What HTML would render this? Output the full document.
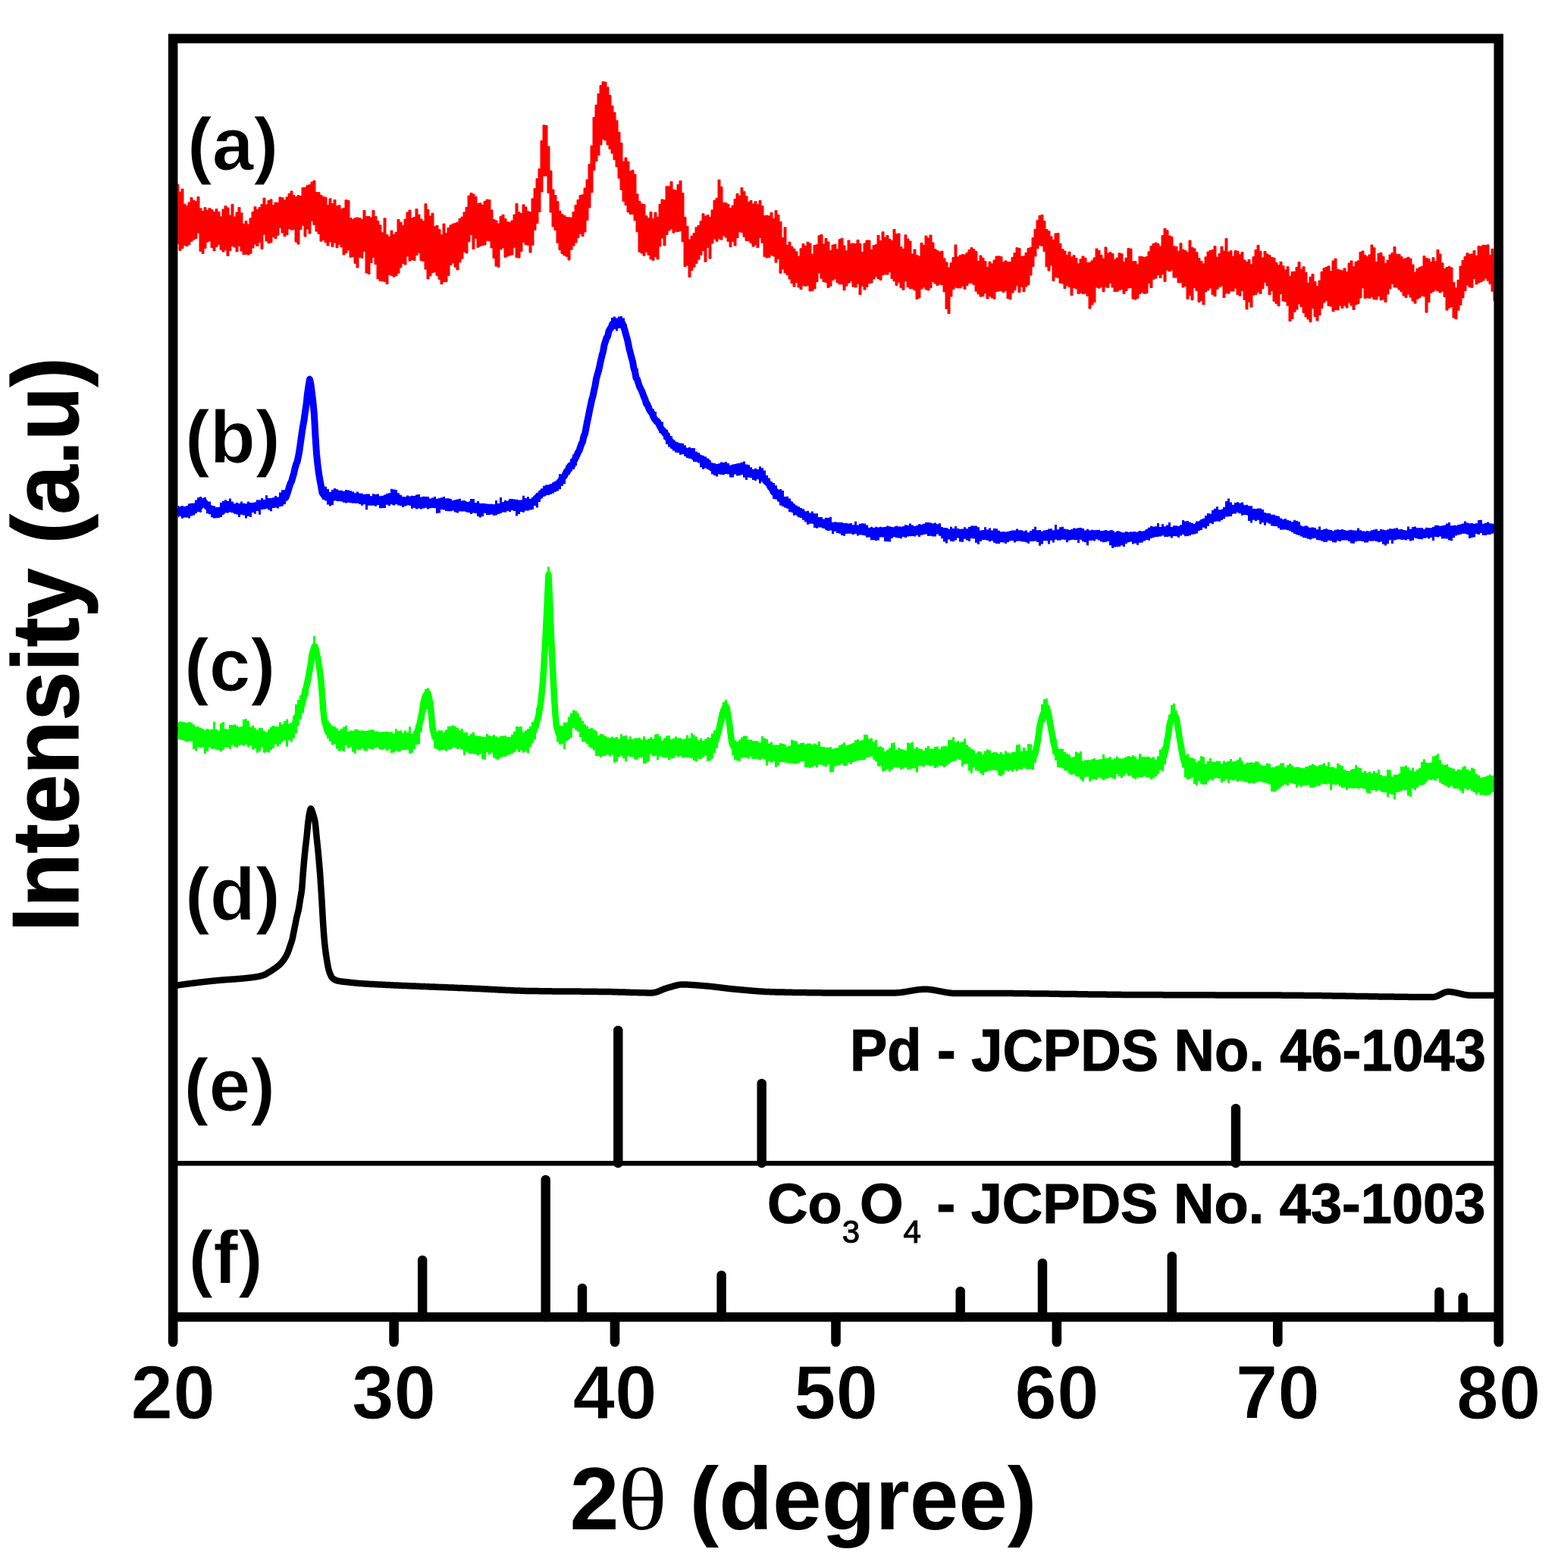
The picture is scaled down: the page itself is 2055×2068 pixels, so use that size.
<!DOCTYPE html>
<html><head><meta charset="utf-8"><style>
html,body{margin:0;padding:0;background:#fff;overflow:hidden;}
svg{display:block;}
</style></head><body>
<svg width="2055" height="2068" viewBox="0 0 2055 2068">
<rect width="2055" height="2068" fill="#fff"/>
<g fill="none" stroke-linejoin="round" stroke-linecap="round">
<path d="M234.5 243.2 L236.0 243.2 L236.0 253.1 L239.0 253.1 L239.0 249.2 L242.0 249.2 L242.0 269.2 L245.0 269.2 L245.0 271.4 L248.0 271.4 L248.0 267.0 L251.0 267.0 L251.0 260.5 L254.0 260.5 L254.0 264.3 L257.0 264.3 L257.0 265.8 L260.0 265.8 L260.0 259.7 L263.0 259.7 L263.0 274.9 L266.0 274.9 L266.0 278.6 L269.0 278.6 L269.0 273.7 L272.0 273.7 L272.0 277.4 L275.0 277.4 L275.0 274.7 L278.0 274.7 L278.0 276.5 L281.0 276.5 L281.0 279.6 L284.0 279.6 L284.0 275.7 L287.0 275.7 L287.0 279.4 L290.0 279.4 L290.0 285.8 L293.0 285.8 L293.0 276.0 L296.0 276.0 L296.0 271.6 L299.0 271.6 L299.0 274.0 L302.0 274.0 L302.0 284.0 L305.0 284.0 L305.0 269.4 L308.0 269.4 L308.0 285.9 L311.0 285.9 L311.0 280.0 L314.0 280.0 L314.0 273.5 L317.0 273.5 L317.0 280.9 L320.0 280.9 L320.0 295.4 L323.0 295.4 L323.0 291.6 L326.0 291.6 L326.0 296.1 L329.0 296.1 L329.0 287.8 L332.0 287.8 L332.0 279.5 L335.0 279.5 L335.0 272.8 L338.0 272.8 L338.0 276.5 L341.0 276.5 L341.0 273.6 L344.0 273.6 L344.0 269.4 L347.0 269.4 L347.0 261.2 L350.0 261.2 L350.0 269.9 L353.0 269.9 L353.0 264.5 L356.0 264.5 L356.0 262.9 L359.0 262.9 L359.0 270.5 L362.0 270.5 L362.0 267.1 L365.0 267.1 L365.0 267.2 L368.0 267.2 L368.0 260.1 L371.0 260.1 L371.0 260.8 L374.0 260.8 L374.0 263.9 L377.0 263.9 L377.0 259.9 L380.0 259.9 L380.0 255.4 L383.0 255.4 L383.0 252.1 L386.0 252.1 L386.0 257.5 L389.0 257.5 L389.0 259.8 L392.0 259.8 L392.0 257.7 L395.0 257.7 L395.0 258.7 L398.0 258.7 L398.0 247.5 L401.0 247.5 L401.0 247.3 L404.0 247.3 L404.0 244.4 L407.0 244.4 L407.0 243.7 L410.0 243.7 L410.0 240.1 L413.0 240.1 L413.0 238.2 L416.0 238.2 L416.0 253.5 L419.0 253.5 L419.0 253.8 L422.0 253.8 L422.0 257.4 L425.0 257.4 L425.0 259.6 L428.0 259.6 L428.0 260.2 L431.0 260.2 L431.0 270.6 L434.0 270.6 L434.0 261.9 L437.0 261.9 L437.0 268.6 L440.0 268.6 L440.0 263.6 L443.0 263.6 L443.0 271.5 L446.0 271.5 L446.0 270.8 L449.0 270.8 L449.0 275.5 L452.0 275.5 L452.0 274.4 L455.0 274.4 L455.0 263.8 L458.0 263.8 L458.0 264.4 L461.0 264.4 L461.0 287.5 L464.0 287.5 L464.0 289.3 L467.0 289.3 L467.0 287.4 L470.0 287.4 L470.0 287.0 L473.0 287.0 L473.0 287.7 L476.0 287.7 L476.0 289.3 L479.0 289.3 L479.0 277.5 L482.0 277.5 L482.0 285.6 L485.0 285.6 L485.0 285.5 L488.0 285.5 L488.0 287.0 L491.0 287.0 L491.0 277.4 L494.0 277.4 L494.0 285.5 L497.0 285.5 L497.0 291.5 L500.0 291.5 L500.0 296.9 L503.0 296.9 L503.0 306.8 L506.0 306.8 L506.0 287.8 L509.0 287.8 L509.0 309.7 L512.0 309.7 L512.0 312.1 L515.0 312.1 L515.0 304.2 L518.0 304.2 L518.0 309.5 L521.0 309.5 L521.0 306.3 L524.0 306.3 L524.0 289.4 L527.0 289.4 L527.0 293.2 L530.0 293.2 L530.0 297.5 L533.0 297.5 L533.0 289.1 L536.0 289.1 L536.0 280.0 L539.0 280.0 L539.0 277.1 L542.0 277.1 L542.0 287.7 L545.0 287.7 L545.0 286.4 L548.0 286.4 L548.0 275.6 L551.0 275.6 L551.0 283.1 L554.0 283.1 L554.0 288.9 L557.0 288.9 L557.0 291.7 L560.0 291.7 L560.0 268.8 L563.0 268.8 L563.0 276.5 L566.0 276.5 L566.0 285.1 L569.0 285.1 L569.0 281.2 L572.0 281.2 L572.0 298.8 L575.0 298.8 L575.0 297.3 L578.0 297.3 L578.0 302.7 L581.0 302.7 L581.0 309.7 L584.0 309.7 L584.0 295.1 L587.0 295.1 L587.0 307.4 L590.0 307.4 L590.0 300.5 L593.0 300.5 L593.0 296.9 L596.0 296.9 L596.0 295.2 L599.0 295.2 L599.0 294.4 L602.0 294.4 L602.0 293.2 L605.0 293.2 L605.0 288.5 L608.0 288.5 L608.0 286.1 L611.0 286.1 L611.0 279.9 L614.0 279.9 L614.0 273.3 L617.0 273.3 L617.0 258.2 L620.0 258.2 L620.0 254.6 L623.0 254.6 L623.0 256.0 L626.0 256.0 L626.0 259.4 L629.0 259.4 L629.0 268.6 L632.0 268.6 L632.0 267.8 L635.0 267.8 L635.0 270.3 L638.0 270.3 L638.0 265.6 L641.0 265.6 L641.0 263.2 L644.0 263.2 L644.0 263.7 L647.0 263.7 L647.0 276.9 L650.0 276.9 L650.0 289.6 L653.0 289.6 L653.0 290.9 L656.0 290.9 L656.0 294.9 L659.0 294.9 L659.0 285.6 L662.0 285.6 L662.0 283.2 L665.0 283.2 L665.0 288.6 L668.0 288.6 L668.0 292.7 L671.0 292.7 L671.0 293.2 L674.0 293.2 L674.0 291.0 L677.0 291.0 L677.0 283.1 L680.0 283.1 L680.0 268.5 L683.0 268.5 L683.0 279.8 L686.0 279.8 L686.0 281.6 L689.0 281.6 L689.0 269.9 L692.0 269.9 L692.0 273.0 L695.0 273.0 L695.0 278.8 L698.0 278.8 L698.0 279.7 L701.0 279.7 L701.0 261.9 L704.0 261.9 L704.0 248.7 L707.0 248.7 L707.0 235.7 L710.0 235.7 L710.0 222.7 L713.0 222.7 L713.0 185.7 L716.0 185.7 L716.0 165.0 L719.0 165.0 L719.0 165.6 L722.0 165.6 L722.0 193.1 L725.0 193.1 L725.0 225.2 L728.0 225.2 L728.0 250.0 L731.0 250.0 L731.0 257.6 L734.0 257.6 L734.0 265.8 L737.0 265.8 L737.0 278.2 L740.0 278.2 L740.0 282.4 L743.0 282.4 L743.0 284.3 L746.0 284.3 L746.0 286.5 L749.0 286.5 L749.0 286.8 L752.0 286.8 L752.0 287.1 L755.0 287.1 L755.0 279.6 L758.0 279.6 L758.0 270.4 L761.0 270.4 L761.0 263.6 L764.0 263.6 L764.0 257.7 L767.0 257.7 L767.0 256.8 L770.0 256.8 L770.0 248.0 L773.0 248.0 L773.0 236.9 L776.0 236.9 L776.0 216.6 L779.0 216.6 L779.0 192.2 L782.0 192.2 L782.0 154.8 L785.0 154.8 L785.0 138.4 L788.0 138.4 L788.0 123.7 L791.0 123.7 L791.0 112.7 L794.0 112.7 L794.0 107.8 L797.0 107.8 L797.0 108.2 L800.0 108.2 L800.0 114.9 L803.0 114.9 L803.0 125.6 L806.0 125.6 L806.0 139.6 L809.0 139.6 L809.0 148.2 L812.0 148.2 L812.0 158.9 L815.0 158.9 L815.0 174.3 L818.0 174.3 L818.0 188.6 L821.0 188.6 L821.0 213.1 L824.0 213.1 L824.0 208.0 L827.0 208.0 L827.0 213.2 L830.0 213.2 L830.0 225.7 L833.0 225.7 L833.0 224.3 L836.0 224.3 L836.0 229.9 L839.0 229.9 L839.0 255.9 L842.0 255.9 L842.0 265.4 L845.0 265.4 L845.0 268.8 L848.0 268.8 L848.0 269.6 L851.0 269.6 L851.0 284.7 L854.0 284.7 L854.0 287.8 L857.0 287.8 L857.0 279.5 L860.0 279.5 L860.0 288.6 L863.0 288.6 L863.0 280.2 L866.0 280.2 L866.0 286.3 L869.0 286.3 L869.0 269.4 L872.0 269.4 L872.0 263.0 L875.0 263.0 L875.0 263.8 L878.0 263.8 L878.0 245.7 L881.0 245.7 L881.0 246.0 L884.0 246.0 L884.0 239.6 L887.0 239.6 L887.0 250.1 L890.0 250.1 L890.0 251.1 L893.0 251.1 L893.0 243.6 L896.0 243.6 L896.0 238.5 L899.0 238.5 L899.0 254.7 L902.0 254.7 L902.0 286.4 L905.0 286.4 L905.0 298.4 L908.0 298.4 L908.0 316.0 L911.0 316.0 L911.0 311.2 L914.0 311.2 L914.0 307.6 L917.0 307.6 L917.0 299.9 L920.0 299.9 L920.0 297.5 L923.0 297.5 L923.0 291.7 L926.0 291.7 L926.0 281.8 L929.0 281.8 L929.0 285.1 L932.0 285.1 L932.0 283.5 L935.0 283.5 L935.0 286.4 L938.0 286.4 L938.0 276.9 L941.0 276.9 L941.0 264.2 L944.0 264.2 L944.0 261.3 L947.0 261.3 L947.0 237.2 L950.0 237.2 L950.0 246.3 L953.0 246.3 L953.0 267.4 L956.0 267.4 L956.0 267.6 L959.0 267.6 L959.0 269.5 L962.0 269.5 L962.0 274.7 L965.0 274.7 L965.0 271.1 L968.0 271.1 L968.0 262.8 L971.0 262.8 L971.0 255.4 L974.0 255.4 L974.0 258.5 L977.0 258.5 L977.0 247.6 L980.0 247.6 L980.0 252.7 L983.0 252.7 L983.0 258.8 L986.0 258.8 L986.0 266.2 L989.0 266.2 L989.0 264.5 L992.0 264.5 L992.0 269.0 L995.0 269.0 L995.0 265.8 L998.0 265.8 L998.0 269.8 L1001.0 269.8 L1001.0 264.5 L1004.0 264.5 L1004.0 271.5 L1007.0 271.5 L1007.0 284.4 L1010.0 284.4 L1010.0 284.1 L1013.0 284.1 L1013.0 284.9 L1016.0 284.9 L1016.0 280.4 L1019.0 280.4 L1019.0 288.4 L1022.0 288.4 L1022.0 277.7 L1025.0 277.7 L1025.0 283.3 L1028.0 283.3 L1028.0 292.3 L1031.0 292.3 L1031.0 313.6 L1034.0 313.6 L1034.0 299.9 L1037.0 299.9 L1037.0 323.3 L1040.0 323.3 L1040.0 319.1 L1043.0 319.1 L1043.0 325.2 L1046.0 325.2 L1046.0 328.3 L1049.0 328.3 L1049.0 331.9 L1052.0 331.9 L1052.0 338.0 L1055.0 338.0 L1055.0 327.8 L1058.0 327.8 L1058.0 321.6 L1061.0 321.6 L1061.0 324.5 L1064.0 324.5 L1064.0 319.2 L1067.0 319.2 L1067.0 321.0 L1070.0 321.0 L1070.0 335.2 L1073.0 335.2 L1073.0 323.4 L1076.0 323.4 L1076.0 322.8 L1079.0 322.8 L1079.0 310.7 L1082.0 310.7 L1082.0 309.4 L1085.0 309.4 L1085.0 322.0 L1088.0 322.0 L1088.0 314.6 L1091.0 314.6 L1091.0 319.0 L1094.0 319.0 L1094.0 330.4 L1097.0 330.4 L1097.0 323.1 L1100.0 323.1 L1100.0 322.2 L1103.0 322.2 L1103.0 328.8 L1106.0 328.8 L1106.0 315.8 L1109.0 315.8 L1109.0 314.2 L1112.0 314.2 L1112.0 323.9 L1115.0 323.9 L1115.0 330.8 L1118.0 330.8 L1118.0 317.0 L1121.0 317.0 L1121.0 321.3 L1124.0 321.3 L1124.0 321.0 L1127.0 321.0 L1127.0 321.4 L1130.0 321.4 L1130.0 316.4 L1133.0 316.4 L1133.0 321.3 L1136.0 321.3 L1136.0 332.6 L1139.0 332.6 L1139.0 321.0 L1142.0 321.0 L1142.0 317.0 L1145.0 317.0 L1145.0 317.1 L1148.0 317.1 L1148.0 329.2 L1151.0 329.2 L1151.0 323.7 L1154.0 323.7 L1154.0 322.7 L1157.0 322.7 L1157.0 310.3 L1160.0 310.3 L1160.0 317.5 L1163.0 317.5 L1163.0 305.8 L1166.0 305.8 L1166.0 313.1 L1169.0 313.1 L1169.0 310.6 L1172.0 310.6 L1172.0 315.6 L1175.0 315.6 L1175.0 317.4 L1178.0 317.4 L1178.0 302.5 L1181.0 302.5 L1181.0 308.6 L1184.0 308.6 L1184.0 308.1 L1187.0 308.1 L1187.0 325.6 L1190.0 325.6 L1190.0 328.7 L1193.0 328.7 L1193.0 309.8 L1196.0 309.8 L1196.0 315.1 L1199.0 315.1 L1199.0 318.1 L1202.0 318.1 L1202.0 335.1 L1205.0 335.1 L1205.0 329.0 L1208.0 329.0 L1208.0 336.7 L1211.0 336.7 L1211.0 338.0 L1214.0 338.0 L1214.0 320.4 L1217.0 320.4 L1217.0 323.5 L1220.0 323.5 L1220.0 311.1 L1223.0 311.1 L1223.0 314.0 L1226.0 314.0 L1226.0 310.0 L1229.0 310.0 L1229.0 320.0 L1232.0 320.0 L1232.0 328.7 L1235.0 328.7 L1235.0 330.6 L1238.0 330.6 L1238.0 332.1 L1241.0 332.1 L1241.0 331.2 L1244.0 331.2 L1244.0 340.9 L1247.0 340.9 L1247.0 345.9 L1250.0 345.9 L1250.0 353.0 L1253.0 353.0 L1253.0 346.8 L1256.0 346.8 L1256.0 339.5 L1259.0 339.5 L1259.0 323.0 L1262.0 323.0 L1262.0 339.0 L1265.0 339.0 L1265.0 336.8 L1268.0 336.8 L1268.0 335.6 L1271.0 335.6 L1271.0 336.0 L1274.0 336.0 L1274.0 333.4 L1277.0 333.4 L1277.0 329.6 L1280.0 329.6 L1280.0 326.6 L1283.0 326.6 L1283.0 328.8 L1286.0 328.8 L1286.0 331.5 L1289.0 331.5 L1289.0 344.4 L1292.0 344.4 L1292.0 337.0 L1295.0 337.0 L1295.0 340.2 L1298.0 340.2 L1298.0 344.7 L1301.0 344.7 L1301.0 352.2 L1304.0 352.2 L1304.0 345.3 L1307.0 345.3 L1307.0 347.9 L1310.0 347.9 L1310.0 343.1 L1313.0 343.1 L1313.0 338.0 L1316.0 338.0 L1316.0 337.9 L1319.0 337.9 L1319.0 338.5 L1322.0 338.5 L1322.0 345.6 L1325.0 345.6 L1325.0 343.9 L1328.0 343.9 L1328.0 345.5 L1331.0 345.5 L1331.0 345.5 L1334.0 345.5 L1334.0 339.3 L1337.0 339.3 L1337.0 333.6 L1340.0 333.6 L1340.0 326.7 L1343.0 326.7 L1343.0 327.6 L1346.0 327.6 L1346.0 338.1 L1349.0 338.1 L1349.0 337.9 L1352.0 337.9 L1352.0 333.4 L1355.0 333.4 L1355.0 327.7 L1358.0 327.7 L1358.0 326.2 L1361.0 326.2 L1361.0 313.5 L1364.0 313.5 L1364.0 302.3 L1367.0 302.3 L1367.0 290.8 L1370.0 290.8 L1370.0 284.3 L1373.0 284.3 L1373.0 283.4 L1376.0 283.4 L1376.0 291.4 L1379.0 291.4 L1379.0 302.6 L1382.0 302.6 L1382.0 304.8 L1385.0 304.8 L1385.0 311.9 L1388.0 311.9 L1388.0 316.4 L1391.0 316.4 L1391.0 307.9 L1394.0 307.9 L1394.0 307.6 L1397.0 307.6 L1397.0 321.3 L1400.0 321.3 L1400.0 328.6 L1403.0 328.6 L1403.0 331.1 L1406.0 331.1 L1406.0 336.6 L1409.0 336.6 L1409.0 332.1 L1412.0 332.1 L1412.0 339.0 L1415.0 339.0 L1415.0 336.8 L1418.0 336.8 L1418.0 340.4 L1421.0 340.4 L1421.0 347.8 L1424.0 347.8 L1424.0 341.7 L1427.0 341.7 L1427.0 337.9 L1430.0 337.9 L1430.0 340.2 L1433.0 340.2 L1433.0 346.3 L1436.0 346.3 L1436.0 346.2 L1439.0 346.2 L1439.0 343.8 L1442.0 343.8 L1442.0 339.9 L1445.0 339.9 L1445.0 328.1 L1448.0 328.1 L1448.0 330.4 L1451.0 330.4 L1451.0 336.4 L1454.0 336.4 L1454.0 341.1 L1457.0 341.1 L1457.0 326.0 L1460.0 326.0 L1460.0 334.0 L1463.0 334.0 L1463.0 332.8 L1466.0 332.8 L1466.0 334.6 L1469.0 334.6 L1469.0 342.3 L1472.0 342.3 L1472.0 340.0 L1475.0 340.0 L1475.0 333.7 L1478.0 333.7 L1478.0 334.8 L1481.0 334.8 L1481.0 345.3 L1484.0 345.3 L1484.0 340.2 L1487.0 340.2 L1487.0 327.5 L1490.0 327.5 L1490.0 328.2 L1493.0 328.2 L1493.0 344.7 L1496.0 344.7 L1496.0 344.7 L1499.0 344.7 L1499.0 348.9 L1502.0 348.9 L1502.0 338.2 L1505.0 338.2 L1505.0 338.5 L1508.0 338.5 L1508.0 339.5 L1511.0 339.5 L1511.0 338.4 L1514.0 338.4 L1514.0 331.9 L1517.0 331.9 L1517.0 324.6 L1520.0 324.6 L1520.0 321.5 L1523.0 321.5 L1523.0 320.1 L1526.0 320.1 L1526.0 321.4 L1529.0 321.4 L1529.0 325.0 L1532.0 325.0 L1532.0 310.6 L1535.0 310.6 L1535.0 301.3 L1538.0 301.3 L1538.0 303.8 L1541.0 303.8 L1541.0 310.9 L1544.0 310.9 L1544.0 312.3 L1547.0 312.3 L1547.0 324.8 L1550.0 324.8 L1550.0 325.3 L1553.0 325.3 L1553.0 331.2 L1556.0 331.2 L1556.0 320.8 L1559.0 320.8 L1559.0 329.1 L1562.0 329.1 L1562.0 330.5 L1565.0 330.5 L1565.0 332.8 L1568.0 332.8 L1568.0 317.1 L1571.0 317.1 L1571.0 326.3 L1574.0 326.3 L1574.0 327.9 L1577.0 327.9 L1577.0 332.8 L1580.0 332.8 L1580.0 340.6 L1583.0 340.6 L1583.0 344.7 L1586.0 344.7 L1586.0 347.8 L1589.0 347.8 L1589.0 338.8 L1592.0 338.8 L1592.0 332.1 L1595.0 332.1 L1595.0 330.2 L1598.0 330.2 L1598.0 329.6 L1601.0 329.6 L1601.0 324.6 L1604.0 324.6 L1604.0 339.3 L1607.0 339.3 L1607.0 334.4 L1610.0 334.4 L1610.0 325.2 L1613.0 325.2 L1613.0 331.2 L1616.0 331.2 L1616.0 314.6 L1619.0 314.6 L1619.0 332.3 L1622.0 332.3 L1622.0 330.7 L1625.0 330.7 L1625.0 338.1 L1628.0 338.1 L1628.0 330.5 L1631.0 330.5 L1631.0 331.3 L1634.0 331.3 L1634.0 335.8 L1637.0 335.8 L1637.0 332.5 L1640.0 332.5 L1640.0 342.9 L1643.0 342.9 L1643.0 345.4 L1646.0 345.4 L1646.0 342.3 L1649.0 342.3 L1649.0 348.8 L1652.0 348.8 L1652.0 338.6 L1655.0 338.6 L1655.0 329.5 L1658.0 329.5 L1658.0 323.3 L1661.0 323.3 L1661.0 331.3 L1664.0 331.3 L1664.0 339.9 L1667.0 339.9 L1667.0 331.5 L1670.0 331.5 L1670.0 335.0 L1673.0 335.0 L1673.0 336.7 L1676.0 336.7 L1676.0 339.5 L1679.0 339.5 L1679.0 340.1 L1682.0 340.1 L1682.0 346.3 L1685.0 346.3 L1685.0 349.6 L1688.0 349.6 L1688.0 345.3 L1691.0 345.3 L1691.0 350.8 L1694.0 350.8 L1694.0 355.9 L1697.0 355.9 L1697.0 351.7 L1700.0 351.7 L1700.0 364.2 L1703.0 364.2 L1703.0 358.5 L1706.0 358.5 L1706.0 358.3 L1709.0 358.3 L1709.0 352.4 L1712.0 352.4 L1712.0 345.7 L1715.0 345.7 L1715.0 355.2 L1718.0 355.2 L1718.0 351.8 L1721.0 351.8 L1721.0 359.2 L1724.0 359.2 L1724.0 373.2 L1727.0 373.2 L1727.0 365.2 L1730.0 365.2 L1730.0 361.4 L1733.0 361.4 L1733.0 371.5 L1736.0 371.5 L1736.0 377.6 L1739.0 377.6 L1739.0 370.1 L1742.0 370.1 L1742.0 358.4 L1745.0 358.4 L1745.0 353.8 L1748.0 353.8 L1748.0 352.3 L1751.0 352.3 L1751.0 350.9 L1754.0 350.9 L1754.0 357.7 L1757.0 357.7 L1757.0 343.9 L1760.0 343.9 L1760.0 341.1 L1763.0 341.1 L1763.0 355.2 L1766.0 355.2 L1766.0 356.1 L1769.0 356.1 L1769.0 356.9 L1772.0 356.9 L1772.0 353.9 L1775.0 353.9 L1775.0 358.4 L1778.0 358.4 L1778.0 347.0 L1781.0 347.0 L1781.0 344.0 L1784.0 344.0 L1784.0 351.6 L1787.0 351.6 L1787.0 345.4 L1790.0 345.4 L1790.0 343.9 L1793.0 343.9 L1793.0 332.5 L1796.0 332.5 L1796.0 331.0 L1799.0 331.0 L1799.0 336.5 L1802.0 336.5 L1802.0 338.3 L1805.0 338.3 L1805.0 335.9 L1808.0 335.9 L1808.0 323.0 L1811.0 323.0 L1811.0 326.8 L1814.0 326.8 L1814.0 345.3 L1817.0 345.3 L1817.0 334.2 L1820.0 334.2 L1820.0 333.4 L1823.0 333.4 L1823.0 338.2 L1826.0 338.2 L1826.0 347.3 L1829.0 347.3 L1829.0 343.2 L1832.0 343.2 L1832.0 336.1 L1835.0 336.1 L1835.0 333.6 L1838.0 333.6 L1838.0 325.5 L1841.0 325.5 L1841.0 335.4 L1844.0 335.4 L1844.0 335.3 L1847.0 335.3 L1847.0 338.4 L1850.0 338.4 L1850.0 341.6 L1853.0 341.6 L1853.0 340.8 L1856.0 340.8 L1856.0 339.2 L1859.0 339.2 L1859.0 341.1 L1862.0 341.1 L1862.0 349.0 L1865.0 349.0 L1865.0 359.2 L1868.0 359.2 L1868.0 354.4 L1871.0 354.4 L1871.0 352.7 L1874.0 352.7 L1874.0 351.3 L1877.0 351.3 L1877.0 337.6 L1880.0 337.6 L1880.0 340.4 L1883.0 340.4 L1883.0 341.4 L1886.0 341.4 L1886.0 345.5 L1889.0 345.5 L1889.0 339.7 L1892.0 339.7 L1892.0 344.8 L1895.0 344.8 L1895.0 329.4 L1898.0 329.4 L1898.0 335.1 L1901.0 335.1 L1901.0 346.9 L1904.0 346.9 L1904.0 354.4 L1907.0 354.4 L1907.0 352.6 L1910.0 352.6 L1910.0 351.3 L1913.0 351.3 L1913.0 353.0 L1916.0 353.0 L1916.0 372.5 L1919.0 372.5 L1919.0 379.8 L1922.0 379.8 L1922.0 369.3 L1925.0 369.3 L1925.0 351.0 L1928.0 351.0 L1928.0 343.4 L1931.0 343.4 L1931.0 338.5 L1934.0 338.5 L1934.0 333.8 L1937.0 333.8 L1937.0 335.4 L1940.0 335.4 L1940.0 334.9 L1943.0 334.9 L1943.0 330.5 L1946.0 330.5 L1946.0 337.3 L1949.0 337.3 L1949.0 324.6 L1952.0 324.6 L1952.0 324.9 L1955.0 324.9 L1955.0 323.2 L1958.0 323.2 L1958.0 323.6 L1961.0 323.6 L1961.0 322.9 L1964.0 322.9 L1964.0 336.4 L1967.0 336.4 L1967.0 328.3 L1970.0 328.3 L1970.0 341.6 L1970.4 341.6 L1970.4 396.7 L1970.0 396.7 L1970.0 384.2 L1967.0 384.2 L1967.0 374.6 L1964.0 374.6 L1964.0 370.1 L1961.0 370.1 L1961.0 367.0 L1958.0 367.0 L1958.0 370.0 L1955.0 370.0 L1955.0 371.8 L1952.0 371.8 L1952.0 372.9 L1949.0 372.9 L1949.0 374.9 L1946.0 374.9 L1946.0 367.5 L1943.0 367.5 L1943.0 379.2 L1940.0 379.2 L1940.0 378.5 L1937.0 378.5 L1937.0 376.1 L1934.0 376.1 L1934.0 383.5 L1931.0 383.5 L1931.0 392.9 L1928.0 392.9 L1928.0 402.2 L1925.0 402.2 L1925.0 409.2 L1922.0 409.2 L1922.0 420.7 L1919.0 420.7 L1919.0 419.1 L1916.0 419.1 L1916.0 404.5 L1913.0 404.5 L1913.0 406.2 L1910.0 406.2 L1910.0 409.1 L1907.0 409.1 L1907.0 391.6 L1904.0 391.6 L1904.0 384.2 L1901.0 384.2 L1901.0 385.9 L1898.0 385.9 L1898.0 383.8 L1895.0 383.8 L1895.0 382.4 L1892.0 382.4 L1892.0 384.6 L1889.0 384.6 L1889.0 386.5 L1886.0 386.5 L1886.0 398.5 L1883.0 398.5 L1883.0 412.1 L1880.0 412.1 L1880.0 390.9 L1877.0 390.9 L1877.0 389.9 L1874.0 389.9 L1874.0 392.5 L1871.0 392.5 L1871.0 394.3 L1868.0 394.3 L1868.0 400.1 L1865.0 400.1 L1865.0 397.0 L1862.0 397.0 L1862.0 392.1 L1859.0 392.1 L1859.0 388.0 L1856.0 388.0 L1856.0 392.4 L1853.0 392.4 L1853.0 389.9 L1850.0 389.9 L1850.0 384.8 L1847.0 384.8 L1847.0 382.0 L1844.0 382.0 L1844.0 379.0 L1841.0 379.0 L1841.0 378.9 L1838.0 378.9 L1838.0 374.3 L1835.0 374.3 L1835.0 380.8 L1832.0 380.8 L1832.0 388.0 L1829.0 388.0 L1829.0 398.4 L1826.0 398.4 L1826.0 395.0 L1823.0 395.0 L1823.0 395.8 L1820.0 395.8 L1820.0 390.6 L1817.0 390.6 L1817.0 395.0 L1814.0 395.0 L1814.0 394.8 L1811.0 394.8 L1811.0 391.7 L1808.0 391.7 L1808.0 393.2 L1805.0 393.2 L1805.0 392.8 L1802.0 392.8 L1802.0 393.3 L1799.0 393.3 L1799.0 379.8 L1796.0 379.8 L1796.0 392.9 L1793.0 392.9 L1793.0 400.4 L1790.0 400.4 L1790.0 401.7 L1787.0 401.7 L1787.0 408.4 L1784.0 408.4 L1784.0 402.9 L1781.0 402.9 L1781.0 399.0 L1778.0 399.0 L1778.0 405.9 L1775.0 405.9 L1775.0 403.0 L1772.0 403.0 L1772.0 406.4 L1769.0 406.4 L1769.0 403.1 L1766.0 403.1 L1766.0 408.9 L1763.0 408.9 L1763.0 408.5 L1760.0 408.5 L1760.0 410.8 L1757.0 410.8 L1757.0 404.0 L1754.0 404.0 L1754.0 403.3 L1751.0 403.3 L1751.0 396.5 L1748.0 396.5 L1748.0 399.0 L1745.0 399.0 L1745.0 406.6 L1742.0 406.6 L1742.0 415.7 L1739.0 415.7 L1739.0 422.9 L1736.0 422.9 L1736.0 417.4 L1733.0 417.4 L1733.0 406.7 L1730.0 406.7 L1730.0 424.8 L1727.0 424.8 L1727.0 421.0 L1724.0 421.0 L1724.0 417.8 L1721.0 417.8 L1721.0 412.4 L1718.0 412.4 L1718.0 404.7 L1715.0 404.7 L1715.0 400.9 L1712.0 400.9 L1712.0 408.1 L1709.0 408.1 L1709.0 411.3 L1706.0 411.3 L1706.0 420.6 L1703.0 420.6 L1703.0 423.6 L1700.0 423.6 L1700.0 403.0 L1697.0 403.0 L1697.0 397.7 L1694.0 397.7 L1694.0 397.0 L1691.0 397.0 L1691.0 387.6 L1688.0 387.6 L1688.0 403.5 L1685.0 403.5 L1685.0 400.3 L1682.0 400.3 L1682.0 397.2 L1679.0 397.2 L1679.0 383.4 L1676.0 383.4 L1676.0 388.7 L1673.0 388.7 L1673.0 377.0 L1670.0 377.0 L1670.0 372.3 L1667.0 372.3 L1667.0 380.7 L1664.0 380.7 L1664.0 387.3 L1661.0 387.3 L1661.0 385.1 L1658.0 385.1 L1658.0 388.2 L1655.0 388.2 L1655.0 389.2 L1652.0 389.2 L1652.0 405.1 L1649.0 405.1 L1649.0 398.3 L1646.0 398.3 L1646.0 407.9 L1643.0 407.9 L1643.0 395.4 L1640.0 395.4 L1640.0 383.3 L1637.0 383.3 L1637.0 390.2 L1634.0 390.2 L1634.0 388.5 L1631.0 388.5 L1631.0 380.2 L1628.0 380.2 L1628.0 384.1 L1625.0 384.1 L1625.0 383.9 L1622.0 383.9 L1622.0 387.1 L1619.0 387.1 L1619.0 386.7 L1616.0 386.7 L1616.0 392.5 L1613.0 392.5 L1613.0 376.8 L1610.0 376.8 L1610.0 378.4 L1607.0 378.4 L1607.0 381.3 L1604.0 381.3 L1604.0 390.7 L1601.0 390.7 L1601.0 388.6 L1598.0 388.6 L1598.0 379.9 L1595.0 379.9 L1595.0 382.8 L1592.0 382.8 L1592.0 384.7 L1589.0 384.7 L1589.0 401.7 L1586.0 401.7 L1586.0 396.6 L1583.0 396.6 L1583.0 398.4 L1580.0 398.4 L1580.0 383.3 L1577.0 383.3 L1577.0 379.6 L1574.0 379.6 L1574.0 395.7 L1571.0 395.7 L1571.0 389.3 L1568.0 389.3 L1568.0 394.2 L1565.0 394.2 L1565.0 377.2 L1562.0 377.2 L1562.0 378.9 L1559.0 378.9 L1559.0 372.8 L1556.0 372.8 L1556.0 372.8 L1553.0 372.8 L1553.0 366.1 L1550.0 366.1 L1550.0 366.0 L1547.0 366.0 L1547.0 356.3 L1544.0 356.3 L1544.0 357.9 L1541.0 357.9 L1541.0 356.1 L1538.0 356.1 L1538.0 371.3 L1535.0 371.3 L1535.0 361.7 L1532.0 361.7 L1532.0 366.3 L1529.0 366.3 L1529.0 362.5 L1526.0 362.5 L1526.0 367.0 L1523.0 367.0 L1523.0 368.2 L1520.0 368.2 L1520.0 379.5 L1517.0 379.5 L1517.0 373.8 L1514.0 373.8 L1514.0 386.6 L1511.0 386.6 L1511.0 387.3 L1508.0 387.3 L1508.0 385.4 L1505.0 385.4 L1505.0 387.5 L1502.0 387.5 L1502.0 393.2 L1499.0 393.2 L1499.0 395.1 L1496.0 395.1 L1496.0 394.1 L1493.0 394.1 L1493.0 379.6 L1490.0 379.6 L1490.0 379.9 L1487.0 379.9 L1487.0 383.4 L1484.0 383.4 L1484.0 387.3 L1481.0 387.3 L1481.0 381.8 L1478.0 381.8 L1478.0 382.6 L1475.0 382.6 L1475.0 384.4 L1472.0 384.4 L1472.0 384.6 L1469.0 384.6 L1469.0 379.0 L1466.0 379.0 L1466.0 373.7 L1463.0 373.7 L1463.0 379.2 L1460.0 379.2 L1460.0 378.6 L1457.0 378.6 L1457.0 384.8 L1454.0 384.8 L1454.0 378.4 L1451.0 378.4 L1451.0 380.1 L1448.0 380.1 L1448.0 378.9 L1445.0 378.9 L1445.0 398.6 L1442.0 398.6 L1442.0 401.9 L1439.0 401.9 L1439.0 407.0 L1436.0 407.0 L1436.0 390.4 L1433.0 390.4 L1433.0 387.0 L1430.0 387.0 L1430.0 387.6 L1427.0 387.6 L1427.0 386.1 L1424.0 386.1 L1424.0 387.5 L1421.0 387.5 L1421.0 380.8 L1418.0 380.8 L1418.0 379.6 L1415.0 379.6 L1415.0 389.5 L1412.0 389.5 L1412.0 378.3 L1409.0 378.3 L1409.0 376.7 L1406.0 376.7 L1406.0 380.6 L1403.0 380.6 L1403.0 374.0 L1400.0 374.0 L1400.0 373.2 L1397.0 373.2 L1397.0 366.2 L1394.0 366.2 L1394.0 365.6 L1391.0 365.6 L1391.0 370.3 L1388.0 370.3 L1388.0 349.9 L1385.0 349.9 L1385.0 357.1 L1382.0 357.1 L1382.0 351.8 L1379.0 351.8 L1379.0 331.5 L1376.0 331.5 L1376.0 324.5 L1373.0 324.5 L1373.0 323.6 L1370.0 323.6 L1370.0 327.7 L1367.0 327.7 L1367.0 338.0 L1364.0 338.0 L1364.0 351.5 L1361.0 351.5 L1361.0 363.0 L1358.0 363.0 L1358.0 375.4 L1355.0 375.4 L1355.0 377.9 L1352.0 377.9 L1352.0 384.5 L1349.0 384.5 L1349.0 378.2 L1346.0 378.2 L1346.0 385.5 L1343.0 385.5 L1343.0 376.8 L1340.0 376.8 L1340.0 382.8 L1337.0 382.8 L1337.0 386.1 L1334.0 386.1 L1334.0 394.8 L1331.0 394.8 L1331.0 393.6 L1328.0 393.6 L1328.0 383.3 L1325.0 383.3 L1325.0 385.5 L1322.0 385.5 L1322.0 383.4 L1319.0 383.4 L1319.0 384.0 L1316.0 384.0 L1316.0 384.4 L1313.0 384.4 L1313.0 394.2 L1310.0 394.2 L1310.0 392.9 L1307.0 392.9 L1307.0 390.6 L1304.0 390.6 L1304.0 393.9 L1301.0 393.9 L1301.0 386.8 L1298.0 386.8 L1298.0 390.7 L1295.0 390.7 L1295.0 391.1 L1292.0 391.1 L1292.0 387.8 L1289.0 387.8 L1289.0 384.1 L1286.0 384.1 L1286.0 375.4 L1283.0 375.4 L1283.0 373.6 L1280.0 373.6 L1280.0 373.2 L1277.0 373.2 L1277.0 376.6 L1274.0 376.6 L1274.0 381.2 L1271.0 381.2 L1271.0 377.6 L1268.0 377.6 L1268.0 379.9 L1265.0 379.9 L1265.0 379.8 L1262.0 379.8 L1262.0 378.9 L1259.0 378.9 L1259.0 381.4 L1256.0 381.4 L1256.0 391.0 L1253.0 391.0 L1253.0 413.6 L1250.0 413.6 L1250.0 407.2 L1247.0 407.2 L1247.0 384.9 L1244.0 384.9 L1244.0 375.7 L1241.0 375.7 L1241.0 374.9 L1238.0 374.9 L1238.0 376.5 L1235.0 376.5 L1235.0 373.9 L1232.0 373.9 L1232.0 371.4 L1229.0 371.4 L1229.0 379.8 L1226.0 379.8 L1226.0 382.9 L1223.0 382.9 L1223.0 381.8 L1220.0 381.8 L1220.0 378.7 L1217.0 378.7 L1217.0 381.0 L1214.0 381.0 L1214.0 392.9 L1211.0 392.9 L1211.0 394.5 L1208.0 394.5 L1208.0 382.8 L1205.0 382.8 L1205.0 380.8 L1202.0 380.8 L1202.0 380.5 L1199.0 380.5 L1199.0 378.5 L1196.0 378.5 L1196.0 370.7 L1193.0 370.7 L1193.0 382.2 L1190.0 382.2 L1190.0 379.3 L1187.0 379.3 L1187.0 372.3 L1184.0 372.3 L1184.0 376.3 L1181.0 376.3 L1181.0 370.7 L1178.0 370.7 L1178.0 367.3 L1175.0 367.3 L1175.0 358.7 L1172.0 358.7 L1172.0 362.0 L1169.0 362.0 L1169.0 361.7 L1166.0 361.7 L1166.0 362.8 L1163.0 362.8 L1163.0 369.4 L1160.0 369.4 L1160.0 367.5 L1157.0 367.5 L1157.0 364.9 L1154.0 364.9 L1154.0 367.9 L1151.0 367.9 L1151.0 373.0 L1148.0 373.0 L1148.0 373.7 L1145.0 373.7 L1145.0 378.3 L1142.0 378.3 L1142.0 382.0 L1139.0 382.0 L1139.0 377.3 L1136.0 377.3 L1136.0 388.7 L1133.0 388.7 L1133.0 374.4 L1130.0 374.4 L1130.0 378.9 L1127.0 378.9 L1127.0 378.1 L1124.0 378.1 L1124.0 370.8 L1121.0 370.8 L1121.0 373.1 L1118.0 373.1 L1118.0 377.0 L1115.0 377.0 L1115.0 382.7 L1112.0 382.7 L1112.0 374.8 L1109.0 374.8 L1109.0 374.8 L1106.0 374.8 L1106.0 372.8 L1103.0 372.8 L1103.0 367.7 L1100.0 367.7 L1100.0 369.6 L1097.0 369.6 L1097.0 377.2 L1094.0 377.2 L1094.0 379.3 L1091.0 379.3 L1091.0 372.4 L1088.0 372.4 L1088.0 371.6 L1085.0 371.6 L1085.0 367.2 L1082.0 367.2 L1082.0 360.0 L1079.0 360.0 L1079.0 371.6 L1076.0 371.6 L1076.0 380.8 L1073.0 380.8 L1073.0 383.3 L1070.0 383.3 L1070.0 383.9 L1067.0 383.9 L1067.0 376.7 L1064.0 376.7 L1064.0 377.3 L1061.0 377.3 L1061.0 376.6 L1058.0 376.6 L1058.0 381.7 L1055.0 381.7 L1055.0 378.9 L1052.0 378.9 L1052.0 372.7 L1049.0 372.7 L1049.0 378.1 L1046.0 378.1 L1046.0 373.5 L1043.0 373.5 L1043.0 368.1 L1040.0 368.1 L1040.0 362.6 L1037.0 362.6 L1037.0 359.9 L1034.0 359.9 L1034.0 354.8 L1031.0 354.8 L1031.0 360.3 L1028.0 360.3 L1028.0 341.7 L1025.0 341.7 L1025.0 346.1 L1022.0 346.1 L1022.0 337.9 L1019.0 337.9 L1019.0 336.4 L1016.0 336.4 L1016.0 339.4 L1013.0 339.4 L1013.0 339.9 L1010.0 339.9 L1010.0 338.3 L1007.0 338.3 L1007.0 320.4 L1004.0 320.4 L1004.0 313.4 L1001.0 313.4 L1001.0 326.5 L998.0 326.5 L998.0 323.0 L995.0 323.0 L995.0 325.1 L992.0 325.1 L992.0 320.7 L989.0 320.7 L989.0 317.7 L986.0 317.7 L986.0 317.4 L983.0 317.4 L983.0 312.3 L980.0 312.3 L980.0 306.4 L977.0 306.4 L977.0 305.8 L974.0 305.8 L974.0 313.7 L971.0 313.7 L971.0 324.0 L968.0 324.0 L968.0 318.5 L965.0 318.5 L965.0 325.6 L962.0 325.6 L962.0 318.3 L959.0 318.3 L959.0 313.0 L956.0 313.0 L956.0 310.8 L953.0 310.8 L953.0 316.1 L950.0 316.1 L950.0 314.7 L947.0 314.7 L947.0 318.3 L944.0 318.3 L944.0 315.1 L941.0 315.1 L941.0 321.0 L938.0 321.0 L938.0 341.1 L935.0 341.1 L935.0 326.4 L932.0 326.4 L932.0 345.2 L929.0 345.2 L929.0 330.4 L926.0 330.4 L926.0 336.2 L923.0 336.2 L923.0 342.2 L920.0 342.2 L920.0 347.3 L917.0 347.3 L917.0 352.2 L914.0 352.2 L914.0 356.7 L911.0 356.7 L911.0 365.3 L908.0 365.3 L908.0 350.1 L905.0 350.1 L905.0 351.6 L902.0 351.6 L902.0 318.8 L899.0 318.8 L899.0 304.3 L896.0 304.3 L896.0 305.5 L893.0 305.5 L893.0 305.2 L890.0 305.2 L890.0 307.1 L887.0 307.1 L887.0 302.0 L884.0 302.0 L884.0 304.1 L881.0 304.1 L881.0 309.5 L878.0 309.5 L878.0 323.8 L875.0 323.8 L875.0 314.0 L872.0 314.0 L872.0 325.0 L869.0 325.0 L869.0 341.9 L866.0 341.9 L866.0 338.7 L863.0 338.7 L863.0 343.3 L860.0 343.3 L860.0 341.8 L857.0 341.8 L857.0 336.2 L854.0 336.2 L854.0 332.2 L851.0 332.2 L851.0 337.2 L848.0 337.2 L848.0 334.1 L845.0 334.1 L845.0 332.2 L842.0 332.2 L842.0 305.8 L839.0 305.8 L839.0 290.8 L836.0 290.8 L836.0 282.6 L833.0 282.6 L833.0 282.4 L830.0 282.4 L830.0 279.7 L827.0 279.7 L827.0 270.6 L824.0 270.6 L824.0 265.5 L821.0 265.5 L821.0 250.3 L818.0 250.3 L818.0 235.1 L815.0 235.1 L815.0 220.0 L812.0 220.0 L812.0 210.8 L809.0 210.8 L809.0 202.2 L806.0 202.2 L806.0 196.5 L803.0 196.5 L803.0 191.0 L800.0 191.0 L800.0 185.1 L797.0 185.1 L797.0 183.2 L794.0 183.2 L794.0 190.9 L791.0 190.9 L791.0 204.8 L788.0 204.8 L788.0 212.6 L785.0 212.6 L785.0 224.6 L782.0 224.6 L782.0 253.9 L779.0 253.9 L779.0 274.0 L776.0 274.0 L776.0 290.5 L773.0 290.5 L773.0 306.0 L770.0 306.0 L770.0 311.6 L767.0 311.6 L767.0 308.3 L764.0 308.3 L764.0 313.6 L761.0 313.6 L761.0 320.0 L758.0 320.0 L758.0 324.2 L755.0 324.2 L755.0 329.2 L752.0 329.2 L752.0 343.0 L749.0 343.0 L749.0 338.2 L746.0 338.2 L746.0 336.9 L743.0 336.9 L743.0 334.6 L740.0 334.6 L740.0 329.7 L737.0 329.7 L737.0 320.4 L734.0 320.4 L734.0 303.6 L731.0 303.6 L731.0 298.9 L728.0 298.9 L728.0 280.0 L725.0 280.0 L725.0 254.6 L722.0 254.6 L722.0 232.0 L719.0 232.0 L719.0 232.1 L716.0 232.1 L716.0 253.1 L713.0 253.1 L713.0 279.3 L710.0 279.3 L710.0 294.6 L707.0 294.6 L707.0 303.3 L704.0 303.3 L704.0 323.2 L701.0 323.2 L701.0 333.0 L698.0 333.0 L698.0 323.3 L695.0 323.3 L695.0 322.5 L692.0 322.5 L692.0 319.4 L689.0 319.4 L689.0 331.6 L686.0 331.6 L686.0 340.0 L683.0 340.0 L683.0 339.4 L680.0 339.4 L680.0 326.3 L677.0 326.3 L677.0 336.0 L674.0 336.0 L674.0 336.8 L671.0 336.8 L671.0 337.9 L668.0 337.9 L668.0 339.3 L665.0 339.3 L665.0 326.9 L662.0 326.9 L662.0 328.9 L659.0 328.9 L659.0 352.3 L656.0 352.3 L656.0 351.0 L653.0 351.0 L653.0 340.5 L650.0 340.5 L650.0 327.0 L647.0 327.0 L647.0 317.8 L644.0 317.8 L644.0 317.3 L641.0 317.3 L641.0 322.9 L638.0 322.9 L638.0 323.4 L635.0 323.4 L635.0 324.5 L632.0 324.5 L632.0 326.2 L629.0 326.2 L629.0 314.4 L626.0 314.4 L626.0 328.5 L623.0 328.5 L623.0 309.4 L620.0 309.4 L620.0 318.7 L617.0 318.7 L617.0 333.9 L614.0 333.9 L614.0 332.2 L611.0 332.2 L611.0 341.1 L608.0 341.1 L608.0 345.9 L605.0 345.9 L605.0 356.0 L602.0 356.0 L602.0 352.4 L599.0 352.4 L599.0 346.9 L596.0 346.9 L596.0 349.5 L593.0 349.5 L593.0 363.5 L590.0 363.5 L590.0 371.7 L587.0 371.7 L587.0 371.4 L584.0 371.4 L584.0 374.7 L581.0 374.7 L581.0 368.3 L578.0 368.3 L578.0 363.5 L575.0 363.5 L575.0 358.8 L572.0 358.8 L572.0 359.5 L569.0 359.5 L569.0 363.8 L566.0 363.8 L566.0 367.9 L563.0 367.9 L563.0 355.1 L560.0 355.1 L560.0 344.4 L557.0 344.4 L557.0 343.6 L554.0 343.6 L554.0 333.2 L551.0 333.2 L551.0 336.5 L548.0 336.5 L548.0 343.4 L545.0 343.4 L545.0 342.6 L542.0 342.6 L542.0 344.1 L539.0 344.1 L539.0 337.9 L536.0 337.9 L536.0 348.9 L533.0 348.9 L533.0 347.4 L530.0 347.4 L530.0 352.9 L527.0 352.9 L527.0 360.3 L524.0 360.3 L524.0 363.6 L521.0 363.6 L521.0 365.1 L518.0 365.1 L518.0 363.2 L515.0 363.2 L515.0 362.6 L512.0 362.6 L512.0 374.5 L509.0 374.5 L509.0 371.2 L506.0 371.2 L506.0 370.8 L503.0 370.8 L503.0 370.5 L500.0 370.5 L500.0 367.8 L497.0 367.8 L497.0 348.6 L494.0 348.6 L494.0 339.4 L491.0 339.4 L491.0 346.5 L488.0 346.5 L488.0 361.4 L485.0 361.4 L485.0 359.9 L482.0 359.9 L482.0 331.6 L479.0 331.6 L479.0 340.3 L476.0 340.3 L476.0 339.3 L473.0 339.3 L473.0 353.0 L470.0 353.0 L470.0 347.3 L467.0 347.3 L467.0 338.6 L464.0 338.6 L464.0 339.2 L461.0 339.2 L461.0 330.0 L458.0 330.0 L458.0 333.7 L455.0 333.7 L455.0 336.0 L452.0 336.0 L452.0 325.8 L449.0 325.8 L449.0 322.2 L446.0 322.2 L446.0 326.7 L443.0 326.7 L443.0 320.1 L440.0 320.1 L440.0 325.3 L437.0 325.3 L437.0 318.9 L434.0 318.9 L434.0 323.9 L431.0 323.9 L431.0 319.8 L428.0 319.8 L428.0 316.6 L425.0 316.6 L425.0 318.2 L422.0 318.2 L422.0 308.4 L419.0 308.4 L419.0 305.1 L416.0 305.1 L416.0 296.5 L413.0 296.5 L413.0 291.3 L410.0 291.3 L410.0 308.0 L407.0 308.0 L407.0 302.1 L404.0 302.1 L404.0 312.0 L401.0 312.0 L401.0 297.3 L398.0 297.3 L398.0 302.7 L395.0 302.7 L395.0 322.0 L392.0 322.0 L392.0 319.1 L389.0 319.1 L389.0 302.8 L386.0 302.8 L386.0 303.1 L383.0 303.1 L383.0 301.7 L380.0 301.7 L380.0 309.4 L377.0 309.4 L377.0 311.7 L374.0 311.7 L374.0 307.1 L371.0 307.1 L371.0 300.4 L368.0 300.4 L368.0 310.2 L365.0 310.2 L365.0 314.6 L362.0 314.6 L362.0 312.2 L359.0 312.2 L359.0 319.9 L356.0 319.9 L356.0 320.8 L353.0 320.8 L353.0 318.0 L350.0 318.0 L350.0 309.2 L347.0 309.2 L347.0 328.3 L344.0 328.3 L344.0 319.6 L341.0 319.6 L341.0 324.4 L338.0 324.4 L338.0 322.1 L335.0 322.1 L335.0 327.0 L332.0 327.0 L332.0 334.3 L329.0 334.3 L329.0 336.1 L326.0 336.1 L326.0 335.1 L323.0 335.1 L323.0 335.7 L320.0 335.7 L320.0 331.1 L317.0 331.1 L317.0 324.6 L314.0 324.6 L314.0 331.9 L311.0 331.9 L311.0 326.0 L308.0 326.0 L308.0 324.4 L305.0 324.4 L305.0 330.4 L302.0 330.4 L302.0 337.5 L299.0 337.5 L299.0 329.6 L296.0 329.6 L296.0 332.1 L293.0 332.1 L293.0 329.2 L290.0 329.2 L290.0 322.3 L287.0 322.3 L287.0 325.4 L284.0 325.4 L284.0 330.8 L281.0 330.8 L281.0 326.5 L278.0 326.5 L278.0 317.8 L275.0 317.8 L275.0 319.2 L272.0 319.2 L272.0 327.4 L269.0 327.4 L269.0 334.4 L266.0 334.4 L266.0 331.3 L263.0 331.3 L263.0 307.3 L260.0 307.3 L260.0 314.5 L257.0 314.5 L257.0 316.1 L254.0 316.1 L254.0 318.3 L251.0 318.3 L251.0 322.6 L248.0 322.6 L248.0 324.7 L245.0 324.7 L245.0 323.6 L242.0 323.6 L242.0 327.7 L239.0 327.7 L239.0 330.3 L236.0 330.3 L236.0 321.3 L234.5 321.3Z" fill="#ff0000" stroke="#ff0000" stroke-width="1" stroke-linejoin="miter"/>
<path d="M234.5 674.9L236.0 675.6L237.5 676.2L239.0 676.6L240.5 675.2L242.0 675.8L243.5 675.0L245.0 674.8L246.5 674.8L248.0 672.2L249.5 672.8L251.0 674.4L252.5 671.2L254.0 671.4L255.5 673.6L257.0 670.3L258.5 670.9L260.0 670.4L261.5 669.1L263.0 669.1L264.5 666.8L266.0 663.0L267.5 663.9L269.0 661.6L270.5 663.5L272.0 665.9L273.5 668.5L275.0 669.0L276.5 671.7L278.0 670.7L279.5 673.7L281.0 674.5L282.5 675.6L284.0 676.8L285.5 677.2L287.0 676.0L288.5 676.2L290.0 673.9L291.5 674.2L293.0 674.6L294.5 672.1L296.0 671.7L297.5 671.4L299.0 671.8L300.5 671.3L302.0 670.8L303.5 670.0L305.0 671.2L306.5 668.1L308.0 671.4L309.5 670.2L311.0 671.6L312.5 670.9L314.0 672.3L315.5 670.3L317.0 669.0L318.5 671.0L320.0 670.5L321.5 670.8L323.0 671.9L324.5 669.7L326.0 671.0L327.5 670.8L329.0 670.7L330.5 667.3L332.0 669.0L333.5 667.7L335.0 667.8L336.5 666.9L338.0 667.0L339.5 668.0L341.0 668.5L342.5 667.3L344.0 665.2L345.5 667.5L347.0 664.8L348.5 665.5L350.0 666.8L351.5 664.9L353.0 666.0L354.5 664.8L356.0 663.6L357.5 664.7L359.0 663.6L360.5 665.5L362.0 665.1L363.5 664.4L365.0 661.3L366.5 663.6L368.0 661.5L369.5 661.0L371.0 659.9L372.5 658.3L374.0 657.9L375.5 657.3L377.0 656.1L378.5 652.1L380.0 647.5L381.5 642.3L383.0 637.7L384.5 635.1L386.0 629.7L387.5 624.7L389.0 618.0L390.5 612.5L392.0 609.0L393.5 602.2L395.0 593.9L396.5 583.0L398.0 572.3L399.5 562.4L401.0 554.4L402.5 543.3L404.0 533.5L405.5 519.3L407.0 508.9L408.5 500.3L410.0 507.1L411.5 518.9L413.0 531.3L414.5 547.4L416.0 575.4L417.5 598.4L419.0 612.6L420.5 624.5L422.0 633.3L423.5 641.5L425.0 650.1L426.5 652.1L428.0 654.0L429.5 651.9L431.0 653.5L432.5 653.3L434.0 654.0L435.5 654.8L437.0 655.2L438.5 652.6L440.0 656.1L441.5 655.7L443.0 655.9L444.5 655.6L446.0 656.7L447.5 656.3L449.0 654.3L450.5 655.6L452.0 656.1L453.5 656.2L455.0 656.2L456.5 657.4L458.0 655.8L459.5 656.3L461.0 656.2L462.5 657.3L464.0 657.9L465.5 656.7L467.0 658.1L468.5 657.3L470.0 659.3L471.5 655.8L473.0 658.2L474.5 659.5L476.0 658.1L477.5 657.5L479.0 657.9L480.5 659.4L482.0 658.5L483.5 660.2L485.0 659.3L486.5 658.8L488.0 659.0L489.5 660.1L491.0 660.7L492.5 659.0L494.0 658.6L495.5 658.7L497.0 660.4L498.5 661.8L500.0 659.4L501.5 660.6L503.0 659.6L504.5 660.9L506.0 658.5L507.5 660.6L509.0 658.7L510.5 659.1L512.0 660.3L513.5 659.7L515.0 659.9L516.5 660.5L518.0 660.2L519.5 661.5L521.0 660.7L522.5 659.1L524.0 659.9L525.5 659.4L527.0 659.6L528.5 661.8L530.0 659.2L531.5 661.3L533.0 661.5L534.5 662.8L536.0 660.2L537.5 660.5L539.0 660.7L540.5 660.1L542.0 662.4L543.5 662.8L545.0 658.7L546.5 660.8L548.0 662.5L549.5 660.4L551.0 660.9L552.5 661.8L554.0 661.9L555.5 661.9L557.0 662.1L558.5 664.2L560.0 660.2L561.5 662.1L563.0 661.6L564.5 663.0L566.0 662.5L567.5 663.5L569.0 663.1L570.5 665.5L572.0 662.0L573.5 662.9L575.0 664.4L576.5 663.2L578.0 663.9L579.5 662.3L581.0 664.7L582.5 663.9L584.0 664.7L585.5 663.3L587.0 663.8L588.5 663.6L590.0 666.2L591.5 662.9L593.0 665.2L594.5 665.2L596.0 666.3L597.5 665.4L599.0 664.2L600.5 665.8L602.0 663.7L603.5 666.6L605.0 665.6L606.5 665.0L608.0 665.4L609.5 666.6L611.0 664.4L612.5 668.0L614.0 665.7L615.5 668.1L617.0 666.8L618.5 668.7L620.0 665.7L621.5 668.0L623.0 667.2L624.5 666.9L626.0 668.6L627.5 667.8L629.0 667.5L630.5 668.3L632.0 668.0L633.5 668.8L635.0 669.3L636.5 670.7L638.0 669.7L639.5 669.3L641.0 671.0L642.5 670.1L644.0 669.6L645.5 669.5L647.0 672.6L648.5 670.8L650.0 672.6L651.5 669.9L653.0 669.7L654.5 672.3L656.0 670.0L657.5 669.8L659.0 669.4L660.5 668.2L662.0 669.9L663.5 667.2L665.0 668.7L666.5 666.4L668.0 669.7L669.5 667.4L671.0 667.4L672.5 664.2L674.0 666.0L675.5 664.8L677.0 664.4L678.5 664.3L680.0 665.8L681.5 664.9L683.0 664.2L684.5 664.0L686.0 663.9L687.5 663.9L689.0 664.0L690.5 663.0L692.0 663.1L693.5 661.6L695.0 663.7L696.5 664.1L698.0 662.8L699.5 664.4L701.0 661.9L702.5 661.9L704.0 661.9L705.5 659.6L707.0 657.0L708.5 656.6L710.0 654.1L711.5 654.1L713.0 652.3L714.5 650.1L716.0 649.8L717.5 650.2L719.0 648.8L720.5 647.8L722.0 646.1L723.5 645.1L725.0 644.3L726.5 645.4L728.0 642.6L729.5 643.4L731.0 643.8L732.5 639.7L734.0 640.6L735.5 638.1L737.0 637.6L738.5 636.5L740.0 633.1L741.5 630.6L743.0 629.3L744.5 627.5L746.0 624.5L747.5 621.6L749.0 620.9L750.5 616.8L752.0 614.3L753.5 613.7L755.0 613.6L756.5 608.6L758.0 606.5L759.5 602.9L761.0 600.3L762.5 596.6L764.0 594.5L765.5 589.7L767.0 585.4L768.5 582.7L770.0 575.5L771.5 572.3L773.0 564.6L774.5 556.5L776.0 549.8L777.5 541.8L779.0 535.0L780.5 527.5L782.0 522.8L783.5 515.2L785.0 508.6L786.5 499.6L788.0 494.0L789.5 489.2L791.0 482.4L792.5 475.3L794.0 468.8L795.5 463.7L797.0 454.9L798.5 450.6L800.0 445.6L801.5 443.9L803.0 437.0L804.5 434.0L806.0 432.1L807.5 427.7L809.0 426.6L810.5 426.0L812.0 426.7L813.5 428.2L815.0 424.8L816.5 425.9L818.0 427.6L819.5 428.4L821.0 426.4L822.5 431.0L824.0 435.1L825.5 441.2L827.0 445.9L828.5 452.3L830.0 460.1L831.5 465.6L833.0 471.7L834.5 476.8L836.0 485.7L837.5 490.0L839.0 498.4L840.5 500.3L842.0 505.3L843.5 509.8L845.0 512.6L846.5 515.7L848.0 519.7L849.5 523.8L851.0 526.8L852.5 532.7L854.0 533.5L855.5 538.0L857.0 541.1L858.5 543.4L860.0 544.9L861.5 549.1L863.0 552.1L864.5 553.8L866.0 556.0L867.5 556.1L869.0 559.4L870.5 562.5L872.0 565.0L873.5 567.7L875.0 568.7L876.5 571.2L878.0 572.1L879.5 575.9L881.0 578.1L882.5 579.3L884.0 582.3L885.5 582.8L887.0 584.3L888.5 586.0L890.0 589.5L891.5 586.9L893.0 589.8L894.5 590.1L896.0 591.4L897.5 590.6L899.0 593.6L900.5 594.2L902.0 594.0L903.5 594.5L905.0 595.7L906.5 597.3L908.0 595.5L909.5 599.2L911.0 598.2L912.5 600.1L914.0 599.2L915.5 602.8L917.0 601.8L918.5 604.1L920.0 602.4L921.5 603.2L923.0 605.8L924.5 606.2L926.0 606.7L927.5 608.6L929.0 609.0L930.5 609.5L932.0 609.2L933.5 610.1L935.0 614.3L936.5 615.5L938.0 615.1L939.5 617.5L941.0 617.6L942.5 618.4L944.0 619.7L945.5 617.2L947.0 619.2L948.5 619.3L950.0 618.6L951.5 619.0L953.0 617.6L954.5 619.0L956.0 619.4L957.5 619.6L959.0 618.1L960.5 619.6L962.0 619.1L963.5 619.5L965.0 618.8L966.5 619.4L968.0 619.0L969.5 621.3L971.0 618.5L972.5 620.1L974.0 619.1L975.5 617.9L977.0 620.3L978.5 621.5L980.0 621.4L981.5 622.0L983.0 620.9L984.5 622.5L986.0 621.3L987.5 625.0L989.0 625.3L990.5 623.1L992.0 624.2L993.5 623.8L995.0 624.7L996.5 625.4L998.0 625.1L999.5 626.3L1001.0 627.9L1002.5 627.6L1004.0 629.3L1005.5 629.2L1007.0 630.6L1008.5 630.7L1010.0 634.6L1011.5 634.5L1013.0 637.4L1014.5 638.6L1016.0 642.5L1017.5 643.0L1019.0 646.5L1020.5 649.5L1022.0 649.5L1023.5 648.4L1025.0 653.2L1026.5 653.9L1028.0 655.8L1029.5 657.0L1031.0 659.2L1032.5 660.4L1034.0 660.6L1035.5 660.7L1037.0 663.2L1038.5 665.3L1040.0 663.8L1041.5 666.9L1043.0 666.1L1044.5 670.1L1046.0 671.9L1047.5 671.9L1049.0 671.6L1050.5 673.7L1052.0 675.2L1053.5 676.5L1055.0 677.2L1056.5 677.7L1058.0 676.5L1059.5 678.3L1061.0 679.7L1062.5 680.2L1064.0 679.0L1065.5 681.7L1067.0 682.0L1068.5 683.8L1070.0 684.8L1071.5 683.8L1073.0 685.3L1074.5 687.0L1076.0 686.4L1077.5 688.1L1079.0 687.8L1080.5 688.5L1082.0 690.6L1083.5 690.0L1085.0 690.0L1086.5 692.6L1088.0 691.1L1089.5 691.8L1091.0 692.2L1092.5 695.6L1094.0 693.5L1095.5 694.0L1097.0 693.1L1098.5 694.6L1100.0 695.2L1101.5 693.1L1103.0 695.1L1104.5 696.6L1106.0 697.0L1107.5 695.7L1109.0 698.1L1110.5 695.4L1112.0 697.4L1113.5 697.2L1115.0 695.9L1116.5 698.3L1118.0 696.2L1119.5 697.1L1121.0 698.0L1122.5 697.1L1124.0 699.8L1125.5 698.4L1127.0 697.8L1128.5 699.5L1130.0 699.5L1131.5 698.6L1133.0 699.4L1134.5 701.0L1136.0 701.1L1137.5 698.8L1139.0 701.5L1140.5 701.7L1142.0 702.0L1143.5 700.4L1145.0 700.2L1146.5 700.9L1148.0 700.4L1149.5 700.8L1151.0 700.5L1152.5 700.8L1154.0 700.6L1155.5 701.1L1157.0 701.2L1158.5 700.8L1160.0 700.5L1161.5 702.6L1163.0 701.9L1164.5 701.5L1166.0 700.1L1167.5 701.6L1169.0 700.8L1170.5 701.5L1172.0 701.1L1173.5 703.4L1175.0 700.8L1176.5 699.8L1178.0 701.8L1179.5 701.9L1181.0 702.0L1182.5 698.0L1184.0 699.6L1185.5 699.7L1187.0 698.8L1188.5 700.6L1190.0 701.1L1191.5 701.4L1193.0 701.2L1194.5 700.3L1196.0 701.8L1197.5 700.4L1199.0 697.2L1200.5 699.7L1202.0 699.1L1203.5 700.1L1205.0 699.2L1206.5 699.1L1208.0 700.5L1209.5 698.1L1211.0 697.2L1212.5 698.6L1214.0 698.7L1215.5 697.6L1217.0 697.5L1218.5 696.6L1220.0 695.6L1221.5 695.9L1223.0 695.4L1224.5 697.5L1226.0 695.9L1227.5 697.5L1229.0 695.8L1230.5 695.1L1232.0 696.4L1233.5 696.7L1235.0 698.4L1236.5 695.7L1238.0 698.0L1239.5 699.7L1241.0 699.3L1242.5 701.0L1244.0 701.3L1245.5 703.8L1247.0 704.2L1248.5 701.2L1250.0 702.0L1251.5 702.9L1253.0 703.8L1254.5 703.8L1256.0 703.6L1257.5 704.8L1259.0 705.2L1260.5 704.5L1262.0 704.2L1263.5 704.6L1265.0 703.8L1266.5 705.6L1268.0 705.7L1269.5 704.0L1271.0 706.5L1272.5 705.0L1274.0 706.0L1275.5 705.2L1277.0 705.0L1278.5 706.0L1280.0 704.3L1281.5 705.1L1283.0 704.2L1284.5 706.0L1286.0 705.3L1287.5 705.3L1289.0 705.1L1290.5 706.3L1292.0 706.0L1293.5 705.5L1295.0 705.3L1296.5 707.7L1298.0 707.4L1299.5 704.8L1301.0 707.3L1302.5 706.6L1304.0 706.5L1305.5 706.6L1307.0 704.9L1308.5 708.8L1310.0 708.5L1311.5 706.5L1313.0 706.5L1314.5 706.7L1316.0 706.0L1317.5 707.2L1319.0 706.7L1320.5 705.7L1322.0 706.4L1323.5 706.3L1325.0 706.3L1326.5 706.7L1328.0 707.7L1329.5 706.7L1331.0 705.5L1332.5 708.7L1334.0 706.6L1335.5 708.7L1337.0 707.6L1338.5 707.9L1340.0 706.5L1341.5 707.5L1343.0 707.0L1344.5 707.4L1346.0 707.9L1347.5 707.1L1349.0 708.3L1350.5 706.0L1352.0 706.4L1353.5 707.9L1355.0 708.0L1356.5 708.5L1358.0 709.0L1359.5 707.8L1361.0 708.1L1362.5 707.5L1364.0 707.3L1365.5 707.0L1367.0 707.2L1368.5 706.5L1370.0 706.8L1371.5 707.7L1373.0 707.3L1374.5 707.9L1376.0 706.2L1377.5 706.3L1379.0 707.0L1380.5 705.6L1382.0 705.5L1383.5 707.0L1385.0 706.0L1386.5 707.1L1388.0 706.3L1389.5 705.7L1391.0 705.0L1392.5 707.3L1394.0 705.9L1395.5 705.1L1397.0 704.5L1398.5 704.7L1400.0 705.5L1401.5 707.2L1403.0 705.0L1404.5 706.2L1406.0 706.2L1407.5 702.6L1409.0 704.6L1410.5 706.7L1412.0 703.9L1413.5 707.1L1415.0 705.9L1416.5 704.2L1418.0 707.8L1419.5 705.8L1421.0 707.5L1422.5 706.1L1424.0 705.1L1425.5 707.0L1427.0 707.7L1428.5 707.2L1430.0 704.7L1431.5 706.5L1433.0 704.7L1434.5 705.3L1436.0 707.3L1437.5 704.5L1439.0 708.4L1440.5 704.3L1442.0 704.6L1443.5 706.7L1445.0 705.7L1446.5 705.7L1448.0 704.9L1449.5 706.6L1451.0 706.1L1452.5 705.8L1454.0 705.1L1455.5 704.4L1457.0 705.9L1458.5 703.7L1460.0 705.3L1461.5 706.7L1463.0 706.8L1464.5 705.7L1466.0 703.5L1467.5 706.7L1469.0 707.1L1470.5 706.3L1472.0 707.6L1473.5 707.4L1475.0 704.7L1476.5 706.2L1478.0 706.0L1479.5 708.1L1481.0 707.7L1482.5 706.7L1484.0 707.2L1485.5 707.6L1487.0 706.0L1488.5 706.6L1490.0 706.7L1491.5 706.4L1493.0 706.5L1494.5 707.1L1496.0 705.6L1497.5 705.7L1499.0 707.7L1500.5 708.4L1502.0 708.7L1503.5 704.9L1505.0 706.8L1506.5 705.3L1508.0 705.3L1509.5 705.3L1511.0 705.6L1512.5 705.3L1514.0 701.9L1515.5 703.3L1517.0 704.6L1518.5 703.3L1520.0 701.1L1521.5 701.4L1523.0 701.3L1524.5 703.0L1526.0 703.6L1527.5 700.5L1529.0 702.0L1530.5 701.1L1532.0 701.8L1533.5 700.9L1535.0 699.9L1536.5 700.2L1538.0 700.1L1539.5 702.2L1541.0 699.8L1542.5 701.1L1544.0 699.5L1545.5 699.6L1547.0 700.4L1548.5 699.4L1550.0 701.9L1551.5 701.0L1553.0 698.4L1554.5 699.9L1556.0 700.7L1557.5 697.8L1559.0 698.4L1560.5 700.1L1562.0 697.5L1563.5 698.8L1565.0 697.8L1566.5 697.8L1568.0 696.3L1569.5 697.0L1571.0 696.3L1572.5 698.2L1574.0 696.8L1575.5 695.8L1577.0 695.3L1578.5 695.4L1580.0 692.4L1581.5 692.3L1583.0 691.7L1584.5 690.9L1586.0 689.2L1587.5 690.5L1589.0 688.6L1590.5 689.4L1592.0 687.1L1593.5 685.9L1595.0 685.9L1596.5 685.0L1598.0 683.5L1599.5 683.7L1601.0 683.7L1602.5 681.3L1604.0 682.4L1605.5 680.3L1607.0 680.7L1608.5 679.2L1610.0 678.2L1611.5 678.3L1613.0 676.3L1614.5 675.3L1616.0 676.3L1617.5 675.5L1619.0 674.1L1620.5 676.8L1622.0 674.5L1623.5 672.7L1625.0 673.3L1626.5 672.6L1628.0 671.1L1629.5 670.7L1631.0 668.6L1632.5 670.3L1634.0 671.8L1635.5 671.0L1637.0 671.1L1638.5 669.8L1640.0 669.9L1641.5 672.6L1643.0 672.7L1644.5 673.0L1646.0 673.7L1647.5 675.7L1649.0 676.1L1650.5 675.6L1652.0 676.5L1653.5 675.4L1655.0 676.5L1656.5 678.8L1658.0 678.2L1659.5 678.3L1661.0 680.0L1662.5 681.5L1664.0 679.9L1665.5 680.9L1667.0 681.5L1668.5 684.8L1670.0 683.9L1671.5 683.7L1673.0 682.5L1674.5 685.3L1676.0 685.7L1677.5 685.5L1679.0 685.5L1680.5 686.4L1682.0 685.8L1683.5 687.7L1685.0 688.2L1686.5 688.3L1688.0 689.4L1689.5 688.7L1691.0 691.9L1692.5 691.1L1694.0 690.6L1695.5 693.1L1697.0 693.4L1698.5 692.8L1700.0 692.5L1701.5 694.2L1703.0 695.2L1704.5 695.8L1706.0 696.6L1707.5 697.0L1709.0 695.1L1710.5 697.1L1712.0 695.5L1713.5 698.9L1715.0 698.7L1716.5 699.8L1718.0 699.3L1719.5 699.7L1721.0 699.6L1722.5 697.8L1724.0 700.8L1725.5 704.0L1727.0 703.1L1728.5 702.0L1730.0 702.9L1731.5 703.3L1733.0 702.5L1734.5 703.4L1736.0 703.9L1737.5 703.3L1739.0 704.5L1740.5 705.5L1742.0 705.3L1743.5 704.9L1745.0 704.6L1746.5 705.7L1748.0 704.6L1749.5 704.7L1751.0 706.7L1752.5 705.2L1754.0 704.3L1755.5 706.6L1757.0 706.5L1758.5 707.0L1760.0 705.8L1761.5 707.0L1763.0 705.7L1764.5 704.9L1766.0 705.7L1767.5 706.1L1769.0 704.8L1770.5 705.7L1772.0 706.1L1773.5 705.4L1775.0 706.0L1776.5 705.8L1778.0 705.1L1779.5 706.2L1781.0 706.5L1782.5 703.9L1784.0 705.2L1785.5 706.7L1787.0 706.3L1788.5 704.0L1790.0 706.1L1791.5 707.3L1793.0 706.8L1794.5 706.8L1796.0 706.0L1797.5 706.2L1799.0 705.1L1800.5 706.4L1802.0 708.8L1803.5 706.5L1805.0 705.7L1806.5 707.3L1808.0 704.9L1809.5 709.3L1811.0 707.7L1812.5 706.9L1814.0 706.9L1815.5 706.4L1817.0 707.5L1818.5 707.5L1820.0 705.9L1821.5 708.4L1823.0 707.0L1824.5 706.2L1826.0 708.1L1827.5 707.8L1829.0 706.3L1830.5 706.1L1832.0 707.7L1833.5 706.1L1835.0 706.5L1836.5 707.6L1838.0 704.9L1839.5 704.5L1841.0 705.1L1842.5 705.3L1844.0 705.8L1845.5 706.7L1847.0 705.3L1848.5 707.4L1850.0 705.8L1851.5 703.6L1853.0 705.5L1854.5 706.2L1856.0 706.6L1857.5 704.7L1859.0 705.3L1860.5 707.6L1862.0 705.5L1863.5 704.3L1865.0 703.7L1866.5 704.7L1868.0 705.5L1869.5 703.9L1871.0 706.3L1872.5 704.1L1874.0 702.8L1875.5 705.2L1877.0 704.4L1878.5 703.9L1880.0 705.3L1881.5 703.2L1883.0 704.2L1884.5 702.8L1886.0 704.7L1887.5 702.8L1889.0 702.6L1890.5 702.9L1892.0 702.0L1893.5 702.3L1895.0 701.4L1896.5 702.1L1898.0 701.3L1899.5 700.5L1901.0 701.5L1902.5 701.2L1904.0 699.5L1905.5 700.1L1907.0 698.6L1908.5 700.2L1910.0 700.7L1911.5 702.2L1913.0 699.9L1914.5 700.5L1916.0 700.8L1917.5 699.9L1919.0 697.1L1920.5 698.4L1922.0 699.0L1923.5 698.9L1925.0 698.6L1926.5 697.4L1928.0 696.3L1929.5 698.4L1931.0 699.1L1932.5 697.3L1934.0 698.2L1935.5 697.0L1937.0 697.3L1938.5 696.7L1940.0 698.0L1941.5 696.1L1943.0 697.0L1944.5 697.7L1946.0 696.6L1947.5 695.3L1949.0 696.8L1950.5 696.1L1952.0 695.0L1953.5 696.0L1955.0 695.8L1956.5 696.7L1958.0 695.5L1959.5 696.1L1961.0 696.6L1962.5 694.1L1964.0 697.0L1965.5 696.0L1967.0 695.0L1968.5 696.1L1970.0 697.0" stroke="#0000ff" stroke-width="9"/>
<path d="M234.5 667.1 L236.0 667.1 L236.0 668.1 L239.0 668.1 L239.0 667.1 L242.0 667.1 L242.0 668.0 L245.0 668.0 L245.0 667.0 L248.0 667.0 L248.0 664.3 L251.0 664.3 L251.0 663.7 L254.0 663.7 L254.0 663.6 L257.0 663.6 L257.0 659.4 L260.0 659.4 L260.0 656.3 L263.0 656.3 L263.0 655.1 L266.0 655.1 L266.0 656.8 L269.0 656.8 L269.0 655.7 L272.0 655.7 L272.0 661.8 L275.0 661.8 L275.0 661.4 L278.0 661.4 L278.0 667.0 L281.0 667.0 L281.0 667.2 L284.0 667.2 L284.0 668.9 L287.0 668.9 L287.0 668.8 L290.0 668.8 L290.0 662.8 L293.0 662.8 L293.0 660.8 L296.0 660.8 L296.0 659.3 L299.0 659.3 L299.0 660.8 L302.0 660.8 L302.0 657.4 L305.0 657.4 L305.0 661.6 L308.0 661.6 L308.0 664.2 L311.0 664.2 L311.0 662.7 L314.0 662.7 L314.0 664.0 L317.0 664.0 L317.0 661.4 L320.0 661.4 L320.0 663.8 L323.0 663.8 L323.0 664.2 L326.0 664.2 L326.0 661.6 L329.0 661.6 L329.0 664.5 L332.0 664.5 L332.0 663.5 L335.0 663.5 L335.0 662.4 L338.0 662.4 L338.0 659.2 L341.0 659.2 L341.0 659.4 L344.0 659.4 L344.0 657.1 L347.0 657.1 L347.0 658.9 L350.0 658.9 L350.0 653.3 L353.0 653.3 L353.0 656.9 L356.0 656.9 L356.0 657.1 L359.0 657.1 L359.0 656.3 L362.0 656.3 L362.0 653.9 L365.0 653.9 L365.0 655.4 L368.0 655.4 L368.0 649.6 L371.0 649.6 L371.0 646.3 L374.0 646.3 L374.0 646.2 L377.0 646.2 L377.0 646.4 L380.0 646.4 L380.0 633.7 L383.0 633.7 L383.0 628.9 L386.0 628.9 L386.0 618.2 L389.0 618.2 L389.0 607.6 L392.0 607.6 L392.0 593.3 L395.0 593.3 L395.0 577.0 L398.0 577.0 L398.0 557.1 L401.0 557.1 L401.0 537.4 L404.0 537.4 L404.0 512.6 L407.0 512.6 L407.0 495.8 L410.0 495.8 L410.0 506.9 L413.0 506.9 L413.0 541.0 L416.0 541.0 L416.0 590.9 L419.0 590.9 L419.0 616.2 L422.0 616.2 L422.0 633.7 L425.0 633.7 L425.0 644.9 L428.0 644.9 L428.0 641.7 L431.0 641.7 L431.0 645.1 L434.0 645.1 L434.0 648.9 L437.0 648.9 L437.0 646.1 L440.0 646.1 L440.0 643.9 L443.0 643.9 L443.0 645.2 L446.0 645.2 L446.0 646.8 L449.0 646.8 L449.0 646.7 L452.0 646.7 L452.0 648.0 L455.0 648.0 L455.0 646.0 L458.0 646.0 L458.0 646.5 L461.0 646.5 L461.0 647.2 L464.0 647.2 L464.0 648.4 L467.0 648.4 L467.0 650.2 L470.0 650.2 L470.0 648.5 L473.0 648.5 L473.0 650.5 L476.0 650.5 L476.0 650.8 L479.0 650.8 L479.0 652.0 L482.0 652.0 L482.0 651.5 L485.0 651.5 L485.0 651.4 L488.0 651.4 L488.0 654.3 L491.0 654.3 L491.0 651.3 L494.0 651.3 L494.0 652.1 L497.0 652.1 L497.0 651.4 L500.0 651.4 L500.0 654.2 L503.0 654.2 L503.0 653.8 L506.0 653.8 L506.0 652.4 L509.0 652.4 L509.0 651.1 L512.0 651.1 L512.0 650.3 L515.0 650.3 L515.0 644.7 L518.0 644.7 L518.0 645.4 L521.0 645.4 L521.0 645.9 L524.0 645.9 L524.0 650.3 L527.0 650.3 L527.0 652.8 L530.0 652.8 L530.0 655.1 L533.0 655.1 L533.0 655.3 L536.0 655.3 L536.0 653.6 L539.0 653.6 L539.0 654.5 L542.0 654.5 L542.0 653.8 L545.0 653.8 L545.0 654.0 L548.0 654.0 L548.0 652.5 L551.0 652.5 L551.0 652.0 L554.0 652.0 L554.0 655.6 L557.0 655.6 L557.0 654.8 L560.0 654.8 L560.0 654.9 L563.0 654.9 L563.0 654.9 L566.0 654.9 L566.0 657.4 L569.0 657.4 L569.0 656.4 L572.0 656.4 L572.0 654.9 L575.0 654.9 L575.0 657.8 L578.0 657.8 L578.0 657.1 L581.0 657.1 L581.0 656.2 L584.0 656.2 L584.0 655.1 L587.0 655.1 L587.0 657.3 L590.0 657.3 L590.0 657.2 L593.0 657.2 L593.0 657.9 L596.0 657.9 L596.0 660.5 L599.0 660.5 L599.0 659.6 L602.0 659.6 L602.0 658.6 L605.0 658.6 L605.0 657.8 L608.0 657.8 L608.0 662.1 L611.0 662.1 L611.0 660.0 L614.0 660.0 L614.0 661.7 L617.0 661.7 L617.0 663.6 L620.0 663.6 L620.0 658.1 L623.0 658.1 L623.0 658.1 L626.0 658.1 L626.0 663.5 L629.0 663.5 L629.0 661.0 L632.0 661.0 L632.0 664.8 L635.0 664.8 L635.0 663.8 L638.0 663.8 L638.0 664.0 L641.0 664.0 L641.0 664.4 L644.0 664.4 L644.0 664.8 L647.0 664.8 L647.0 664.8 L650.0 664.8 L650.0 665.3 L653.0 665.3 L653.0 660.0 L656.0 660.0 L656.0 663.9 L659.0 663.9 L659.0 655.9 L662.0 655.9 L662.0 662.2 L665.0 662.2 L665.0 659.7 L668.0 659.7 L668.0 660.8 L671.0 660.8 L671.0 658.0 L674.0 658.0 L674.0 657.9 L677.0 657.9 L677.0 658.5 L680.0 658.5 L680.0 658.7 L683.0 658.7 L683.0 660.3 L686.0 660.3 L686.0 660.5 L689.0 660.5 L689.0 653.8 L692.0 653.8 L692.0 657.9 L695.0 657.9 L695.0 655.3 L698.0 655.3 L698.0 658.3 L701.0 658.3 L701.0 656.1 L704.0 656.1 L704.0 654.9 L707.0 654.9 L707.0 650.3 L710.0 650.3 L710.0 647.2 L713.0 647.2 L713.0 644.3 L716.0 644.3 L716.0 640.8 L719.0 640.8 L719.0 639.6 L722.0 639.6 L722.0 639.3 L725.0 639.3 L725.0 638.1 L728.0 638.1 L728.0 636.5 L731.0 636.5 L731.0 634.8 L734.0 634.8 L734.0 632.4 L737.0 632.4 L737.0 625.2 L740.0 625.2 L740.0 626.0 L743.0 626.0 L743.0 621.4 L746.0 621.4 L746.0 613.9 L749.0 613.9 L749.0 613.3 L752.0 613.3 L752.0 605.2 L755.0 605.2 L755.0 599.5 L758.0 599.5 L758.0 596.7 L761.0 596.7 L761.0 591.0 L764.0 591.0 L764.0 583.0 L767.0 583.0 L767.0 574.1 L770.0 574.1 L770.0 567.5 L773.0 567.5 L773.0 551.9 L776.0 551.9 L776.0 536.8 L779.0 536.8 L779.0 523.7 L782.0 523.7 L782.0 508.2 L785.0 508.2 L785.0 493.9 L788.0 493.9 L788.0 482.5 L791.0 482.5 L791.0 470.3 L794.0 470.3 L794.0 453.9 L797.0 453.9 L797.0 442.7 L800.0 442.7 L800.0 435.6 L803.0 435.6 L803.0 427.0 L806.0 427.0 L806.0 419.1 L809.0 419.1 L809.0 417.5 L812.0 417.5 L812.0 419.6 L815.0 419.6 L815.0 417.6 L818.0 417.6 L818.0 417.1 L821.0 417.1 L821.0 419.4 L824.0 419.4 L824.0 427.4 L827.0 427.4 L827.0 447.3 L830.0 447.3 L830.0 452.4 L833.0 452.4 L833.0 466.1 L836.0 466.1 L836.0 481.4 L839.0 481.4 L839.0 486.1 L842.0 486.1 L842.0 500.5 L845.0 500.5 L845.0 508.0 L848.0 508.0 L848.0 515.8 L851.0 515.8 L851.0 522.5 L854.0 522.5 L854.0 529.2 L857.0 529.2 L857.0 535.0 L860.0 535.0 L860.0 539.4 L863.0 539.4 L863.0 542.9 L866.0 542.9 L866.0 551.2 L869.0 551.2 L869.0 556.3 L872.0 556.3 L872.0 556.5 L875.0 556.5 L875.0 564.1 L878.0 564.1 L878.0 566.6 L881.0 566.6 L881.0 571.6 L884.0 571.6 L884.0 575.3 L887.0 575.3 L887.0 580.6 L890.0 580.6 L890.0 584.4 L893.0 584.4 L893.0 584.0 L896.0 584.0 L896.0 584.6 L899.0 584.6 L899.0 584.8 L902.0 584.8 L902.0 587.2 L905.0 587.2 L905.0 590.8 L908.0 590.8 L908.0 589.8 L911.0 589.8 L911.0 591.1 L914.0 591.1 L914.0 591.0 L917.0 591.0 L917.0 595.6 L920.0 595.6 L920.0 597.1 L923.0 597.1 L923.0 600.2 L926.0 600.2 L926.0 600.7 L929.0 600.7 L929.0 602.2 L932.0 602.2 L932.0 604.4 L935.0 604.4 L935.0 607.5 L938.0 607.5 L938.0 610.5 L941.0 610.5 L941.0 611.0 L944.0 611.0 L944.0 611.9 L947.0 611.9 L947.0 611.2 L950.0 611.2 L950.0 609.6 L953.0 609.6 L953.0 609.9 L956.0 609.9 L956.0 609.3 L959.0 609.3 L959.0 611.0 L962.0 611.0 L962.0 613.4 L965.0 613.4 L965.0 612.6 L968.0 612.6 L968.0 611.9 L971.0 611.9 L971.0 611.2 L974.0 611.2 L974.0 610.8 L977.0 610.8 L977.0 609.7 L980.0 609.7 L980.0 608.5 L983.0 608.5 L983.0 612.5 L986.0 612.5 L986.0 613.1 L989.0 613.1 L989.0 616.3 L992.0 616.3 L992.0 618.8 L995.0 618.8 L995.0 617.8 L998.0 617.8 L998.0 619.0 L1001.0 619.0 L1001.0 615.3 L1004.0 615.3 L1004.0 617.3 L1007.0 617.3 L1007.0 620.5 L1010.0 620.5 L1010.0 627.1 L1013.0 627.1 L1013.0 630.8 L1016.0 630.8 L1016.0 634.9 L1019.0 634.9 L1019.0 637.0 L1022.0 637.0 L1022.0 640.3 L1025.0 640.3 L1025.0 645.9 L1028.0 645.9 L1028.0 645.0 L1031.0 645.0 L1031.0 646.9 L1034.0 646.9 L1034.0 655.1 L1037.0 655.1 L1037.0 654.7 L1040.0 654.7 L1040.0 657.6 L1043.0 657.6 L1043.0 661.5 L1046.0 661.5 L1046.0 664.4 L1049.0 664.4 L1049.0 666.6 L1052.0 666.6 L1052.0 668.3 L1055.0 668.3 L1055.0 670.1 L1058.0 670.1 L1058.0 671.2 L1061.0 671.2 L1061.0 674.8 L1064.0 674.8 L1064.0 673.8 L1067.0 673.8 L1067.0 676.6 L1070.0 676.6 L1070.0 674.4 L1073.0 674.4 L1073.0 677.2 L1076.0 677.2 L1076.0 677.2 L1079.0 677.2 L1079.0 681.9 L1082.0 681.9 L1082.0 682.0 L1085.0 682.0 L1085.0 684.6 L1088.0 684.6 L1088.0 682.8 L1091.0 682.8 L1091.0 682.9 L1094.0 682.9 L1094.0 681.8 L1097.0 681.8 L1097.0 689.1 L1100.0 689.1 L1100.0 688.5 L1103.0 688.5 L1103.0 688.8 L1106.0 688.8 L1106.0 689.0 L1109.0 689.0 L1109.0 689.0 L1112.0 689.0 L1112.0 689.9 L1115.0 689.9 L1115.0 690.0 L1118.0 690.0 L1118.0 690.5 L1121.0 690.5 L1121.0 690.0 L1124.0 690.0 L1124.0 692.2 L1127.0 692.2 L1127.0 687.7 L1130.0 687.7 L1130.0 692.5 L1133.0 692.5 L1133.0 690.8 L1136.0 690.8 L1136.0 690.2 L1139.0 690.2 L1139.0 690.4 L1142.0 690.4 L1142.0 692.5 L1145.0 692.5 L1145.0 696.7 L1148.0 696.7 L1148.0 694.7 L1151.0 694.7 L1151.0 696.2 L1154.0 696.2 L1154.0 694.8 L1157.0 694.8 L1157.0 695.5 L1160.0 695.5 L1160.0 694.7 L1163.0 694.7 L1163.0 695.5 L1166.0 695.5 L1166.0 695.1 L1169.0 695.1 L1169.0 693.5 L1172.0 693.5 L1172.0 694.2 L1175.0 694.2 L1175.0 694.9 L1178.0 694.9 L1178.0 696.2 L1181.0 696.2 L1181.0 695.0 L1184.0 695.0 L1184.0 695.6 L1187.0 695.6 L1187.0 695.4 L1190.0 695.4 L1190.0 694.0 L1193.0 694.0 L1193.0 692.1 L1196.0 692.1 L1196.0 693.1 L1199.0 693.1 L1199.0 690.4 L1202.0 690.4 L1202.0 692.6 L1205.0 692.6 L1205.0 694.0 L1208.0 694.0 L1208.0 693.7 L1211.0 693.7 L1211.0 691.2 L1214.0 691.2 L1214.0 691.7 L1217.0 691.7 L1217.0 690.8 L1220.0 690.8 L1220.0 688.9 L1223.0 688.9 L1223.0 689.1 L1226.0 689.1 L1226.0 689.4 L1229.0 689.4 L1229.0 690.4 L1232.0 690.4 L1232.0 689.6 L1235.0 689.6 L1235.0 691.7 L1238.0 691.7 L1238.0 690.2 L1241.0 690.2 L1241.0 695.3 L1244.0 695.3 L1244.0 696.0 L1247.0 696.0 L1247.0 696.2 L1250.0 696.2 L1250.0 698.4 L1253.0 698.4 L1253.0 694.7 L1256.0 694.7 L1256.0 697.0 L1259.0 697.0 L1259.0 694.1 L1262.0 694.1 L1262.0 697.1 L1265.0 697.1 L1265.0 697.7 L1268.0 697.7 L1268.0 697.6 L1271.0 697.6 L1271.0 695.2 L1274.0 695.2 L1274.0 697.3 L1277.0 697.3 L1277.0 695.0 L1280.0 695.0 L1280.0 693.4 L1283.0 693.4 L1283.0 693.6 L1286.0 693.6 L1286.0 693.4 L1289.0 693.4 L1289.0 695.2 L1292.0 695.2 L1292.0 699.5 L1295.0 699.5 L1295.0 698.9 L1298.0 698.9 L1298.0 695.2 L1301.0 695.2 L1301.0 698.6 L1304.0 698.6 L1304.0 696.4 L1307.0 696.4 L1307.0 699.6 L1310.0 699.6 L1310.0 697.1 L1313.0 697.1 L1313.0 697.3 L1316.0 697.3 L1316.0 699.8 L1319.0 699.8 L1319.0 702.4 L1322.0 702.4 L1322.0 700.9 L1325.0 700.9 L1325.0 701.6 L1328.0 701.6 L1328.0 700.9 L1331.0 700.9 L1331.0 700.3 L1334.0 700.3 L1334.0 699.4 L1337.0 699.4 L1337.0 699.6 L1340.0 699.6 L1340.0 697.4 L1343.0 697.4 L1343.0 699.3 L1346.0 699.3 L1346.0 699.2 L1349.0 699.2 L1349.0 700.5 L1352.0 700.5 L1352.0 699.5 L1355.0 699.5 L1355.0 702.3 L1358.0 702.3 L1358.0 699.9 L1361.0 699.9 L1361.0 698.1 L1364.0 698.1 L1364.0 694.8 L1367.0 694.8 L1367.0 699.3 L1370.0 699.3 L1370.0 699.1 L1373.0 699.1 L1373.0 700.8 L1376.0 700.8 L1376.0 699.6 L1379.0 699.6 L1379.0 699.0 L1382.0 699.0 L1382.0 697.4 L1385.0 697.4 L1385.0 697.3 L1388.0 697.3 L1388.0 699.3 L1391.0 699.3 L1391.0 692.0 L1394.0 692.0 L1394.0 698.3 L1397.0 698.3 L1397.0 695.2 L1400.0 695.2 L1400.0 694.8 L1403.0 694.8 L1403.0 697.5 L1406.0 697.5 L1406.0 698.4 L1409.0 698.4 L1409.0 699.2 L1412.0 699.2 L1412.0 698.1 L1415.0 698.1 L1415.0 696.6 L1418.0 696.6 L1418.0 697.1 L1421.0 697.1 L1421.0 696.2 L1424.0 696.2 L1424.0 695.9 L1427.0 695.9 L1427.0 697.1 L1430.0 697.1 L1430.0 699.6 L1433.0 699.6 L1433.0 697.7 L1436.0 697.7 L1436.0 699.4 L1439.0 699.4 L1439.0 698.8 L1442.0 698.8 L1442.0 699.2 L1445.0 699.2 L1445.0 699.0 L1448.0 699.0 L1448.0 698.8 L1451.0 698.8 L1451.0 700.2 L1454.0 700.2 L1454.0 700.7 L1457.0 700.7 L1457.0 699.2 L1460.0 699.2 L1460.0 700.2 L1463.0 700.2 L1463.0 701.9 L1466.0 701.9 L1466.0 702.4 L1469.0 702.4 L1469.0 702.4 L1472.0 702.4 L1472.0 702.3 L1475.0 702.3 L1475.0 701.5 L1478.0 701.5 L1478.0 702.2 L1481.0 702.2 L1481.0 702.8 L1484.0 702.8 L1484.0 701.0 L1487.0 701.0 L1487.0 702.5 L1490.0 702.5 L1490.0 701.2 L1493.0 701.2 L1493.0 703.5 L1496.0 703.5 L1496.0 704.3 L1499.0 704.3 L1499.0 703.3 L1502.0 703.3 L1502.0 700.0 L1505.0 700.0 L1505.0 700.7 L1508.0 700.7 L1508.0 700.4 L1511.0 700.4 L1511.0 698.2 L1514.0 698.2 L1514.0 695.8 L1517.0 695.8 L1517.0 693.7 L1520.0 693.7 L1520.0 694.5 L1523.0 694.5 L1523.0 694.3 L1526.0 694.3 L1526.0 690.0 L1529.0 690.0 L1529.0 694.9 L1532.0 694.9 L1532.0 691.3 L1535.0 691.3 L1535.0 694.2 L1538.0 694.2 L1538.0 692.4 L1541.0 692.4 L1541.0 688.9 L1544.0 688.9 L1544.0 695.6 L1547.0 695.6 L1547.0 693.3 L1550.0 693.3 L1550.0 693.3 L1553.0 693.3 L1553.0 694.0 L1556.0 694.0 L1556.0 692.3 L1559.0 692.3 L1559.0 685.9 L1562.0 685.9 L1562.0 687.6 L1565.0 687.6 L1565.0 687.0 L1568.0 687.0 L1568.0 688.7 L1571.0 688.7 L1571.0 689.7 L1574.0 689.7 L1574.0 691.3 L1577.0 691.3 L1577.0 687.6 L1580.0 687.6 L1580.0 687.7 L1583.0 687.7 L1583.0 685.3 L1586.0 685.3 L1586.0 683.7 L1589.0 683.7 L1589.0 680.0 L1592.0 680.0 L1592.0 677.1 L1595.0 677.1 L1595.0 677.6 L1598.0 677.6 L1598.0 672.7 L1601.0 672.7 L1601.0 670.7 L1604.0 670.7 L1604.0 668.2 L1607.0 668.2 L1607.0 672.3 L1610.0 672.3 L1610.0 672.2 L1613.0 672.2 L1613.0 668.8 L1616.0 668.8 L1616.0 660.9 L1619.0 660.9 L1619.0 657.5 L1622.0 657.5 L1622.0 662.6 L1625.0 662.6 L1625.0 665.7 L1628.0 665.7 L1628.0 663.1 L1631.0 663.1 L1631.0 662.3 L1634.0 662.3 L1634.0 663.5 L1637.0 663.5 L1637.0 662.6 L1640.0 662.6 L1640.0 667.0 L1643.0 667.0 L1643.0 665.7 L1646.0 665.7 L1646.0 667.3 L1649.0 667.3 L1649.0 667.3 L1652.0 667.3 L1652.0 671.5 L1655.0 671.5 L1655.0 671.0 L1658.0 671.0 L1658.0 670.5 L1661.0 670.5 L1661.0 670.6 L1664.0 670.6 L1664.0 672.0 L1667.0 672.0 L1667.0 676.1 L1670.0 676.1 L1670.0 676.9 L1673.0 676.9 L1673.0 676.9 L1676.0 676.9 L1676.0 678.8 L1679.0 678.8 L1679.0 678.7 L1682.0 678.7 L1682.0 680.3 L1685.0 680.3 L1685.0 680.7 L1688.0 680.7 L1688.0 683.6 L1691.0 683.6 L1691.0 684.9 L1694.0 684.9 L1694.0 684.1 L1697.0 684.1 L1697.0 685.9 L1700.0 685.9 L1700.0 686.7 L1703.0 686.7 L1703.0 688.2 L1706.0 688.2 L1706.0 685.7 L1709.0 685.7 L1709.0 686.9 L1712.0 686.9 L1712.0 688.3 L1715.0 688.3 L1715.0 693.5 L1718.0 693.5 L1718.0 694.5 L1721.0 694.5 L1721.0 695.1 L1724.0 695.1 L1724.0 696.4 L1727.0 696.4 L1727.0 695.8 L1730.0 695.8 L1730.0 695.5 L1733.0 695.5 L1733.0 695.9 L1736.0 695.9 L1736.0 698.3 L1739.0 698.3 L1739.0 694.4 L1742.0 694.4 L1742.0 699.1 L1745.0 699.1 L1745.0 698.1 L1748.0 698.1 L1748.0 697.2 L1751.0 697.2 L1751.0 698.4 L1754.0 698.4 L1754.0 698.9 L1757.0 698.9 L1757.0 700.2 L1760.0 700.2 L1760.0 698.8 L1763.0 698.8 L1763.0 698.2 L1766.0 698.2 L1766.0 698.8 L1769.0 698.8 L1769.0 698.1 L1772.0 698.1 L1772.0 698.9 L1775.0 698.9 L1775.0 699.8 L1778.0 699.8 L1778.0 699.2 L1781.0 699.2 L1781.0 698.7 L1784.0 698.7 L1784.0 699.4 L1787.0 699.4 L1787.0 701.0 L1790.0 701.0 L1790.0 696.6 L1793.0 696.6 L1793.0 699.2 L1796.0 699.2 L1796.0 700.6 L1799.0 700.6 L1799.0 700.9 L1802.0 700.9 L1802.0 699.9 L1805.0 699.9 L1805.0 700.7 L1808.0 700.7 L1808.0 699.3 L1811.0 699.3 L1811.0 698.6 L1814.0 698.6 L1814.0 697.7 L1817.0 697.7 L1817.0 699.9 L1820.0 699.9 L1820.0 697.9 L1823.0 697.9 L1823.0 698.6 L1826.0 698.6 L1826.0 699.2 L1829.0 699.2 L1829.0 698.6 L1832.0 698.6 L1832.0 697.2 L1835.0 697.2 L1835.0 697.5 L1838.0 697.5 L1838.0 697.1 L1841.0 697.1 L1841.0 696.3 L1844.0 696.3 L1844.0 698.3 L1847.0 698.3 L1847.0 697.7 L1850.0 697.7 L1850.0 698.9 L1853.0 698.9 L1853.0 699.4 L1856.0 699.4 L1856.0 694.5 L1859.0 694.5 L1859.0 697.8 L1862.0 697.8 L1862.0 695.0 L1865.0 695.0 L1865.0 694.5 L1868.0 694.5 L1868.0 696.2 L1871.0 696.2 L1871.0 696.2 L1874.0 696.2 L1874.0 696.3 L1877.0 696.3 L1877.0 697.8 L1880.0 697.8 L1880.0 695.7 L1883.0 695.7 L1883.0 696.3 L1886.0 696.3 L1886.0 696.2 L1889.0 696.2 L1889.0 695.1 L1892.0 695.1 L1892.0 692.7 L1895.0 692.7 L1895.0 692.8 L1898.0 692.8 L1898.0 693.7 L1901.0 693.7 L1901.0 693.3 L1904.0 693.3 L1904.0 692.5 L1907.0 692.5 L1907.0 690.5 L1910.0 690.5 L1910.0 688.9 L1913.0 688.9 L1913.0 693.2 L1916.0 693.2 L1916.0 693.8 L1919.0 693.8 L1919.0 694.2 L1922.0 694.2 L1922.0 692.0 L1925.0 692.0 L1925.0 691.6 L1928.0 691.6 L1928.0 690.4 L1931.0 690.4 L1931.0 687.4 L1934.0 687.4 L1934.0 689.6 L1937.0 689.6 L1937.0 690.2 L1940.0 690.2 L1940.0 690.1 L1943.0 690.1 L1943.0 690.8 L1946.0 690.8 L1946.0 690.3 L1949.0 690.3 L1949.0 686.1 L1952.0 686.1 L1952.0 685.7 L1955.0 685.7 L1955.0 690.8 L1958.0 690.8 L1958.0 689.8 L1961.0 689.8 L1961.0 688.6 L1964.0 688.6 L1964.0 690.5 L1967.0 690.5 L1967.0 690.7 L1970.0 690.7 L1970.0 690.7 L1970.4 690.7 L1970.4 704.2 L1970.0 704.2 L1970.0 703.8 L1967.0 703.8 L1967.0 704.9 L1964.0 704.9 L1964.0 705.1 L1961.0 705.1 L1961.0 706.0 L1958.0 706.0 L1958.0 706.1 L1955.0 706.1 L1955.0 703.0 L1952.0 703.0 L1952.0 705.1 L1949.0 705.1 L1949.0 704.2 L1946.0 704.2 L1946.0 708.4 L1943.0 708.4 L1943.0 708.9 L1940.0 708.9 L1940.0 710.1 L1937.0 710.1 L1937.0 705.0 L1934.0 705.0 L1934.0 703.7 L1931.0 703.7 L1931.0 703.8 L1928.0 703.8 L1928.0 704.7 L1925.0 704.7 L1925.0 705.5 L1922.0 705.5 L1922.0 706.6 L1919.0 706.6 L1919.0 709.3 L1916.0 709.3 L1916.0 713.2 L1913.0 713.2 L1913.0 712.4 L1910.0 712.4 L1910.0 710.4 L1907.0 710.4 L1907.0 710.3 L1904.0 710.3 L1904.0 710.5 L1901.0 710.5 L1901.0 707.4 L1898.0 707.4 L1898.0 708.4 L1895.0 708.4 L1895.0 708.0 L1892.0 708.0 L1892.0 713.1 L1889.0 713.1 L1889.0 709.1 L1886.0 709.1 L1886.0 710.4 L1883.0 710.4 L1883.0 708.0 L1880.0 708.0 L1880.0 709.5 L1877.0 709.5 L1877.0 711.3 L1874.0 711.3 L1874.0 711.1 L1871.0 711.1 L1871.0 708.9 L1868.0 708.9 L1868.0 708.8 L1865.0 708.8 L1865.0 712.7 L1862.0 712.7 L1862.0 713.4 L1859.0 713.4 L1859.0 710.5 L1856.0 710.5 L1856.0 712.4 L1853.0 712.4 L1853.0 711.8 L1850.0 711.8 L1850.0 710.3 L1847.0 710.3 L1847.0 711.0 L1844.0 711.0 L1844.0 711.7 L1841.0 711.7 L1841.0 712.4 L1838.0 712.4 L1838.0 716.9 L1835.0 716.9 L1835.0 712.2 L1832.0 712.2 L1832.0 717.2 L1829.0 717.2 L1829.0 719.6 L1826.0 719.6 L1826.0 717.7 L1823.0 717.7 L1823.0 714.5 L1820.0 714.5 L1820.0 715.3 L1817.0 715.3 L1817.0 714.1 L1814.0 714.1 L1814.0 713.3 L1811.0 713.3 L1811.0 712.1 L1808.0 712.1 L1808.0 713.6 L1805.0 713.6 L1805.0 715.4 L1802.0 715.4 L1802.0 715.5 L1799.0 715.5 L1799.0 714.1 L1796.0 714.1 L1796.0 713.4 L1793.0 713.4 L1793.0 713.5 L1790.0 713.5 L1790.0 714.3 L1787.0 714.3 L1787.0 716.7 L1784.0 716.7 L1784.0 716.5 L1781.0 716.5 L1781.0 714.0 L1778.0 714.0 L1778.0 712.4 L1775.0 712.4 L1775.0 712.6 L1772.0 712.6 L1772.0 712.6 L1769.0 712.6 L1769.0 714.1 L1766.0 714.1 L1766.0 713.3 L1763.0 713.3 L1763.0 715.5 L1760.0 715.5 L1760.0 715.2 L1757.0 715.2 L1757.0 713.3 L1754.0 713.3 L1754.0 712.7 L1751.0 712.7 L1751.0 714.8 L1748.0 714.8 L1748.0 714.7 L1745.0 714.7 L1745.0 713.4 L1742.0 713.4 L1742.0 712.5 L1739.0 712.5 L1739.0 712.0 L1736.0 712.0 L1736.0 709.7 L1733.0 709.7 L1733.0 710.3 L1730.0 710.3 L1730.0 711.5 L1727.0 711.5 L1727.0 710.7 L1724.0 710.7 L1724.0 709.4 L1721.0 709.4 L1721.0 709.2 L1718.0 709.2 L1718.0 707.5 L1715.0 707.5 L1715.0 705.9 L1712.0 705.9 L1712.0 705.2 L1709.0 705.2 L1709.0 704.0 L1706.0 704.0 L1706.0 702.0 L1703.0 702.0 L1703.0 700.2 L1700.0 700.2 L1700.0 699.3 L1697.0 699.3 L1697.0 698.4 L1694.0 698.4 L1694.0 698.5 L1691.0 698.5 L1691.0 698.8 L1688.0 698.8 L1688.0 696.5 L1685.0 696.5 L1685.0 694.1 L1682.0 694.1 L1682.0 694.0 L1679.0 694.0 L1679.0 693.4 L1676.0 693.4 L1676.0 690.7 L1673.0 690.7 L1673.0 689.2 L1670.0 689.2 L1670.0 692.7 L1667.0 692.7 L1667.0 689.2 L1664.0 689.2 L1664.0 691.2 L1661.0 691.2 L1661.0 685.7 L1658.0 685.7 L1658.0 687.2 L1655.0 687.2 L1655.0 685.7 L1652.0 685.7 L1652.0 689.5 L1649.0 689.5 L1649.0 687.0 L1646.0 687.0 L1646.0 679.3 L1643.0 679.3 L1643.0 678.9 L1640.0 678.9 L1640.0 679.7 L1637.0 679.7 L1637.0 677.2 L1634.0 677.2 L1634.0 674.9 L1631.0 674.9 L1631.0 677.4 L1628.0 677.4 L1628.0 677.5 L1625.0 677.5 L1625.0 680.9 L1622.0 680.9 L1622.0 679.6 L1619.0 679.6 L1619.0 681.6 L1616.0 681.6 L1616.0 684.2 L1613.0 684.2 L1613.0 686.1 L1610.0 686.1 L1610.0 687.9 L1607.0 687.9 L1607.0 687.5 L1604.0 687.5 L1604.0 688.0 L1601.0 688.0 L1601.0 691.2 L1598.0 691.2 L1598.0 689.8 L1595.0 689.8 L1595.0 693.9 L1592.0 693.9 L1592.0 697.2 L1589.0 697.2 L1589.0 695.7 L1586.0 695.7 L1586.0 698.9 L1583.0 698.9 L1583.0 700.1 L1580.0 700.1 L1580.0 703.6 L1577.0 703.6 L1577.0 704.4 L1574.0 704.4 L1574.0 704.7 L1571.0 704.7 L1571.0 706.2 L1568.0 706.2 L1568.0 707.1 L1565.0 707.1 L1565.0 707.3 L1562.0 707.3 L1562.0 705.1 L1559.0 705.1 L1559.0 706.4 L1556.0 706.4 L1556.0 709.0 L1553.0 709.0 L1553.0 707.3 L1550.0 707.3 L1550.0 707.1 L1547.0 707.1 L1547.0 709.5 L1544.0 709.5 L1544.0 707.5 L1541.0 707.5 L1541.0 708.0 L1538.0 708.0 L1538.0 707.9 L1535.0 707.9 L1535.0 706.2 L1532.0 706.2 L1532.0 707.5 L1529.0 707.5 L1529.0 707.2 L1526.0 707.2 L1526.0 707.7 L1523.0 707.7 L1523.0 708.9 L1520.0 708.9 L1520.0 709.9 L1517.0 709.9 L1517.0 712.7 L1514.0 712.7 L1514.0 712.1 L1511.0 712.1 L1511.0 713.5 L1508.0 713.5 L1508.0 715.5 L1505.0 715.5 L1505.0 715.8 L1502.0 715.8 L1502.0 718.7 L1499.0 718.7 L1499.0 716.6 L1496.0 716.6 L1496.0 717.5 L1493.0 717.5 L1493.0 714.6 L1490.0 714.6 L1490.0 715.2 L1487.0 715.2 L1487.0 717.1 L1484.0 717.1 L1484.0 720.9 L1481.0 720.9 L1481.0 719.3 L1478.0 719.3 L1478.0 721.1 L1475.0 721.1 L1475.0 721.0 L1472.0 721.0 L1472.0 721.5 L1469.0 721.5 L1469.0 722.7 L1466.0 722.7 L1466.0 719.2 L1463.0 719.2 L1463.0 713.9 L1460.0 713.9 L1460.0 714.7 L1457.0 714.7 L1457.0 715.3 L1454.0 715.3 L1454.0 714.3 L1451.0 714.3 L1451.0 712.4 L1448.0 712.4 L1448.0 711.2 L1445.0 711.2 L1445.0 713.4 L1442.0 713.4 L1442.0 712.5 L1439.0 712.5 L1439.0 712.9 L1436.0 712.9 L1436.0 719.2 L1433.0 719.2 L1433.0 715.3 L1430.0 715.3 L1430.0 714.2 L1427.0 714.2 L1427.0 711.2 L1424.0 711.2 L1424.0 716.1 L1421.0 716.1 L1421.0 710.8 L1418.0 710.8 L1418.0 710.6 L1415.0 710.6 L1415.0 711.9 L1412.0 711.9 L1412.0 712.7 L1409.0 712.7 L1409.0 715.3 L1406.0 715.3 L1406.0 712.0 L1403.0 712.0 L1403.0 710.2 L1400.0 710.2 L1400.0 712.4 L1397.0 712.4 L1397.0 712.7 L1394.0 712.7 L1394.0 710.2 L1391.0 710.2 L1391.0 715.4 L1388.0 715.4 L1388.0 712.8 L1385.0 712.8 L1385.0 717.4 L1382.0 717.4 L1382.0 713.2 L1379.0 713.2 L1379.0 713.3 L1376.0 713.3 L1376.0 717.5 L1373.0 717.5 L1373.0 719.7 L1370.0 719.7 L1370.0 715.1 L1367.0 715.1 L1367.0 713.5 L1364.0 713.5 L1364.0 713.9 L1361.0 713.9 L1361.0 714.1 L1358.0 714.1 L1358.0 716.7 L1355.0 716.7 L1355.0 715.2 L1352.0 715.2 L1352.0 714.5 L1349.0 714.5 L1349.0 714.2 L1346.0 714.2 L1346.0 713.6 L1343.0 713.6 L1343.0 713.7 L1340.0 713.7 L1340.0 715.5 L1337.0 715.5 L1337.0 712.1 L1334.0 712.1 L1334.0 713.3 L1331.0 713.3 L1331.0 714.9 L1328.0 714.9 L1328.0 717.0 L1325.0 717.0 L1325.0 715.5 L1322.0 715.5 L1322.0 715.3 L1319.0 715.3 L1319.0 717.1 L1316.0 717.1 L1316.0 716.9 L1313.0 716.9 L1313.0 715.7 L1310.0 715.7 L1310.0 712.6 L1307.0 712.6 L1307.0 714.3 L1304.0 714.3 L1304.0 712.7 L1301.0 712.7 L1301.0 711.6 L1298.0 711.6 L1298.0 711.8 L1295.0 711.8 L1295.0 713.9 L1292.0 713.9 L1292.0 717.8 L1289.0 717.8 L1289.0 715.7 L1286.0 715.7 L1286.0 710.0 L1283.0 710.0 L1283.0 709.6 L1280.0 709.6 L1280.0 713.8 L1277.0 713.8 L1277.0 712.6 L1274.0 712.6 L1274.0 709.5 L1271.0 709.5 L1271.0 714.7 L1268.0 714.7 L1268.0 714.5 L1265.0 714.5 L1265.0 709.4 L1262.0 709.4 L1262.0 712.6 L1259.0 712.6 L1259.0 714.3 L1256.0 714.3 L1256.0 713.8 L1253.0 713.8 L1253.0 711.6 L1250.0 711.6 L1250.0 716.6 L1247.0 716.6 L1247.0 714.6 L1244.0 714.6 L1244.0 710.3 L1241.0 710.3 L1241.0 706.7 L1238.0 706.7 L1238.0 704.5 L1235.0 704.5 L1235.0 707.4 L1232.0 707.4 L1232.0 707.6 L1229.0 707.6 L1229.0 706.7 L1226.0 706.7 L1226.0 707.1 L1223.0 707.1 L1223.0 704.6 L1220.0 704.6 L1220.0 704.9 L1217.0 704.9 L1217.0 705.8 L1214.0 705.8 L1214.0 708.0 L1211.0 708.0 L1211.0 706.0 L1208.0 706.0 L1208.0 707.5 L1205.0 707.5 L1205.0 707.0 L1202.0 707.0 L1202.0 707.2 L1199.0 707.2 L1199.0 707.6 L1196.0 707.6 L1196.0 709.3 L1193.0 709.3 L1193.0 708.0 L1190.0 708.0 L1190.0 710.2 L1187.0 710.2 L1187.0 709.5 L1184.0 709.5 L1184.0 709.2 L1181.0 709.2 L1181.0 708.3 L1178.0 708.3 L1178.0 709.9 L1175.0 709.9 L1175.0 714.4 L1172.0 714.4 L1172.0 714.2 L1169.0 714.2 L1169.0 714.0 L1166.0 714.0 L1166.0 708.6 L1163.0 708.6 L1163.0 708.6 L1160.0 708.6 L1160.0 712.6 L1157.0 712.6 L1157.0 712.9 L1154.0 712.9 L1154.0 712.2 L1151.0 712.2 L1151.0 712.2 L1148.0 712.2 L1148.0 708.5 L1145.0 708.5 L1145.0 708.8 L1142.0 708.8 L1142.0 706.1 L1139.0 706.1 L1139.0 705.0 L1136.0 705.0 L1136.0 704.6 L1133.0 704.6 L1133.0 706.6 L1130.0 706.6 L1130.0 703.9 L1127.0 703.9 L1127.0 705.2 L1124.0 705.2 L1124.0 703.2 L1121.0 703.2 L1121.0 703.8 L1118.0 703.8 L1118.0 703.9 L1115.0 703.9 L1115.0 706.8 L1112.0 706.8 L1112.0 706.0 L1109.0 706.0 L1109.0 703.8 L1106.0 703.8 L1106.0 703.0 L1103.0 703.0 L1103.0 700.7 L1100.0 700.7 L1100.0 704.2 L1097.0 704.2 L1097.0 699.6 L1094.0 699.6 L1094.0 700.1 L1091.0 700.1 L1091.0 698.6 L1088.0 698.6 L1088.0 697.1 L1085.0 697.1 L1085.0 695.2 L1082.0 695.2 L1082.0 695.6 L1079.0 695.6 L1079.0 696.8 L1076.0 696.8 L1076.0 695.9 L1073.0 695.9 L1073.0 690.5 L1070.0 690.5 L1070.0 690.8 L1067.0 690.8 L1067.0 691.8 L1064.0 691.8 L1064.0 688.6 L1061.0 688.6 L1061.0 685.8 L1058.0 685.8 L1058.0 682.9 L1055.0 682.9 L1055.0 682.2 L1052.0 682.2 L1052.0 678.9 L1049.0 678.9 L1049.0 679.7 L1046.0 679.7 L1046.0 674.1 L1043.0 674.1 L1043.0 675.3 L1040.0 675.3 L1040.0 670.5 L1037.0 670.5 L1037.0 669.5 L1034.0 669.5 L1034.0 668.0 L1031.0 668.0 L1031.0 666.6 L1028.0 666.6 L1028.0 661.6 L1025.0 661.6 L1025.0 658.6 L1022.0 658.6 L1022.0 657.9 L1019.0 657.9 L1019.0 650.1 L1016.0 650.1 L1016.0 643.9 L1013.0 643.9 L1013.0 640.5 L1010.0 640.5 L1010.0 637.7 L1007.0 637.7 L1007.0 635.2 L1004.0 635.2 L1004.0 637.5 L1001.0 637.5 L1001.0 631.4 L998.0 631.4 L998.0 633.9 L995.0 633.9 L995.0 633.1 L992.0 633.1 L992.0 630.3 L989.0 630.3 L989.0 629.2 L986.0 629.2 L986.0 633.0 L983.0 633.0 L983.0 629.7 L980.0 629.7 L980.0 625.8 L977.0 625.8 L977.0 627.2 L974.0 627.2 L974.0 627.6 L971.0 627.6 L971.0 624.5 L968.0 624.5 L968.0 629.4 L965.0 629.4 L965.0 629.4 L962.0 629.4 L962.0 625.6 L959.0 625.6 L959.0 625.0 L956.0 625.0 L956.0 626.2 L953.0 626.2 L953.0 625.9 L950.0 625.9 L950.0 625.4 L947.0 625.4 L947.0 628.5 L944.0 628.5 L944.0 627.0 L941.0 627.0 L941.0 625.4 L938.0 625.4 L938.0 620.0 L935.0 620.0 L935.0 618.9 L932.0 618.9 L932.0 617.5 L929.0 617.5 L929.0 618.7 L926.0 618.7 L926.0 616.2 L923.0 616.2 L923.0 610.6 L920.0 610.6 L920.0 609.2 L917.0 609.2 L917.0 609.0 L914.0 609.0 L914.0 604.8 L911.0 604.8 L911.0 604.8 L908.0 604.8 L908.0 604.0 L905.0 604.0 L905.0 601.7 L902.0 601.7 L902.0 598.9 L899.0 598.9 L899.0 599.7 L896.0 599.7 L896.0 596.9 L893.0 596.9 L893.0 596.8 L890.0 596.8 L890.0 594.4 L887.0 594.4 L887.0 591.7 L884.0 591.7 L884.0 589.5 L881.0 589.5 L881.0 585.8 L878.0 585.8 L878.0 579.5 L875.0 579.5 L875.0 572.6 L872.0 572.6 L872.0 571.1 L869.0 571.1 L869.0 563.8 L866.0 563.8 L866.0 558.3 L863.0 558.3 L863.0 555.7 L860.0 555.7 L860.0 550.2 L857.0 550.2 L857.0 542.2 L854.0 542.2 L854.0 537.0 L851.0 537.0 L851.0 531.8 L848.0 531.8 L848.0 523.2 L845.0 523.2 L845.0 515.3 L842.0 515.3 L842.0 505.9 L839.0 505.9 L839.0 498.3 L836.0 498.3 L836.0 485.4 L833.0 485.4 L833.0 474.5 L830.0 474.5 L830.0 463.7 L827.0 463.7 L827.0 447.6 L824.0 447.6 L824.0 436.8 L821.0 436.8 L821.0 431.1 L818.0 431.1 L818.0 432.9 L815.0 432.9 L815.0 436.4 L812.0 436.4 L812.0 433.9 L809.0 433.9 L809.0 435.9 L806.0 435.9 L806.0 442.0 L803.0 442.0 L803.0 450.9 L800.0 450.9 L800.0 460.0 L797.0 460.0 L797.0 469.2 L794.0 469.2 L794.0 483.6 L791.0 483.6 L791.0 497.7 L788.0 497.7 L788.0 509.5 L785.0 509.5 L785.0 522.6 L782.0 522.6 L782.0 537.4 L779.0 537.4 L779.0 550.4 L776.0 550.4 L776.0 565.8 L773.0 565.8 L773.0 580.1 L770.0 580.1 L770.0 588.8 L767.0 588.8 L767.0 597.1 L764.0 597.1 L764.0 605.2 L761.0 605.2 L761.0 614.0 L758.0 614.0 L758.0 618.9 L755.0 618.9 L755.0 621.6 L752.0 621.6 L752.0 625.9 L749.0 625.9 L749.0 629.3 L746.0 629.3 L746.0 638.3 L743.0 638.3 L743.0 640.7 L740.0 640.7 L740.0 645.3 L737.0 645.3 L737.0 647.6 L734.0 647.6 L734.0 648.7 L731.0 648.7 L731.0 650.8 L728.0 650.8 L728.0 651.8 L725.0 651.8 L725.0 652.9 L722.0 652.9 L722.0 652.4 L719.0 652.4 L719.0 654.5 L716.0 654.5 L716.0 657.2 L713.0 657.2 L713.0 662.0 L710.0 662.0 L710.0 669.5 L707.0 669.5 L707.0 667.1 L704.0 667.1 L704.0 671.9 L701.0 671.9 L701.0 672.6 L698.0 672.6 L698.0 673.6 L695.0 673.6 L695.0 673.6 L692.0 673.6 L692.0 675.8 L689.0 675.8 L689.0 675.0 L686.0 675.0 L686.0 677.9 L683.0 677.9 L683.0 680.5 L680.0 680.5 L680.0 674.1 L677.0 674.1 L677.0 672.9 L674.0 672.9 L674.0 674.9 L671.0 674.9 L671.0 673.6 L668.0 673.6 L668.0 675.7 L665.0 675.7 L665.0 675.5 L662.0 675.5 L662.0 677.1 L659.0 677.1 L659.0 678.0 L656.0 678.0 L656.0 679.5 L653.0 679.5 L653.0 680.0 L650.0 680.0 L650.0 678.6 L647.0 678.6 L647.0 679.1 L644.0 679.1 L644.0 678.9 L641.0 678.9 L641.0 676.8 L638.0 676.8 L638.0 680.9 L635.0 680.9 L635.0 682.6 L632.0 682.6 L632.0 681.1 L629.0 681.1 L629.0 677.0 L626.0 677.0 L626.0 676.5 L623.0 676.5 L623.0 678.1 L620.0 678.1 L620.0 676.1 L617.0 676.1 L617.0 675.4 L614.0 675.4 L614.0 674.4 L611.0 674.4 L611.0 674.5 L608.0 674.5 L608.0 674.6 L605.0 674.6 L605.0 676.4 L602.0 676.4 L602.0 675.5 L599.0 675.5 L599.0 673.4 L596.0 673.4 L596.0 674.2 L593.0 674.2 L593.0 674.2 L590.0 674.2 L590.0 673.9 L587.0 673.9 L587.0 672.6 L584.0 672.6 L584.0 672.1 L581.0 672.1 L581.0 676.4 L578.0 676.4 L578.0 676.9 L575.0 676.9 L575.0 670.2 L572.0 670.2 L572.0 669.1 L569.0 669.1 L569.0 670.3 L566.0 670.3 L566.0 671.6 L563.0 671.6 L563.0 669.7 L560.0 669.7 L560.0 670.5 L557.0 670.5 L557.0 671.6 L554.0 671.6 L554.0 670.5 L551.0 670.5 L551.0 671.6 L548.0 671.6 L548.0 669.8 L545.0 669.8 L545.0 670.7 L542.0 670.7 L542.0 666.4 L539.0 666.4 L539.0 666.2 L536.0 666.2 L536.0 667.5 L533.0 667.5 L533.0 668.9 L530.0 668.9 L530.0 666.9 L527.0 666.9 L527.0 666.6 L524.0 666.6 L524.0 665.1 L521.0 665.1 L521.0 666.6 L518.0 666.6 L518.0 665.0 L515.0 665.0 L515.0 667.2 L512.0 667.2 L512.0 665.7 L509.0 665.7 L509.0 669.9 L506.0 669.9 L506.0 670.0 L503.0 670.0 L503.0 670.3 L500.0 670.3 L500.0 665.2 L497.0 665.2 L497.0 667.7 L494.0 667.7 L494.0 666.7 L491.0 666.7 L491.0 666.8 L488.0 666.8 L488.0 666.8 L485.0 666.8 L485.0 672.3 L482.0 672.3 L482.0 665.3 L479.0 665.3 L479.0 666.7 L476.0 666.7 L476.0 665.0 L473.0 665.0 L473.0 662.7 L470.0 662.7 L470.0 663.6 L467.0 663.6 L467.0 663.7 L464.0 663.7 L464.0 663.3 L461.0 663.3 L461.0 662.7 L458.0 662.7 L458.0 663.4 L455.0 663.4 L455.0 662.8 L452.0 662.8 L452.0 661.6 L449.0 661.6 L449.0 661.0 L446.0 661.0 L446.0 658.4 L443.0 658.4 L443.0 659.4 L440.0 659.4 L440.0 665.9 L437.0 665.9 L437.0 667.4 L434.0 667.4 L434.0 665.6 L431.0 665.6 L431.0 660.6 L428.0 660.6 L428.0 659.1 L425.0 659.1 L425.0 653.3 L422.0 653.3 L422.0 636.9 L419.0 636.9 L419.0 604.6 L416.0 604.6 L416.0 555.1 L413.0 555.1 L413.0 523.1 L410.0 523.1 L410.0 507.9 L407.0 507.9 L407.0 525.1 L404.0 525.1 L404.0 554.7 L401.0 554.7 L401.0 574.3 L398.0 574.3 L398.0 592.7 L395.0 592.7 L395.0 609.8 L392.0 609.8 L392.0 623.3 L389.0 623.3 L389.0 633.8 L386.0 633.8 L386.0 643.4 L383.0 643.4 L383.0 651.9 L380.0 651.9 L380.0 660.0 L377.0 660.0 L377.0 664.9 L374.0 664.9 L374.0 667.4 L371.0 667.4 L371.0 668.2 L368.0 668.2 L368.0 670.4 L365.0 670.4 L365.0 669.2 L362.0 669.2 L362.0 670.1 L359.0 670.1 L359.0 674.3 L356.0 674.3 L356.0 672.4 L353.0 672.4 L353.0 669.7 L350.0 669.7 L350.0 671.5 L347.0 671.5 L347.0 671.5 L344.0 671.5 L344.0 678.8 L341.0 678.8 L341.0 674.0 L338.0 674.0 L338.0 677.7 L335.0 677.7 L335.0 675.9 L332.0 675.9 L332.0 681.9 L329.0 681.9 L329.0 680.7 L326.0 680.7 L326.0 683.5 L323.0 683.5 L323.0 679.5 L320.0 679.5 L320.0 678.8 L317.0 678.8 L317.0 681.9 L314.0 681.9 L314.0 678.5 L311.0 678.5 L311.0 677.7 L308.0 677.7 L308.0 676.3 L305.0 676.3 L305.0 675.1 L302.0 675.1 L302.0 676.4 L299.0 676.4 L299.0 676.0 L296.0 676.0 L296.0 677.6 L293.0 677.6 L293.0 682.0 L290.0 682.0 L290.0 682.9 L287.0 682.9 L287.0 683.2 L284.0 683.2 L284.0 683.5 L281.0 683.5 L281.0 682.2 L278.0 682.2 L278.0 678.3 L275.0 678.3 L275.0 677.2 L272.0 677.2 L272.0 670.5 L269.0 670.5 L269.0 669.6 L266.0 669.6 L266.0 675.8 L263.0 675.8 L263.0 675.0 L260.0 675.0 L260.0 676.7 L257.0 676.7 L257.0 679.4 L254.0 679.4 L254.0 680.4 L251.0 680.4 L251.0 683.4 L248.0 683.4 L248.0 682.4 L245.0 682.4 L245.0 682.5 L242.0 682.5 L242.0 683.8 L239.0 683.8 L239.0 680.3 L236.0 680.3 L236.0 682.3 L234.5 682.3Z" fill="#0000ff" stroke="none"/>
<path d="M234.5 961.8L236.0 963.4L237.5 962.7L239.0 962.1L240.5 962.8L242.0 964.4L243.5 966.3L245.0 965.2L246.5 963.7L248.0 964.5L249.5 966.0L251.0 966.1L252.5 966.9L254.0 969.4L255.5 967.2L257.0 968.0L258.5 969.7L260.0 970.6L261.5 971.6L263.0 972.9L264.5 972.7L266.0 974.3L267.5 973.9L269.0 974.3L270.5 972.3L272.0 973.1L273.5 973.5L275.0 974.5L276.5 973.2L278.0 972.8L279.5 972.9L281.0 975.2L282.5 972.0L284.0 973.6L285.5 973.3L287.0 974.5L288.5 973.6L290.0 972.5L291.5 973.5L293.0 973.8L294.5 972.1L296.0 970.7L297.5 971.0L299.0 972.1L300.5 971.0L302.0 971.9L303.5 972.7L305.0 971.6L306.5 973.3L308.0 970.9L309.5 969.7L311.0 970.8L312.5 971.4L314.0 969.0L315.5 970.6L317.0 971.7L318.5 970.2L320.0 971.7L321.5 968.6L323.0 970.8L324.5 968.9L326.0 969.2L327.5 969.9L329.0 972.8L330.5 972.6L332.0 974.1L333.5 972.5L335.0 972.2L336.5 975.2L338.0 974.2L339.5 973.8L341.0 976.3L342.5 976.8L344.0 975.2L345.5 976.1L347.0 976.4L348.5 974.7L350.0 974.4L351.5 975.0L353.0 975.7L354.5 972.5L356.0 973.5L357.5 972.5L359.0 971.4L360.5 970.2L362.0 968.8L363.5 969.5L365.0 967.9L366.5 964.9L368.0 967.0L369.5 965.4L371.0 965.6L372.5 967.3L374.0 965.4L375.5 962.7L377.0 964.1L378.5 963.1L380.0 964.9L381.5 960.2L383.0 963.5L384.5 962.3L386.0 960.6L387.5 958.3L389.0 955.5L390.5 947.3L392.0 944.5L393.5 941.4L395.0 938.0L396.5 934.1L398.0 930.5L399.5 924.9L401.0 918.2L402.5 910.1L404.0 905.7L405.5 899.5L407.0 891.8L408.5 883.2L410.0 875.1L411.5 863.0L413.0 858.4L414.5 852.9L416.0 853.7L417.5 861.0L419.0 866.9L420.5 876.3L422.0 886.4L423.5 898.4L425.0 916.9L426.5 937.6L428.0 951.9L429.5 956.1L431.0 961.6L432.5 966.0L434.0 965.1L435.5 967.0L437.0 967.2L438.5 971.2L440.0 969.8L441.5 970.7L443.0 971.5L444.5 971.1L446.0 974.9L447.5 973.8L449.0 975.0L450.5 971.0L452.0 974.1L453.5 973.3L455.0 972.5L456.5 973.9L458.0 975.6L459.5 975.2L461.0 973.7L462.5 977.8L464.0 975.6L465.5 973.8L467.0 973.9L468.5 974.2L470.0 974.9L471.5 974.5L473.0 974.5L474.5 976.2L476.0 974.7L477.5 975.6L479.0 974.9L480.5 975.4L482.0 976.9L483.5 975.8L485.0 976.7L486.5 975.9L488.0 977.2L489.5 976.1L491.0 977.4L492.5 975.1L494.0 977.6L495.5 977.0L497.0 975.8L498.5 976.1L500.0 974.9L501.5 976.7L503.0 977.3L504.5 976.7L506.0 978.3L507.5 975.2L509.0 977.3L510.5 976.3L512.0 977.1L513.5 978.6L515.0 977.8L516.5 979.4L518.0 977.7L519.5 977.4L521.0 977.9L522.5 976.8L524.0 977.5L525.5 978.4L527.0 979.5L528.5 977.6L530.0 977.8L531.5 977.2L533.0 977.5L534.5 978.9L536.0 979.0L537.5 979.3L539.0 978.8L540.5 980.0L542.0 976.5L543.5 976.7L545.0 975.4L546.5 972.1L548.0 970.5L549.5 966.9L551.0 962.9L552.5 958.9L554.0 952.3L555.5 945.2L557.0 937.6L558.5 926.5L560.0 920.7L561.5 917.0L563.0 914.9L564.5 914.0L566.0 921.1L567.5 926.9L569.0 943.7L570.5 959.8L572.0 966.3L573.5 971.5L575.0 974.0L576.5 975.8L578.0 976.4L579.5 976.8L581.0 978.3L582.5 978.2L584.0 979.0L585.5 979.3L587.0 978.8L588.5 976.8L590.0 975.1L591.5 973.6L593.0 971.7L594.5 972.5L596.0 972.0L597.5 973.3L599.0 972.9L600.5 972.7L602.0 974.6L603.5 974.2L605.0 975.2L606.5 976.6L608.0 977.3L609.5 977.1L611.0 979.4L612.5 979.9L614.0 980.2L615.5 980.7L617.0 981.6L618.5 980.3L620.0 983.3L621.5 979.7L623.0 981.2L624.5 981.4L626.0 982.8L627.5 982.6L629.0 983.0L630.5 981.5L632.0 984.0L633.5 983.7L635.0 980.8L636.5 983.1L638.0 981.0L639.5 982.4L641.0 983.5L642.5 983.0L644.0 981.7L645.5 982.3L647.0 984.0L648.5 983.1L650.0 983.7L651.5 981.3L653.0 983.5L654.5 983.1L656.0 982.0L657.5 984.3L659.0 982.9L660.5 983.8L662.0 982.4L663.5 983.1L665.0 982.9L666.5 982.0L668.0 981.8L669.5 981.6L671.0 980.7L672.5 979.1L674.0 980.1L675.5 979.2L677.0 979.1L678.5 977.6L680.0 979.5L681.5 978.5L683.0 978.6L684.5 978.8L686.0 977.6L687.5 976.1L689.0 974.8L690.5 976.7L692.0 975.4L693.5 975.4L695.0 975.3L696.5 973.0L698.0 971.1L699.5 970.9L701.0 968.3L702.5 965.9L704.0 964.6L705.5 960.7L707.0 957.2L708.5 950.7L710.0 945.8L711.5 937.7L713.0 928.3L714.5 915.3L716.0 900.2L717.5 876.6L719.0 851.3L720.5 821.3L722.0 790.0L723.5 757.9L725.0 789.3L726.5 828.2L728.0 860.9L729.5 890.7L731.0 920.1L732.5 942.4L734.0 958.2L735.5 963.0L737.0 968.0L738.5 969.9L740.0 971.6L741.5 969.7L743.0 967.5L744.5 966.2L746.0 964.7L747.5 963.8L749.0 960.6L750.5 958.5L752.0 955.1L753.5 953.2L755.0 950.8L756.5 949.7L758.0 949.7L759.5 951.6L761.0 952.1L762.5 954.7L764.0 955.5L765.5 958.7L767.0 960.3L768.5 962.9L770.0 964.6L771.5 964.7L773.0 967.8L774.5 968.1L776.0 971.1L777.5 971.5L779.0 971.9L780.5 973.6L782.0 975.1L783.5 978.4L785.0 976.8L786.5 978.5L788.0 979.8L789.5 980.1L791.0 980.6L792.5 981.7L794.0 980.8L795.5 983.5L797.0 983.5L798.5 982.7L800.0 984.1L801.5 983.2L803.0 982.9L804.5 982.5L806.0 983.2L807.5 984.6L809.0 984.6L810.5 986.0L812.0 986.1L813.5 985.7L815.0 985.1L816.5 986.9L818.0 985.3L819.5 983.2L821.0 985.4L822.5 986.3L824.0 986.6L825.5 986.7L827.0 987.1L828.5 984.1L830.0 988.9L831.5 987.4L833.0 987.1L834.5 985.3L836.0 988.1L837.5 986.4L839.0 985.6L840.5 988.2L842.0 988.2L843.5 987.7L845.0 987.0L846.5 988.3L848.0 988.0L849.5 988.3L851.0 988.3L852.5 986.5L854.0 988.3L855.5 986.5L857.0 988.1L858.5 987.1L860.0 986.8L861.5 988.7L863.0 987.2L864.5 987.0L866.0 987.4L867.5 988.5L869.0 983.5L870.5 986.6L872.0 986.0L873.5 986.9L875.0 985.8L876.5 985.6L878.0 986.2L879.5 985.5L881.0 984.7L882.5 985.6L884.0 987.5L885.5 986.4L887.0 983.7L888.5 985.9L890.0 985.3L891.5 987.3L893.0 985.4L894.5 986.6L896.0 987.4L897.5 987.9L899.0 986.6L900.5 987.7L902.0 989.7L903.5 987.0L905.0 987.8L906.5 987.1L908.0 987.8L909.5 988.5L911.0 988.0L912.5 988.6L914.0 986.6L915.5 987.8L917.0 987.2L918.5 984.5L920.0 988.1L921.5 986.9L923.0 985.9L924.5 987.2L926.0 986.3L927.5 983.1L929.0 985.4L930.5 986.8L932.0 984.3L933.5 984.3L935.0 981.4L936.5 980.9L938.0 980.3L939.5 981.8L941.0 980.5L942.5 975.7L944.0 977.2L945.5 972.0L947.0 967.6L948.5 961.9L950.0 954.3L951.5 947.5L953.0 940.4L954.5 937.1L956.0 932.7L957.5 931.3L959.0 934.5L960.5 944.8L962.0 953.3L963.5 966.2L965.0 977.9L966.5 982.9L968.0 985.5L969.5 985.2L971.0 984.5L972.5 985.0L974.0 989.4L975.5 986.0L977.0 986.5L978.5 987.1L980.0 988.4L981.5 986.3L983.0 987.2L984.5 987.9L986.0 986.3L987.5 987.6L989.0 988.7L990.5 987.9L992.0 987.8L993.5 988.2L995.0 987.7L996.5 987.4L998.0 987.4L999.5 988.8L1001.0 986.4L1002.5 987.0L1004.0 989.2L1005.5 989.9L1007.0 989.1L1008.5 988.5L1010.0 988.0L1011.5 990.6L1013.0 990.6L1014.5 991.1L1016.0 991.6L1017.5 990.5L1019.0 991.1L1020.5 992.1L1022.0 992.3L1023.5 991.1L1025.0 991.7L1026.5 992.9L1028.0 994.6L1029.5 995.7L1031.0 993.6L1032.5 993.0L1034.0 993.6L1035.5 993.4L1037.0 992.5L1038.5 990.1L1040.0 993.5L1041.5 992.7L1043.0 993.3L1044.5 992.3L1046.0 993.0L1047.5 993.5L1049.0 992.0L1050.5 992.6L1052.0 993.9L1053.5 994.1L1055.0 991.5L1056.5 994.1L1058.0 994.7L1059.5 993.8L1061.0 993.8L1062.5 993.5L1064.0 993.8L1065.5 993.0L1067.0 994.8L1068.5 993.6L1070.0 992.3L1071.5 994.4L1073.0 994.9L1074.5 994.5L1076.0 993.3L1077.5 995.0L1079.0 991.7L1080.5 996.4L1082.0 995.5L1083.5 993.3L1085.0 993.2L1086.5 997.9L1088.0 995.9L1089.5 995.2L1091.0 996.5L1092.5 996.3L1094.0 996.8L1095.5 997.8L1097.0 998.2L1098.5 997.2L1100.0 998.7L1101.5 998.5L1103.0 997.3L1104.5 999.1L1106.0 998.6L1107.5 996.8L1109.0 999.4L1110.5 998.0L1112.0 998.6L1113.5 996.2L1115.0 996.2L1116.5 996.5L1118.0 995.6L1119.5 995.7L1121.0 994.1L1122.5 997.3L1124.0 995.3L1125.5 995.6L1127.0 995.5L1128.5 993.2L1130.0 994.7L1131.5 989.7L1133.0 991.1L1134.5 990.3L1136.0 990.3L1137.5 988.6L1139.0 990.2L1140.5 990.9L1142.0 988.8L1143.5 988.9L1145.0 985.9L1146.5 987.2L1148.0 988.4L1149.5 987.7L1151.0 989.3L1152.5 989.4L1154.0 991.2L1155.5 990.6L1157.0 993.7L1158.5 995.9L1160.0 996.4L1161.5 999.1L1163.0 998.0L1164.5 1000.0L1166.0 998.6L1167.5 1001.5L1169.0 1001.4L1170.5 1000.7L1172.0 1002.1L1173.5 999.8L1175.0 1000.7L1176.5 1001.3L1178.0 1000.0L1179.5 1000.0L1181.0 1002.0L1182.5 1000.6L1184.0 1000.0L1185.5 1000.5L1187.0 1000.4L1188.5 1000.2L1190.0 1001.3L1191.5 999.9L1193.0 999.5L1194.5 1001.0L1196.0 1000.9L1197.5 1002.2L1199.0 999.7L1200.5 1000.4L1202.0 1002.0L1203.5 1001.3L1205.0 1000.4L1206.5 1000.1L1208.0 1001.6L1209.5 1000.8L1211.0 1000.0L1212.5 1000.3L1214.0 1000.3L1215.5 1001.6L1217.0 998.1L1218.5 1000.0L1220.0 1001.7L1221.5 998.7L1223.0 1000.0L1224.5 1001.1L1226.0 998.9L1227.5 999.5L1229.0 999.1L1230.5 1000.1L1232.0 999.2L1233.5 998.7L1235.0 999.7L1236.5 999.7L1238.0 1000.4L1239.5 998.6L1241.0 998.5L1242.5 997.7L1244.0 999.0L1245.5 998.5L1247.0 996.0L1248.5 994.1L1250.0 997.6L1251.5 993.3L1253.0 992.9L1254.5 993.5L1256.0 995.4L1257.5 994.1L1259.0 992.2L1260.5 992.7L1262.0 991.5L1263.5 992.4L1265.0 990.5L1266.5 992.3L1268.0 991.2L1269.5 990.0L1271.0 988.9L1272.5 992.3L1274.0 992.6L1275.5 992.4L1277.0 993.9L1278.5 996.0L1280.0 997.9L1281.5 999.7L1283.0 1001.5L1284.5 1003.0L1286.0 1003.7L1287.5 1007.3L1289.0 1005.5L1290.5 1005.2L1292.0 1006.4L1293.5 1005.0L1295.0 1006.3L1296.5 1006.0L1298.0 1006.9L1299.5 1004.9L1301.0 1004.0L1302.5 1007.1L1304.0 1005.7L1305.5 1007.6L1307.0 1006.6L1308.5 1005.4L1310.0 1006.2L1311.5 1004.7L1313.0 1004.9L1314.5 1005.9L1316.0 1006.0L1317.5 1004.2L1319.0 1006.7L1320.5 1006.4L1322.0 1006.9L1323.5 1004.4L1325.0 1006.3L1326.5 1005.0L1328.0 1004.9L1329.5 1006.2L1331.0 1005.1L1332.5 1005.3L1334.0 1005.4L1335.5 1005.4L1337.0 1003.1L1338.5 1002.8L1340.0 1003.8L1341.5 1003.8L1343.0 1002.3L1344.5 1003.1L1346.0 1001.7L1347.5 1002.0L1349.0 1002.0L1350.5 1002.2L1352.0 1002.5L1353.5 1001.4L1355.0 1001.8L1356.5 1000.7L1358.0 1002.1L1359.5 1001.7L1361.0 1000.1L1362.5 1001.1L1364.0 996.9L1365.5 993.6L1367.0 986.6L1368.5 978.5L1370.0 968.6L1371.5 957.3L1373.0 951.0L1374.5 945.6L1376.0 941.6L1377.5 937.1L1379.0 933.6L1380.5 932.8L1382.0 937.7L1383.5 944.3L1385.0 953.2L1386.5 961.8L1388.0 969.7L1389.5 977.2L1391.0 984.8L1392.5 991.1L1394.0 994.5L1395.5 996.8L1397.0 997.8L1398.5 1001.9L1400.0 1000.9L1401.5 1004.0L1403.0 1004.1L1404.5 1003.0L1406.0 1004.4L1407.5 1007.0L1409.0 1006.6L1410.5 1006.8L1412.0 1008.7L1413.5 1007.9L1415.0 1008.4L1416.5 1008.8L1418.0 1009.1L1419.5 1010.4L1421.0 1009.1L1422.5 1011.0L1424.0 1011.7L1425.5 1009.9L1427.0 1011.1L1428.5 1009.7L1430.0 1011.2L1431.5 1012.5L1433.0 1012.4L1434.5 1011.3L1436.0 1012.5L1437.5 1012.6L1439.0 1012.5L1440.5 1012.7L1442.0 1014.7L1443.5 1010.4L1445.0 1012.5L1446.5 1014.1L1448.0 1013.3L1449.5 1013.9L1451.0 1014.0L1452.5 1013.6L1454.0 1013.9L1455.5 1013.3L1457.0 1014.0L1458.5 1014.8L1460.0 1015.1L1461.5 1014.6L1463.0 1013.8L1464.5 1013.5L1466.0 1012.1L1467.5 1013.4L1469.0 1012.5L1470.5 1012.5L1472.0 1012.7L1473.5 1012.9L1475.0 1012.7L1476.5 1012.4L1478.0 1011.0L1479.5 1011.5L1481.0 1012.4L1482.5 1011.4L1484.0 1011.8L1485.5 1011.3L1487.0 1012.6L1488.5 1012.7L1490.0 1013.6L1491.5 1010.7L1493.0 1011.9L1494.5 1010.0L1496.0 1012.1L1497.5 1012.0L1499.0 1011.4L1500.5 1013.3L1502.0 1012.3L1503.5 1010.9L1505.0 1014.0L1506.5 1012.9L1508.0 1013.8L1509.5 1012.6L1511.0 1012.7L1512.5 1012.5L1514.0 1012.8L1515.5 1014.6L1517.0 1014.6L1518.5 1012.5L1520.0 1014.1L1521.5 1013.9L1523.0 1012.5L1524.5 1012.6L1526.0 1010.7L1527.5 1011.2L1529.0 1008.6L1530.5 1007.3L1532.0 1001.7L1533.5 1001.7L1535.0 998.2L1536.5 992.6L1538.0 986.0L1539.5 976.9L1541.0 968.9L1542.5 956.4L1544.0 950.8L1545.5 947.4L1547.0 943.8L1548.5 942.1L1550.0 943.4L1551.5 947.4L1553.0 955.3L1554.5 964.4L1556.0 974.6L1557.5 982.4L1559.0 992.0L1560.5 999.2L1562.0 1004.9L1563.5 1008.1L1565.0 1010.6L1566.5 1013.1L1568.0 1013.7L1569.5 1014.8L1571.0 1014.9L1572.5 1016.7L1574.0 1016.8L1575.5 1015.9L1577.0 1020.3L1578.5 1018.2L1580.0 1017.9L1581.5 1017.4L1583.0 1019.0L1584.5 1018.5L1586.0 1020.9L1587.5 1019.9L1589.0 1018.9L1590.5 1017.8L1592.0 1020.2L1593.5 1017.8L1595.0 1019.8L1596.5 1019.3L1598.0 1016.4L1599.5 1018.6L1601.0 1020.3L1602.5 1017.7L1604.0 1016.1L1605.5 1016.5L1607.0 1017.9L1608.5 1018.1L1610.0 1018.4L1611.5 1017.7L1613.0 1016.4L1614.5 1016.7L1616.0 1016.8L1617.5 1016.8L1619.0 1015.7L1620.5 1017.6L1622.0 1018.0L1623.5 1016.9L1625.0 1017.2L1626.5 1015.9L1628.0 1017.5L1629.5 1016.6L1631.0 1016.6L1632.5 1018.4L1634.0 1017.9L1635.5 1017.5L1637.0 1016.5L1638.5 1018.3L1640.0 1020.1L1641.5 1018.9L1643.0 1019.0L1644.5 1020.1L1646.0 1021.2L1647.5 1019.8L1649.0 1020.4L1650.5 1019.8L1652.0 1020.2L1653.5 1020.3L1655.0 1021.0L1656.5 1019.6L1658.0 1020.5L1659.5 1020.7L1661.0 1020.4L1662.5 1020.0L1664.0 1021.5L1665.5 1020.5L1667.0 1019.5L1668.5 1021.8L1670.0 1019.9L1671.5 1022.2L1673.0 1019.0L1674.5 1021.6L1676.0 1023.5L1677.5 1021.7L1679.0 1023.1L1680.5 1021.7L1682.0 1021.5L1683.5 1022.1L1685.0 1023.4L1686.5 1023.9L1688.0 1024.2L1689.5 1023.8L1691.0 1023.0L1692.5 1021.2L1694.0 1022.5L1695.5 1024.9L1697.0 1021.9L1698.5 1024.1L1700.0 1024.1L1701.5 1022.1L1703.0 1024.2L1704.5 1023.5L1706.0 1024.2L1707.5 1023.9L1709.0 1023.8L1710.5 1023.1L1712.0 1022.1L1713.5 1025.8L1715.0 1023.2L1716.5 1023.8L1718.0 1023.7L1719.5 1023.7L1721.0 1023.3L1722.5 1024.6L1724.0 1024.0L1725.5 1023.5L1727.0 1023.4L1728.5 1024.5L1730.0 1023.1L1731.5 1024.6L1733.0 1025.4L1734.5 1025.1L1736.0 1024.6L1737.5 1022.4L1739.0 1024.8L1740.5 1024.3L1742.0 1025.5L1743.5 1023.6L1745.0 1023.8L1746.5 1025.8L1748.0 1023.7L1749.5 1025.8L1751.0 1025.2L1752.5 1022.6L1754.0 1024.8L1755.5 1024.9L1757.0 1024.3L1758.5 1023.9L1760.0 1026.0L1761.5 1025.1L1763.0 1025.6L1764.5 1025.4L1766.0 1026.2L1767.5 1027.0L1769.0 1027.4L1770.5 1027.1L1772.0 1026.2L1773.5 1026.4L1775.0 1027.1L1776.5 1027.8L1778.0 1026.5L1779.5 1025.3L1781.0 1026.9L1782.5 1027.2L1784.0 1026.1L1785.5 1027.8L1787.0 1026.1L1788.5 1026.6L1790.0 1026.9L1791.5 1028.2L1793.0 1025.4L1794.5 1027.1L1796.0 1027.3L1797.5 1026.4L1799.0 1027.6L1800.5 1025.9L1802.0 1025.5L1803.5 1025.6L1805.0 1026.4L1806.5 1026.3L1808.0 1028.3L1809.5 1028.3L1811.0 1027.3L1812.5 1030.8L1814.0 1030.0L1815.5 1028.6L1817.0 1029.0L1818.5 1031.4L1820.0 1033.2L1821.5 1032.0L1823.0 1033.6L1824.5 1034.7L1826.0 1034.0L1827.5 1033.2L1829.0 1032.3L1830.5 1033.0L1832.0 1035.0L1833.5 1033.6L1835.0 1032.6L1836.5 1033.1L1838.0 1033.2L1839.5 1034.5L1841.0 1032.6L1842.5 1035.0L1844.0 1033.2L1845.5 1033.2L1847.0 1031.6L1848.5 1032.9L1850.0 1032.6L1851.5 1032.9L1853.0 1031.3L1854.5 1032.0L1856.0 1030.1L1857.5 1030.4L1859.0 1033.5L1860.5 1030.5L1862.0 1029.9L1863.5 1031.2L1865.0 1029.6L1866.5 1031.8L1868.0 1028.6L1869.5 1028.5L1871.0 1026.8L1872.5 1027.4L1874.0 1025.4L1875.5 1027.3L1877.0 1023.0L1878.5 1023.3L1880.0 1022.8L1881.5 1020.1L1883.0 1019.9L1884.5 1019.0L1886.0 1017.4L1887.5 1018.8L1889.0 1015.1L1890.5 1016.3L1892.0 1016.1L1893.5 1017.4L1895.0 1016.9L1896.5 1018.2L1898.0 1018.7L1899.5 1018.1L1901.0 1017.6L1902.5 1020.1L1904.0 1019.5L1905.5 1020.9L1907.0 1022.3L1908.5 1024.8L1910.0 1027.0L1911.5 1026.6L1913.0 1025.8L1914.5 1028.0L1916.0 1029.1L1917.5 1027.6L1919.0 1029.0L1920.5 1028.4L1922.0 1028.7L1923.5 1029.6L1925.0 1029.7L1926.5 1028.9L1928.0 1029.8L1929.5 1028.6L1931.0 1029.8L1932.5 1030.2L1934.0 1029.7L1935.5 1028.7L1937.0 1029.5L1938.5 1030.8L1940.0 1031.5L1941.5 1031.6L1943.0 1031.8L1944.5 1032.7L1946.0 1030.8L1947.5 1032.8L1949.0 1031.4L1950.5 1034.6L1952.0 1034.5L1953.5 1033.2L1955.0 1035.6L1956.5 1036.4L1958.0 1035.0L1959.5 1036.4L1961.0 1036.9L1962.5 1037.7L1964.0 1034.9L1965.5 1036.4L1967.0 1033.2L1968.5 1032.6L1970.0 1033.8" stroke="#00ff00" stroke-width="8.5"/>
<path d="M234.5 952.7 L236.0 952.7 L236.0 951.4 L239.0 951.4 L239.0 952.1 L242.0 952.1 L242.0 952.5 L245.0 952.5 L245.0 953.2 L248.0 953.2 L248.0 952.3 L251.0 952.3 L251.0 953.1 L254.0 953.1 L254.0 955.6 L257.0 955.6 L257.0 958.4 L260.0 958.4 L260.0 957.9 L263.0 957.9 L263.0 959.9 L266.0 959.9 L266.0 960.9 L269.0 960.9 L269.0 963.1 L272.0 963.1 L272.0 961.0 L275.0 961.0 L275.0 962.3 L278.0 962.3 L278.0 961.7 L281.0 961.7 L281.0 951.8 L284.0 951.8 L284.0 961.7 L287.0 961.7 L287.0 963.6 L290.0 963.6 L290.0 954.1 L293.0 954.1 L293.0 952.3 L296.0 952.3 L296.0 961.3 L299.0 961.3 L299.0 962.0 L302.0 962.0 L302.0 956.0 L305.0 956.0 L305.0 956.2 L308.0 956.2 L308.0 955.6 L311.0 955.6 L311.0 956.9 L314.0 956.9 L314.0 959.1 L317.0 959.1 L317.0 958.0 L320.0 958.0 L320.0 948.7 L323.0 948.7 L323.0 948.1 L326.0 948.1 L326.0 950.4 L329.0 950.4 L329.0 958.8 L332.0 958.8 L332.0 956.8 L335.0 956.8 L335.0 960.3 L338.0 960.3 L338.0 962.4 L341.0 962.4 L341.0 960.1 L344.0 960.1 L344.0 960.3 L347.0 960.3 L347.0 963.8 L350.0 963.8 L350.0 965.4 L353.0 965.4 L353.0 961.8 L356.0 961.8 L356.0 958.8 L359.0 958.8 L359.0 957.1 L362.0 957.1 L362.0 958.1 L365.0 958.1 L365.0 958.2 L368.0 958.2 L368.0 952.4 L371.0 952.4 L371.0 955.2 L374.0 955.2 L374.0 950.9 L377.0 950.9 L377.0 948.5 L380.0 948.5 L380.0 954.3 L383.0 954.3 L383.0 953.0 L386.0 953.0 L386.0 943.9 L389.0 943.9 L389.0 928.9 L392.0 928.9 L392.0 923.1 L395.0 923.1 L395.0 917.1 L398.0 917.1 L398.0 917.9 L401.0 917.9 L401.0 900.4 L404.0 900.4 L404.0 883.4 L407.0 883.4 L407.0 868.3 L410.0 868.3 L410.0 852.8 L413.0 852.8 L413.0 839.1 L416.0 839.1 L416.0 849.3 L419.0 849.3 L419.0 860.3 L422.0 860.3 L422.0 884.6 L425.0 884.6 L425.0 923.5 L428.0 923.5 L428.0 943.3 L431.0 943.3 L431.0 950.2 L434.0 950.2 L434.0 953.9 L437.0 953.9 L437.0 957.3 L440.0 957.3 L440.0 958.2 L443.0 958.2 L443.0 960.6 L446.0 960.6 L446.0 963.5 L449.0 963.5 L449.0 960.9 L452.0 960.9 L452.0 958.7 L455.0 958.7 L455.0 957.3 L458.0 957.3 L458.0 964.7 L461.0 964.7 L461.0 963.4 L464.0 963.4 L464.0 963.9 L467.0 963.9 L467.0 961.9 L470.0 961.9 L470.0 962.1 L473.0 962.1 L473.0 963.8 L476.0 963.8 L476.0 963.3 L479.0 963.3 L479.0 963.9 L482.0 963.9 L482.0 963.9 L485.0 963.9 L485.0 963.2 L488.0 963.2 L488.0 962.3 L491.0 962.3 L491.0 962.6 L494.0 962.6 L494.0 964.4 L497.0 964.4 L497.0 964.6 L500.0 964.6 L500.0 965.4 L503.0 965.4 L503.0 965.2 L506.0 965.2 L506.0 965.1 L509.0 965.1 L509.0 964.7 L512.0 964.7 L512.0 965.5 L515.0 965.5 L515.0 965.2 L518.0 965.2 L518.0 967.7 L521.0 967.7 L521.0 961.6 L524.0 961.6 L524.0 964.2 L527.0 964.2 L527.0 963.3 L530.0 963.3 L530.0 966.6 L533.0 966.6 L533.0 963.4 L536.0 963.4 L536.0 965.9 L539.0 965.9 L539.0 958.4 L542.0 958.4 L542.0 967.8 L545.0 967.8 L545.0 964.2 L548.0 964.2 L548.0 955.7 L551.0 955.7 L551.0 946.2 L554.0 946.2 L554.0 934.5 L557.0 934.5 L557.0 915.7 L560.0 915.7 L560.0 908.7 L563.0 908.7 L563.0 907.6 L566.0 907.6 L566.0 918.4 L569.0 918.4 L569.0 949.1 L572.0 949.1 L572.0 959.7 L575.0 959.7 L575.0 965.0 L578.0 965.0 L578.0 963.0 L581.0 963.0 L581.0 963.4 L584.0 963.4 L584.0 965.4 L587.0 965.4 L587.0 962.6 L590.0 962.6 L590.0 958.0 L593.0 958.0 L593.0 957.7 L596.0 957.7 L596.0 956.5 L599.0 956.5 L599.0 957.7 L602.0 957.7 L602.0 959.9 L605.0 959.9 L605.0 963.3 L608.0 963.3 L608.0 961.1 L611.0 961.1 L611.0 966.1 L614.0 966.1 L614.0 965.7 L617.0 965.7 L617.0 970.3 L620.0 970.3 L620.0 967.9 L623.0 967.9 L623.0 965.6 L626.0 965.6 L626.0 970.5 L629.0 970.5 L629.0 970.5 L632.0 970.5 L632.0 970.9 L635.0 970.9 L635.0 971.5 L638.0 971.5 L638.0 972.0 L641.0 972.0 L641.0 968.0 L644.0 968.0 L644.0 969.9 L647.0 969.9 L647.0 970.7 L650.0 970.7 L650.0 969.2 L653.0 969.2 L653.0 971.2 L656.0 971.2 L656.0 972.5 L659.0 972.5 L659.0 970.6 L662.0 970.6 L662.0 970.5 L665.0 970.5 L665.0 970.3 L668.0 970.3 L668.0 972.1 L671.0 972.1 L671.0 971.8 L674.0 971.8 L674.0 968.7 L677.0 968.7 L677.0 964.6 L680.0 964.6 L680.0 958.0 L683.0 958.0 L683.0 958.4 L686.0 958.4 L686.0 958.3 L689.0 958.3 L689.0 965.5 L692.0 965.5 L692.0 963.2 L695.0 963.2 L695.0 961.3 L698.0 961.3 L698.0 958.1 L701.0 958.1 L701.0 951.9 L704.0 951.9 L704.0 949.0 L707.0 949.0 L707.0 933.5 L710.0 933.5 L710.0 920.8 L713.0 920.8 L713.0 898.8 L716.0 898.8 L716.0 863.6 L719.0 863.6 L719.0 808.5 L722.0 808.5 L722.0 747.4 L725.0 747.4 L725.0 816.4 L728.0 816.4 L728.0 881.6 L731.0 881.6 L731.0 932.4 L734.0 932.4 L734.0 953.9 L737.0 953.9 L737.0 956.7 L740.0 956.7 L740.0 957.3 L743.0 957.3 L743.0 952.7 L746.0 952.7 L746.0 952.8 L749.0 952.8 L749.0 945.4 L752.0 945.4 L752.0 940.6 L755.0 940.6 L755.0 936.4 L758.0 936.4 L758.0 937.6 L761.0 937.6 L761.0 940.5 L764.0 940.5 L764.0 945.7 L767.0 945.7 L767.0 950.5 L770.0 950.5 L770.0 955.2 L773.0 955.2 L773.0 957.7 L776.0 957.7 L776.0 960.9 L779.0 960.9 L779.0 959.7 L782.0 959.7 L782.0 962.2 L785.0 962.2 L785.0 964.1 L788.0 964.1 L788.0 969.9 L791.0 969.9 L791.0 968.1 L794.0 968.1 L794.0 968.6 L797.0 968.6 L797.0 970.4 L800.0 970.4 L800.0 972.3 L803.0 972.3 L803.0 973.2 L806.0 973.2 L806.0 971.5 L809.0 971.5 L809.0 973.0 L812.0 973.0 L812.0 972.1 L815.0 972.1 L815.0 974.6 L818.0 974.6 L818.0 968.2 L821.0 968.2 L821.0 970.9 L824.0 970.9 L824.0 969.8 L827.0 969.8 L827.0 975.0 L830.0 975.0 L830.0 971.3 L833.0 971.3 L833.0 974.8 L836.0 974.8 L836.0 973.6 L839.0 973.6 L839.0 973.6 L842.0 973.6 L842.0 972.9 L845.0 972.9 L845.0 975.7 L848.0 975.7 L848.0 971.2 L851.0 971.2 L851.0 975.8 L854.0 975.8 L854.0 974.2 L857.0 974.2 L857.0 972.3 L860.0 972.3 L860.0 974.6 L863.0 974.6 L863.0 968.6 L866.0 968.6 L866.0 967.9 L869.0 967.9 L869.0 970.9 L872.0 970.9 L872.0 976.6 L875.0 976.6 L875.0 973.3 L878.0 973.3 L878.0 970.6 L881.0 970.6 L881.0 969.9 L884.0 969.9 L884.0 974.9 L887.0 974.9 L887.0 973.8 L890.0 973.8 L890.0 971.5 L893.0 971.5 L893.0 973.5 L896.0 973.5 L896.0 973.1 L899.0 973.1 L899.0 975.0 L902.0 975.0 L902.0 974.4 L905.0 974.4 L905.0 969.4 L908.0 969.4 L908.0 973.6 L911.0 973.6 L911.0 966.9 L914.0 966.9 L914.0 969.6 L917.0 969.6 L917.0 971.4 L920.0 971.4 L920.0 976.2 L923.0 976.2 L923.0 973.7 L926.0 973.7 L926.0 977.0 L929.0 977.0 L929.0 974.8 L932.0 974.8 L932.0 972.1 L935.0 972.1 L935.0 972.9 L938.0 972.9 L938.0 967.6 L941.0 967.6 L941.0 963.2 L944.0 963.2 L944.0 961.4 L947.0 961.4 L947.0 951.0 L950.0 951.0 L950.0 934.8 L953.0 934.8 L953.0 926.1 L956.0 926.1 L956.0 922.9 L959.0 922.9 L959.0 932.8 L962.0 932.8 L962.0 952.1 L965.0 952.1 L965.0 967.0 L968.0 967.0 L968.0 976.3 L971.0 976.3 L971.0 978.0 L974.0 978.0 L974.0 976.0 L977.0 976.0 L977.0 972.3 L980.0 972.3 L980.0 970.6 L983.0 970.6 L983.0 970.6 L986.0 970.6 L986.0 975.7 L989.0 975.7 L989.0 975.5 L992.0 975.5 L992.0 977.1 L995.0 977.1 L995.0 977.1 L998.0 977.1 L998.0 977.6 L1001.0 977.6 L1001.0 979.3 L1004.0 979.3 L1004.0 971.1 L1007.0 971.1 L1007.0 973.5 L1010.0 973.5 L1010.0 974.7 L1013.0 974.7 L1013.0 980.6 L1016.0 980.6 L1016.0 978.4 L1019.0 978.4 L1019.0 982.5 L1022.0 982.5 L1022.0 982.4 L1025.0 982.4 L1025.0 982.6 L1028.0 982.6 L1028.0 979.9 L1031.0 979.9 L1031.0 980.9 L1034.0 980.9 L1034.0 981.7 L1037.0 981.7 L1037.0 984.6 L1040.0 984.6 L1040.0 983.5 L1043.0 983.5 L1043.0 975.6 L1046.0 975.6 L1046.0 976.8 L1049.0 976.8 L1049.0 977.4 L1052.0 977.4 L1052.0 981.6 L1055.0 981.6 L1055.0 980.0 L1058.0 980.0 L1058.0 979.4 L1061.0 979.4 L1061.0 981.6 L1064.0 981.6 L1064.0 980.4 L1067.0 980.4 L1067.0 980.6 L1070.0 980.6 L1070.0 982.0 L1073.0 982.0 L1073.0 980.6 L1076.0 980.6 L1076.0 981.8 L1079.0 981.8 L1079.0 977.9 L1082.0 977.9 L1082.0 984.8 L1085.0 984.8 L1085.0 985.0 L1088.0 985.0 L1088.0 985.8 L1091.0 985.8 L1091.0 985.7 L1094.0 985.7 L1094.0 985.1 L1097.0 985.1 L1097.0 987.4 L1100.0 987.4 L1100.0 986.6 L1103.0 986.6 L1103.0 985.9 L1106.0 985.9 L1106.0 983.0 L1109.0 983.0 L1109.0 981.5 L1112.0 981.5 L1112.0 979.3 L1115.0 979.3 L1115.0 983.1 L1118.0 983.1 L1118.0 982.3 L1121.0 982.3 L1121.0 981.1 L1124.0 981.1 L1124.0 979.8 L1127.0 979.8 L1127.0 976.3 L1130.0 976.3 L1130.0 975.1 L1133.0 975.1 L1133.0 977.3 L1136.0 977.3 L1136.0 976.0 L1139.0 976.0 L1139.0 968.8 L1142.0 968.8 L1142.0 968.9 L1145.0 968.9 L1145.0 974.5 L1148.0 974.5 L1148.0 973.4 L1151.0 973.4 L1151.0 978.1 L1154.0 978.1 L1154.0 975.8 L1157.0 975.8 L1157.0 984.7 L1160.0 984.7 L1160.0 984.3 L1163.0 984.3 L1163.0 986.1 L1166.0 986.1 L1166.0 990.8 L1169.0 990.8 L1169.0 989.1 L1172.0 989.1 L1172.0 986.2 L1175.0 986.2 L1175.0 979.7 L1178.0 979.7 L1178.0 979.6 L1181.0 979.6 L1181.0 989.0 L1184.0 989.0 L1184.0 985.9 L1187.0 985.9 L1187.0 987.8 L1190.0 987.8 L1190.0 988.5 L1193.0 988.5 L1193.0 989.5 L1196.0 989.5 L1196.0 979.4 L1199.0 979.4 L1199.0 980.2 L1202.0 980.2 L1202.0 978.6 L1205.0 978.6 L1205.0 987.4 L1208.0 987.4 L1208.0 985.2 L1211.0 985.2 L1211.0 987.3 L1214.0 987.3 L1214.0 988.0 L1217.0 988.0 L1217.0 990.0 L1220.0 990.0 L1220.0 986.3 L1223.0 986.3 L1223.0 983.7 L1226.0 983.7 L1226.0 987.7 L1229.0 987.7 L1229.0 987.5 L1232.0 987.5 L1232.0 984.9 L1235.0 984.9 L1235.0 984.5 L1238.0 984.5 L1238.0 988.2 L1241.0 988.2 L1241.0 984.4 L1244.0 984.4 L1244.0 984.0 L1247.0 984.0 L1247.0 984.3 L1250.0 984.3 L1250.0 976.1 L1253.0 976.1 L1253.0 976.0 L1256.0 976.0 L1256.0 972.3 L1259.0 972.3 L1259.0 978.8 L1262.0 978.8 L1262.0 977.0 L1265.0 977.0 L1265.0 979.0 L1268.0 979.0 L1268.0 978.3 L1271.0 978.3 L1271.0 974.3 L1274.0 974.3 L1274.0 982.3 L1277.0 982.3 L1277.0 985.0 L1280.0 985.0 L1280.0 987.2 L1283.0 987.2 L1283.0 989.2 L1286.0 989.2 L1286.0 993.6 L1289.0 993.6 L1289.0 991.0 L1292.0 991.0 L1292.0 991.2 L1295.0 991.2 L1295.0 994.8 L1298.0 994.8 L1298.0 990.5 L1301.0 990.5 L1301.0 988.2 L1304.0 988.2 L1304.0 989.6 L1307.0 989.6 L1307.0 992.9 L1310.0 992.9 L1310.0 991.7 L1313.0 991.7 L1313.0 992.2 L1316.0 992.2 L1316.0 993.9 L1319.0 993.9 L1319.0 992.0 L1322.0 992.0 L1322.0 994.7 L1325.0 994.7 L1325.0 990.6 L1328.0 990.6 L1328.0 992.5 L1331.0 992.5 L1331.0 993.5 L1334.0 993.5 L1334.0 992.1 L1337.0 992.1 L1337.0 991.6 L1340.0 991.6 L1340.0 982.4 L1343.0 982.4 L1343.0 981.8 L1346.0 981.8 L1346.0 990.4 L1349.0 990.4 L1349.0 985.8 L1352.0 985.8 L1352.0 990.0 L1355.0 990.0 L1355.0 981.0 L1358.0 981.0 L1358.0 981.5 L1361.0 981.5 L1361.0 989.3 L1364.0 989.3 L1364.0 981.1 L1367.0 981.1 L1367.0 968.9 L1370.0 968.9 L1370.0 947.9 L1373.0 947.9 L1373.0 928.7 L1376.0 928.7 L1376.0 922.3 L1379.0 922.3 L1379.0 921.2 L1382.0 921.2 L1382.0 931.0 L1385.0 931.0 L1385.0 953.3 L1388.0 953.3 L1388.0 964.5 L1391.0 964.5 L1391.0 975.1 L1394.0 975.1 L1394.0 988.0 L1397.0 988.0 L1397.0 987.6 L1400.0 987.6 L1400.0 987.7 L1403.0 987.7 L1403.0 992.0 L1406.0 992.0 L1406.0 994.1 L1409.0 994.1 L1409.0 995.3 L1412.0 995.3 L1412.0 998.8 L1415.0 998.8 L1415.0 997.9 L1418.0 997.9 L1418.0 991.6 L1421.0 991.6 L1421.0 993.2 L1424.0 993.2 L1424.0 990.9 L1427.0 990.9 L1427.0 1003.5 L1430.0 1003.5 L1430.0 1002.6 L1433.0 1002.6 L1433.0 1002.0 L1436.0 1002.0 L1436.0 1002.6 L1439.0 1002.6 L1439.0 1001.3 L1442.0 1001.3 L1442.0 1000.1 L1445.0 1000.1 L1445.0 1002.1 L1448.0 1002.1 L1448.0 1001.4 L1451.0 1001.4 L1451.0 1001.3 L1454.0 1001.3 L1454.0 994.7 L1457.0 994.7 L1457.0 1000.3 L1460.0 1000.3 L1460.0 999.8 L1463.0 999.8 L1463.0 998.2 L1466.0 998.2 L1466.0 1001.5 L1469.0 1001.5 L1469.0 1000.2 L1472.0 1000.2 L1472.0 997.8 L1475.0 997.8 L1475.0 999.7 L1478.0 999.7 L1478.0 1000.4 L1481.0 1000.4 L1481.0 999.8 L1484.0 999.8 L1484.0 998.3 L1487.0 998.3 L1487.0 996.9 L1490.0 996.9 L1490.0 997.9 L1493.0 997.9 L1493.0 996.2 L1496.0 996.2 L1496.0 997.7 L1499.0 997.7 L1499.0 1001.2 L1502.0 1001.2 L1502.0 994.3 L1505.0 994.3 L1505.0 998.1 L1508.0 998.1 L1508.0 997.9 L1511.0 997.9 L1511.0 998.0 L1514.0 998.0 L1514.0 998.0 L1517.0 998.0 L1517.0 999.7 L1520.0 999.7 L1520.0 998.2 L1523.0 998.2 L1523.0 1001.5 L1526.0 1001.5 L1526.0 997.2 L1529.0 997.2 L1529.0 988.4 L1532.0 988.4 L1532.0 985.6 L1535.0 985.6 L1535.0 975.5 L1538.0 975.5 L1538.0 962.0 L1541.0 962.0 L1541.0 942.6 L1544.0 942.6 L1544.0 929.7 L1547.0 929.7 L1547.0 927.8 L1550.0 927.8 L1550.0 936.9 L1553.0 936.9 L1553.0 950.3 L1556.0 950.3 L1556.0 968.2 L1559.0 968.2 L1559.0 982.7 L1562.0 982.7 L1562.0 995.9 L1565.0 995.9 L1565.0 994.1 L1568.0 994.1 L1568.0 998.7 L1571.0 998.7 L1571.0 999.4 L1574.0 999.4 L1574.0 1000.7 L1577.0 1000.7 L1577.0 1005.2 L1580.0 1005.2 L1580.0 1003.1 L1583.0 1003.1 L1583.0 997.3 L1586.0 997.3 L1586.0 998.2 L1589.0 998.2 L1589.0 1007.6 L1592.0 1007.6 L1592.0 1003.7 L1595.0 1003.7 L1595.0 1000.1 L1598.0 1000.1 L1598.0 1004.4 L1601.0 1004.4 L1601.0 1005.0 L1604.0 1005.0 L1604.0 1003.4 L1607.0 1003.4 L1607.0 1004.1 L1610.0 1004.1 L1610.0 1007.1 L1613.0 1007.1 L1613.0 1003.5 L1616.0 1003.5 L1616.0 1005.0 L1619.0 1005.0 L1619.0 1003.7 L1622.0 1003.7 L1622.0 1001.1 L1625.0 1001.1 L1625.0 1004.2 L1628.0 1004.2 L1628.0 1003.8 L1631.0 1003.8 L1631.0 1002.1 L1634.0 1002.1 L1634.0 998.9 L1637.0 998.9 L1637.0 1003.5 L1640.0 1003.5 L1640.0 1007.8 L1643.0 1007.8 L1643.0 1005.8 L1646.0 1005.8 L1646.0 1006.1 L1649.0 1006.1 L1649.0 1005.2 L1652.0 1005.2 L1652.0 1006.1 L1655.0 1006.1 L1655.0 1004.2 L1658.0 1004.2 L1658.0 1004.4 L1661.0 1004.4 L1661.0 1007.9 L1664.0 1007.9 L1664.0 1009.4 L1667.0 1009.4 L1667.0 1009.8 L1670.0 1009.8 L1670.0 1006.5 L1673.0 1006.5 L1673.0 1007.2 L1676.0 1007.2 L1676.0 1012.0 L1679.0 1012.0 L1679.0 1011.8 L1682.0 1011.8 L1682.0 1010.3 L1685.0 1010.3 L1685.0 1009.5 L1688.0 1009.5 L1688.0 1006.4 L1691.0 1006.4 L1691.0 1006.4 L1694.0 1006.4 L1694.0 1012.0 L1697.0 1012.0 L1697.0 1009.1 L1700.0 1009.1 L1700.0 1007.2 L1703.0 1007.2 L1703.0 1009.6 L1706.0 1009.6 L1706.0 1012.0 L1709.0 1012.0 L1709.0 1011.6 L1712.0 1011.6 L1712.0 1011.7 L1715.0 1011.7 L1715.0 1012.7 L1718.0 1012.7 L1718.0 1013.3 L1721.0 1013.3 L1721.0 1011.3 L1724.0 1011.3 L1724.0 1010.6 L1727.0 1010.6 L1727.0 1009.3 L1730.0 1009.3 L1730.0 1007.6 L1733.0 1007.6 L1733.0 1009.3 L1736.0 1009.3 L1736.0 1010.4 L1739.0 1010.4 L1739.0 1009.0 L1742.0 1009.0 L1742.0 1008.3 L1745.0 1008.3 L1745.0 1006.2 L1748.0 1006.2 L1748.0 1010.3 L1751.0 1010.3 L1751.0 1005.2 L1754.0 1005.2 L1754.0 1011.5 L1757.0 1011.5 L1757.0 1011.4 L1760.0 1011.4 L1760.0 1013.2 L1763.0 1013.2 L1763.0 1006.7 L1766.0 1006.7 L1766.0 1009.1 L1769.0 1009.1 L1769.0 1010.0 L1772.0 1010.0 L1772.0 1014.7 L1775.0 1014.7 L1775.0 1016.5 L1778.0 1016.5 L1778.0 1017.0 L1781.0 1017.0 L1781.0 1014.7 L1784.0 1014.7 L1784.0 1014.1 L1787.0 1014.1 L1787.0 1009.1 L1790.0 1009.1 L1790.0 1012.0 L1793.0 1012.0 L1793.0 1012.7 L1796.0 1012.7 L1796.0 1018.7 L1799.0 1018.7 L1799.0 1016.7 L1802.0 1016.7 L1802.0 1019.2 L1805.0 1019.2 L1805.0 1017.7 L1808.0 1017.7 L1808.0 1019.7 L1811.0 1019.7 L1811.0 1017.0 L1814.0 1017.0 L1814.0 1019.5 L1817.0 1019.5 L1817.0 1015.1 L1820.0 1015.1 L1820.0 1022.1 L1823.0 1022.1 L1823.0 1023.5 L1826.0 1023.5 L1826.0 1023.4 L1829.0 1023.4 L1829.0 1014.9 L1832.0 1014.9 L1832.0 1015.6 L1835.0 1015.6 L1835.0 1024.3 L1838.0 1024.3 L1838.0 1021.5 L1841.0 1021.5 L1841.0 1021.8 L1844.0 1021.8 L1844.0 1020.2 L1847.0 1020.2 L1847.0 1011.1 L1850.0 1011.1 L1850.0 1011.3 L1853.0 1011.3 L1853.0 1009.6 L1856.0 1009.6 L1856.0 1011.9 L1859.0 1011.9 L1859.0 1016.1 L1862.0 1016.1 L1862.0 1012.6 L1865.0 1012.6 L1865.0 1017.3 L1868.0 1017.3 L1868.0 1014.8 L1871.0 1014.8 L1871.0 1013.1 L1874.0 1013.1 L1874.0 1004.7 L1877.0 1004.7 L1877.0 1001.2 L1880.0 1001.2 L1880.0 1005.8 L1883.0 1005.8 L1883.0 1006.2 L1886.0 1006.2 L1886.0 1005.5 L1889.0 1005.5 L1889.0 997.4 L1892.0 997.4 L1892.0 996.5 L1895.0 996.5 L1895.0 994.3 L1898.0 994.3 L1898.0 1002.3 L1901.0 1002.3 L1901.0 1007.8 L1904.0 1007.8 L1904.0 1008.9 L1907.0 1008.9 L1907.0 1008.1 L1910.0 1008.1 L1910.0 1011.6 L1913.0 1011.6 L1913.0 1012.8 L1916.0 1012.8 L1916.0 1014.0 L1919.0 1014.0 L1919.0 1016.6 L1922.0 1016.6 L1922.0 1014.8 L1925.0 1014.8 L1925.0 1015.0 L1928.0 1015.0 L1928.0 1011.6 L1931.0 1011.6 L1931.0 1010.6 L1934.0 1010.6 L1934.0 1014.5 L1937.0 1014.5 L1937.0 1016.6 L1940.0 1016.6 L1940.0 1012.5 L1943.0 1012.5 L1943.0 1014.1 L1946.0 1014.1 L1946.0 1020.8 L1949.0 1020.8 L1949.0 1022.5 L1952.0 1022.5 L1952.0 1025.6 L1955.0 1025.6 L1955.0 1024.9 L1958.0 1024.9 L1958.0 1024.3 L1961.0 1024.3 L1961.0 1022.8 L1964.0 1022.8 L1964.0 1021.4 L1967.0 1021.4 L1967.0 1023.1 L1970.0 1023.1 L1970.0 1020.3 L1970.4 1020.3 L1970.4 1043.1 L1970.0 1043.1 L1970.0 1045.0 L1967.0 1045.0 L1967.0 1048.1 L1964.0 1048.1 L1964.0 1048.7 L1961.0 1048.7 L1961.0 1049.1 L1958.0 1049.1 L1958.0 1048.5 L1955.0 1048.5 L1955.0 1048.4 L1952.0 1048.4 L1952.0 1045.4 L1949.0 1045.4 L1949.0 1048.2 L1946.0 1048.2 L1946.0 1045.0 L1943.0 1045.0 L1943.0 1043.3 L1940.0 1043.3 L1940.0 1040.8 L1937.0 1040.8 L1937.0 1042.3 L1934.0 1042.3 L1934.0 1040.0 L1931.0 1040.0 L1931.0 1045.9 L1928.0 1045.9 L1928.0 1043.0 L1925.0 1043.0 L1925.0 1039.9 L1922.0 1039.9 L1922.0 1040.0 L1919.0 1040.0 L1919.0 1039.7 L1916.0 1039.7 L1916.0 1036.6 L1913.0 1036.6 L1913.0 1038.9 L1910.0 1038.9 L1910.0 1037.1 L1907.0 1037.1 L1907.0 1035.9 L1904.0 1035.9 L1904.0 1034.1 L1901.0 1034.1 L1901.0 1032.3 L1898.0 1032.3 L1898.0 1026.6 L1895.0 1026.6 L1895.0 1029.7 L1892.0 1029.7 L1892.0 1028.1 L1889.0 1028.1 L1889.0 1029.0 L1886.0 1029.0 L1886.0 1028.0 L1883.0 1028.0 L1883.0 1031.6 L1880.0 1031.6 L1880.0 1034.4 L1877.0 1034.4 L1877.0 1035.6 L1874.0 1035.6 L1874.0 1035.6 L1871.0 1035.6 L1871.0 1039.1 L1868.0 1039.1 L1868.0 1042.2 L1865.0 1042.2 L1865.0 1039.9 L1862.0 1039.9 L1862.0 1051.0 L1859.0 1051.0 L1859.0 1049.5 L1856.0 1049.5 L1856.0 1042.2 L1853.0 1042.2 L1853.0 1041.9 L1850.0 1041.9 L1850.0 1043.0 L1847.0 1043.0 L1847.0 1044.4 L1844.0 1044.4 L1844.0 1044.9 L1841.0 1044.9 L1841.0 1053.9 L1838.0 1053.9 L1838.0 1048.1 L1835.0 1048.1 L1835.0 1046.7 L1832.0 1046.7 L1832.0 1050.9 L1829.0 1050.9 L1829.0 1044.9 L1826.0 1044.9 L1826.0 1044.8 L1823.0 1044.8 L1823.0 1043.8 L1820.0 1043.8 L1820.0 1041.9 L1817.0 1041.9 L1817.0 1043.9 L1814.0 1043.9 L1814.0 1042.0 L1811.0 1042.0 L1811.0 1042.1 L1808.0 1042.1 L1808.0 1046.4 L1805.0 1046.4 L1805.0 1045.8 L1802.0 1045.8 L1802.0 1040.5 L1799.0 1040.5 L1799.0 1040.0 L1796.0 1040.0 L1796.0 1039.3 L1793.0 1039.3 L1793.0 1040.6 L1790.0 1040.6 L1790.0 1039.4 L1787.0 1039.4 L1787.0 1039.4 L1784.0 1039.4 L1784.0 1039.6 L1781.0 1039.6 L1781.0 1039.5 L1778.0 1039.5 L1778.0 1042.0 L1775.0 1042.0 L1775.0 1038.6 L1772.0 1038.6 L1772.0 1039.3 L1769.0 1039.3 L1769.0 1036.7 L1766.0 1036.7 L1766.0 1034.8 L1763.0 1034.8 L1763.0 1035.0 L1760.0 1035.0 L1760.0 1034.4 L1757.0 1034.4 L1757.0 1041.9 L1754.0 1041.9 L1754.0 1033.5 L1751.0 1033.5 L1751.0 1034.4 L1748.0 1034.4 L1748.0 1034.0 L1745.0 1034.0 L1745.0 1033.4 L1742.0 1033.4 L1742.0 1036.7 L1739.0 1036.7 L1739.0 1036.5 L1736.0 1036.5 L1736.0 1038.3 L1733.0 1038.3 L1733.0 1038.6 L1730.0 1038.6 L1730.0 1038.8 L1727.0 1038.8 L1727.0 1035.6 L1724.0 1035.6 L1724.0 1035.9 L1721.0 1035.9 L1721.0 1036.0 L1718.0 1036.0 L1718.0 1038.3 L1715.0 1038.3 L1715.0 1035.4 L1712.0 1035.4 L1712.0 1038.8 L1709.0 1038.8 L1709.0 1034.3 L1706.0 1034.3 L1706.0 1033.0 L1703.0 1033.0 L1703.0 1032.2 L1700.0 1032.2 L1700.0 1035.9 L1697.0 1035.9 L1697.0 1034.5 L1694.0 1034.5 L1694.0 1035.9 L1691.0 1035.9 L1691.0 1038.3 L1688.0 1038.3 L1688.0 1040.6 L1685.0 1040.6 L1685.0 1042.8 L1682.0 1042.8 L1682.0 1044.0 L1679.0 1044.0 L1679.0 1043.8 L1676.0 1043.8 L1676.0 1034.6 L1673.0 1034.6 L1673.0 1033.1 L1670.0 1033.1 L1670.0 1032.0 L1667.0 1032.0 L1667.0 1032.0 L1664.0 1032.0 L1664.0 1030.8 L1661.0 1030.8 L1661.0 1030.9 L1658.0 1030.9 L1658.0 1032.3 L1655.0 1032.3 L1655.0 1033.4 L1652.0 1033.4 L1652.0 1032.6 L1649.0 1032.6 L1649.0 1033.3 L1646.0 1033.3 L1646.0 1031.6 L1643.0 1031.6 L1643.0 1031.2 L1640.0 1031.2 L1640.0 1029.7 L1637.0 1029.7 L1637.0 1029.8 L1634.0 1029.8 L1634.0 1031.2 L1631.0 1031.2 L1631.0 1028.4 L1628.0 1028.4 L1628.0 1029.6 L1625.0 1029.6 L1625.0 1028.4 L1622.0 1028.4 L1622.0 1032.8 L1619.0 1032.8 L1619.0 1026.9 L1616.0 1026.9 L1616.0 1029.9 L1613.0 1029.9 L1613.0 1032.2 L1610.0 1032.2 L1610.0 1027.0 L1607.0 1027.0 L1607.0 1026.0 L1604.0 1026.0 L1604.0 1026.5 L1601.0 1026.5 L1601.0 1029.6 L1598.0 1029.6 L1598.0 1028.0 L1595.0 1028.0 L1595.0 1030.2 L1592.0 1030.2 L1592.0 1034.6 L1589.0 1034.6 L1589.0 1034.7 L1586.0 1034.7 L1586.0 1033.7 L1583.0 1033.7 L1583.0 1029.9 L1580.0 1029.9 L1580.0 1035.9 L1577.0 1035.9 L1577.0 1034.0 L1574.0 1034.0 L1574.0 1025.5 L1571.0 1025.5 L1571.0 1027.0 L1568.0 1027.0 L1568.0 1028.3 L1565.0 1028.3 L1565.0 1025.4 L1562.0 1025.4 L1562.0 1012.6 L1559.0 1012.6 L1559.0 995.5 L1556.0 995.5 L1556.0 978.5 L1553.0 978.5 L1553.0 959.7 L1550.0 959.7 L1550.0 950.0 L1547.0 950.0 L1547.0 955.4 L1544.0 955.4 L1544.0 968.4 L1541.0 968.4 L1541.0 989.7 L1538.0 989.7 L1538.0 1008.5 L1535.0 1008.5 L1535.0 1017.3 L1532.0 1017.3 L1532.0 1015.5 L1529.0 1015.5 L1529.0 1020.8 L1526.0 1020.8 L1526.0 1023.9 L1523.0 1023.9 L1523.0 1026.4 L1520.0 1026.4 L1520.0 1027.9 L1517.0 1027.9 L1517.0 1025.1 L1514.0 1025.1 L1514.0 1025.0 L1511.0 1025.0 L1511.0 1023.4 L1508.0 1023.4 L1508.0 1025.6 L1505.0 1025.6 L1505.0 1025.1 L1502.0 1025.1 L1502.0 1025.6 L1499.0 1025.6 L1499.0 1027.4 L1496.0 1027.4 L1496.0 1026.1 L1493.0 1026.1 L1493.0 1023.3 L1490.0 1023.3 L1490.0 1023.5 L1487.0 1023.5 L1487.0 1020.4 L1484.0 1020.4 L1484.0 1023.3 L1481.0 1023.3 L1481.0 1025.9 L1478.0 1025.9 L1478.0 1024.1 L1475.0 1024.1 L1475.0 1021.3 L1472.0 1021.3 L1472.0 1027.8 L1469.0 1027.8 L1469.0 1026.4 L1466.0 1026.4 L1466.0 1025.1 L1463.0 1025.1 L1463.0 1026.5 L1460.0 1026.5 L1460.0 1026.9 L1457.0 1026.9 L1457.0 1028.7 L1454.0 1028.7 L1454.0 1026.8 L1451.0 1026.8 L1451.0 1025.0 L1448.0 1025.0 L1448.0 1028.5 L1445.0 1028.5 L1445.0 1027.9 L1442.0 1027.9 L1442.0 1027.7 L1439.0 1027.7 L1439.0 1030.5 L1436.0 1030.5 L1436.0 1024.4 L1433.0 1024.4 L1433.0 1024.8 L1430.0 1024.8 L1430.0 1030.4 L1427.0 1030.4 L1427.0 1027.9 L1424.0 1027.9 L1424.0 1024.4 L1421.0 1024.4 L1421.0 1024.3 L1418.0 1024.3 L1418.0 1021.0 L1415.0 1021.0 L1415.0 1021.9 L1412.0 1021.9 L1412.0 1020.5 L1409.0 1020.5 L1409.0 1016.7 L1406.0 1016.7 L1406.0 1016.2 L1403.0 1016.2 L1403.0 1013.3 L1400.0 1013.3 L1400.0 1012.4 L1397.0 1012.4 L1397.0 1012.0 L1394.0 1012.0 L1394.0 1002.9 L1391.0 1002.9 L1391.0 993.9 L1388.0 993.9 L1388.0 980.4 L1385.0 980.4 L1385.0 958.4 L1382.0 958.4 L1382.0 948.6 L1379.0 948.6 L1379.0 952.4 L1376.0 952.4 L1376.0 956.9 L1373.0 956.9 L1373.0 973.2 L1370.0 973.2 L1370.0 994.8 L1367.0 994.8 L1367.0 1006.1 L1364.0 1006.1 L1364.0 1015.2 L1361.0 1015.2 L1361.0 1013.9 L1358.0 1013.9 L1358.0 1014.5 L1355.0 1014.5 L1355.0 1014.5 L1352.0 1014.5 L1352.0 1012.1 L1349.0 1012.1 L1349.0 1015.0 L1346.0 1015.0 L1346.0 1014.4 L1343.0 1014.4 L1343.0 1016.7 L1340.0 1016.7 L1340.0 1014.6 L1337.0 1014.6 L1337.0 1017.8 L1334.0 1017.8 L1334.0 1015.8 L1331.0 1015.8 L1331.0 1016.9 L1328.0 1016.9 L1328.0 1016.2 L1325.0 1016.2 L1325.0 1021.4 L1322.0 1021.4 L1322.0 1023.6 L1319.0 1023.6 L1319.0 1022.5 L1316.0 1022.5 L1316.0 1016.5 L1313.0 1016.5 L1313.0 1015.3 L1310.0 1015.3 L1310.0 1015.9 L1307.0 1015.9 L1307.0 1016.2 L1304.0 1016.2 L1304.0 1017.5 L1301.0 1017.5 L1301.0 1018.6 L1298.0 1018.6 L1298.0 1021.9 L1295.0 1021.9 L1295.0 1019.7 L1292.0 1019.7 L1292.0 1016.8 L1289.0 1016.8 L1289.0 1016.2 L1286.0 1016.2 L1286.0 1011.8 L1283.0 1011.8 L1283.0 1019.7 L1280.0 1019.7 L1280.0 1016.4 L1277.0 1016.4 L1277.0 1007.5 L1274.0 1007.5 L1274.0 1007.7 L1271.0 1007.7 L1271.0 1010.9 L1268.0 1010.9 L1268.0 1002.2 L1265.0 1002.2 L1265.0 1000.9 L1262.0 1000.9 L1262.0 1003.3 L1259.0 1003.3 L1259.0 1004.0 L1256.0 1004.0 L1256.0 1005.5 L1253.0 1005.5 L1253.0 1007.5 L1250.0 1007.5 L1250.0 1010.1 L1247.0 1010.1 L1247.0 1012.0 L1244.0 1012.0 L1244.0 1010.3 L1241.0 1010.3 L1241.0 1009.5 L1238.0 1009.5 L1238.0 1011.8 L1235.0 1011.8 L1235.0 1013.0 L1232.0 1013.0 L1232.0 1009.3 L1229.0 1009.3 L1229.0 1010.4 L1226.0 1010.4 L1226.0 1009.3 L1223.0 1009.3 L1223.0 1008.5 L1220.0 1008.5 L1220.0 1011.4 L1217.0 1011.4 L1217.0 1010.3 L1214.0 1010.3 L1214.0 1010.6 L1211.0 1010.6 L1211.0 1018.4 L1208.0 1018.4 L1208.0 1013.4 L1205.0 1013.4 L1205.0 1013.4 L1202.0 1013.4 L1202.0 1014.2 L1199.0 1014.2 L1199.0 1015.1 L1196.0 1015.1 L1196.0 1012.0 L1193.0 1012.0 L1193.0 1013.6 L1190.0 1013.6 L1190.0 1015.1 L1187.0 1015.1 L1187.0 1012.3 L1184.0 1012.3 L1184.0 1011.9 L1181.0 1011.9 L1181.0 1011.9 L1178.0 1011.9 L1178.0 1014.9 L1175.0 1014.9 L1175.0 1017.7 L1172.0 1017.7 L1172.0 1014.4 L1169.0 1014.4 L1169.0 1016.8 L1166.0 1016.8 L1166.0 1017.6 L1163.0 1017.6 L1163.0 1010.4 L1160.0 1010.4 L1160.0 1010.6 L1157.0 1010.6 L1157.0 1004.6 L1154.0 1004.6 L1154.0 1001.7 L1151.0 1001.7 L1151.0 997.5 L1148.0 997.5 L1148.0 998.5 L1145.0 998.5 L1145.0 998.9 L1142.0 998.9 L1142.0 1002.3 L1139.0 1002.3 L1139.0 1002.4 L1136.0 1002.4 L1136.0 1002.7 L1133.0 1002.7 L1133.0 1002.9 L1130.0 1002.9 L1130.0 1003.9 L1127.0 1003.9 L1127.0 1005.0 L1124.0 1005.0 L1124.0 1007.8 L1121.0 1007.8 L1121.0 1005.7 L1118.0 1005.7 L1118.0 1009.9 L1115.0 1009.9 L1115.0 1010.1 L1112.0 1010.1 L1112.0 1007.1 L1109.0 1007.1 L1109.0 1009.2 L1106.0 1009.2 L1106.0 1009.2 L1103.0 1009.2 L1103.0 1010.9 L1100.0 1010.9 L1100.0 1018.1 L1097.0 1018.1 L1097.0 1018.6 L1094.0 1018.6 L1094.0 1008.3 L1091.0 1008.3 L1091.0 1011.3 L1088.0 1011.3 L1088.0 1010.5 L1085.0 1010.5 L1085.0 1008.4 L1082.0 1008.4 L1082.0 1008.4 L1079.0 1008.4 L1079.0 1012.1 L1076.0 1012.1 L1076.0 1009.9 L1073.0 1009.9 L1073.0 1012.1 L1070.0 1012.1 L1070.0 1012.7 L1067.0 1012.7 L1067.0 1011.8 L1064.0 1011.8 L1064.0 1011.7 L1061.0 1011.7 L1061.0 1003.9 L1058.0 1003.9 L1058.0 1004.5 L1055.0 1004.5 L1055.0 1006.4 L1052.0 1006.4 L1052.0 1007.5 L1049.0 1007.5 L1049.0 1007.3 L1046.0 1007.3 L1046.0 1007.0 L1043.0 1007.0 L1043.0 1007.0 L1040.0 1007.0 L1040.0 1006.0 L1037.0 1006.0 L1037.0 1005.6 L1034.0 1005.6 L1034.0 1005.0 L1031.0 1005.0 L1031.0 1005.0 L1028.0 1005.0 L1028.0 1009.6 L1025.0 1009.6 L1025.0 1011.8 L1022.0 1011.8 L1022.0 1004.1 L1019.0 1004.1 L1019.0 1006.1 L1016.0 1006.1 L1016.0 1004.5 L1013.0 1004.5 L1013.0 1009.8 L1010.0 1009.8 L1010.0 1001.8 L1007.0 1001.8 L1007.0 1000.5 L1004.0 1000.5 L1004.0 1002.5 L1001.0 1002.5 L1001.0 1001.0 L998.0 1001.0 L998.0 1000.7 L995.0 1000.7 L995.0 1001.0 L992.0 1001.0 L992.0 997.9 L989.0 997.9 L989.0 1000.7 L986.0 1000.7 L986.0 999.2 L983.0 999.2 L983.0 999.3 L980.0 999.3 L980.0 999.5 L977.0 999.5 L977.0 1003.7 L974.0 1003.7 L974.0 1003.1 L971.0 1003.1 L971.0 1002.3 L968.0 1002.3 L968.0 996.4 L965.0 996.4 L965.0 978.8 L962.0 978.8 L962.0 956.4 L959.0 956.4 L959.0 948.0 L956.0 948.0 L956.0 951.8 L953.0 951.8 L953.0 959.6 L950.0 959.6 L950.0 974.3 L947.0 974.3 L947.0 986.8 L944.0 986.8 L944.0 993.0 L941.0 993.0 L941.0 1000.6 L938.0 1000.6 L938.0 1003.3 L935.0 1003.3 L935.0 1003.7 L932.0 1003.7 L932.0 996.7 L929.0 996.7 L929.0 999.1 L926.0 999.1 L926.0 1000.9 L923.0 1000.9 L923.0 1000.7 L920.0 1000.7 L920.0 1004.4 L917.0 1004.4 L917.0 1003.2 L914.0 1003.2 L914.0 1000.0 L911.0 1000.0 L911.0 999.4 L908.0 999.4 L908.0 999.0 L905.0 999.0 L905.0 998.9 L902.0 998.9 L902.0 999.8 L899.0 999.8 L899.0 997.2 L896.0 997.2 L896.0 998.6 L893.0 998.6 L893.0 995.9 L890.0 995.9 L890.0 999.7 L887.0 999.7 L887.0 1000.5 L884.0 1000.5 L884.0 1002.4 L881.0 1002.4 L881.0 999.2 L878.0 999.2 L878.0 999.6 L875.0 999.6 L875.0 998.2 L872.0 998.2 L872.0 997.4 L869.0 997.4 L869.0 1002.6 L866.0 1002.6 L866.0 996.8 L863.0 996.8 L863.0 997.6 L860.0 997.6 L860.0 995.0 L857.0 995.0 L857.0 1004.4 L854.0 1004.4 L854.0 1006.2 L851.0 1006.2 L851.0 1007.2 L848.0 1007.2 L848.0 998.5 L845.0 998.5 L845.0 999.5 L842.0 999.5 L842.0 1001.6 L839.0 1001.6 L839.0 1001.3 L836.0 1001.3 L836.0 998.3 L833.0 998.3 L833.0 998.2 L830.0 998.2 L830.0 997.2 L827.0 997.2 L827.0 1004.2 L824.0 1004.2 L824.0 1000.3 L821.0 1000.3 L821.0 996.7 L818.0 996.7 L818.0 998.5 L815.0 998.5 L815.0 1004.6 L812.0 1004.6 L812.0 1005.7 L809.0 1005.7 L809.0 995.4 L806.0 995.4 L806.0 997.6 L803.0 997.6 L803.0 995.3 L800.0 995.3 L800.0 996.8 L797.0 996.8 L797.0 997.0 L794.0 997.0 L794.0 999.2 L791.0 999.2 L791.0 997.2 L788.0 997.2 L788.0 996.9 L785.0 996.9 L785.0 989.5 L782.0 989.5 L782.0 987.2 L779.0 987.2 L779.0 985.0 L776.0 985.0 L776.0 981.2 L773.0 981.2 L773.0 978.4 L770.0 978.4 L770.0 978.5 L767.0 978.5 L767.0 972.6 L764.0 972.6 L764.0 965.0 L761.0 965.0 L761.0 962.9 L758.0 962.9 L758.0 959.9 L755.0 959.9 L755.0 973.1 L752.0 973.1 L752.0 975.4 L749.0 975.4 L749.0 977.0 L746.0 977.0 L746.0 988.0 L743.0 988.0 L743.0 980.8 L740.0 980.8 L740.0 981.9 L737.0 981.9 L737.0 978.4 L734.0 978.4 L734.0 958.7 L731.0 958.7 L731.0 905.2 L728.0 905.2 L728.0 848.6 L725.0 848.6 L725.0 778.1 L722.0 778.1 L722.0 839.1 L719.0 839.1 L719.0 886.3 L716.0 886.3 L716.0 923.9 L713.0 923.9 L713.0 946.6 L710.0 946.6 L710.0 961.9 L707.0 961.9 L707.0 975.4 L704.0 975.4 L704.0 980.3 L701.0 980.3 L701.0 985.6 L698.0 985.6 L698.0 993.5 L695.0 993.5 L695.0 990.8 L692.0 990.8 L692.0 992.6 L689.0 992.6 L689.0 989.8 L686.0 989.8 L686.0 992.0 L683.0 992.0 L683.0 988.7 L680.0 988.7 L680.0 991.9 L677.0 991.9 L677.0 994.1 L674.0 994.1 L674.0 995.1 L671.0 995.1 L671.0 996.4 L668.0 996.4 L668.0 997.8 L665.0 997.8 L665.0 997.8 L662.0 997.8 L662.0 999.5 L659.0 999.5 L659.0 1001.8 L656.0 1001.8 L656.0 1000.9 L653.0 1000.9 L653.0 999.6 L650.0 999.6 L650.0 992.7 L647.0 992.7 L647.0 995.5 L644.0 995.5 L644.0 992.3 L641.0 992.3 L641.0 1001.8 L638.0 1001.8 L638.0 1001.0 L635.0 1001.0 L635.0 993.9 L632.0 993.9 L632.0 996.6 L629.0 996.6 L629.0 995.0 L626.0 995.0 L626.0 994.2 L623.0 994.2 L623.0 993.9 L620.0 993.9 L620.0 993.4 L617.0 993.4 L617.0 991.4 L614.0 991.4 L614.0 995.9 L611.0 995.9 L611.0 988.6 L608.0 988.6 L608.0 987.2 L605.0 987.2 L605.0 987.9 L602.0 987.9 L602.0 986.3 L599.0 986.3 L599.0 985.8 L596.0 985.8 L596.0 988.0 L593.0 988.0 L593.0 988.3 L590.0 988.3 L590.0 990.8 L587.0 990.8 L587.0 989.1 L584.0 989.1 L584.0 989.6 L581.0 989.6 L581.0 990.0 L578.0 990.0 L578.0 987.9 L575.0 987.9 L575.0 986.8 L572.0 986.8 L572.0 974.5 L569.0 974.5 L569.0 943.2 L566.0 943.2 L566.0 935.4 L563.0 935.4 L563.0 936.4 L560.0 936.4 L560.0 949.6 L557.0 949.6 L557.0 965.4 L554.0 965.4 L554.0 981.6 L551.0 981.6 L551.0 982.6 L548.0 982.6 L548.0 987.9 L545.0 987.9 L545.0 992.8 L542.0 992.8 L542.0 993.7 L539.0 993.7 L539.0 988.1 L536.0 988.1 L536.0 989.3 L533.0 989.3 L533.0 989.1 L530.0 989.1 L530.0 990.2 L527.0 990.2 L527.0 991.4 L524.0 991.4 L524.0 990.3 L521.0 990.3 L521.0 992.5 L518.0 992.5 L518.0 993.0 L515.0 993.0 L515.0 987.9 L512.0 987.9 L512.0 989.9 L509.0 989.9 L509.0 987.6 L506.0 987.6 L506.0 988.7 L503.0 988.7 L503.0 988.7 L500.0 988.7 L500.0 985.8 L497.0 985.8 L497.0 985.9 L494.0 985.9 L494.0 988.4 L491.0 988.4 L491.0 988.0 L488.0 988.0 L488.0 986.9 L485.0 986.9 L485.0 990.5 L482.0 990.5 L482.0 989.7 L479.0 989.7 L479.0 987.0 L476.0 987.0 L476.0 989.5 L473.0 989.5 L473.0 988.6 L470.0 988.6 L470.0 993.8 L467.0 993.8 L467.0 991.8 L464.0 991.8 L464.0 985.6 L461.0 985.6 L461.0 987.1 L458.0 987.1 L458.0 983.2 L455.0 983.2 L455.0 991.0 L452.0 991.0 L452.0 989.7 L449.0 989.7 L449.0 990.6 L446.0 990.6 L446.0 987.5 L443.0 987.5 L443.0 981.5 L440.0 981.5 L440.0 982.5 L437.0 982.5 L437.0 978.1 L434.0 978.1 L434.0 974.1 L431.0 974.1 L431.0 966.3 L428.0 966.3 L428.0 946.4 L425.0 946.4 L425.0 910.7 L422.0 910.7 L422.0 889.3 L419.0 889.3 L419.0 874.8 L416.0 874.8 L416.0 866.0 L413.0 866.0 L413.0 875.2 L410.0 875.2 L410.0 901.0 L407.0 901.0 L407.0 917.5 L404.0 917.5 L404.0 925.7 L401.0 925.7 L401.0 940.2 L398.0 940.2 L398.0 948.5 L395.0 948.5 L395.0 957.3 L392.0 957.3 L392.0 966.9 L389.0 966.9 L389.0 973.8 L386.0 973.8 L386.0 978.5 L383.0 978.5 L383.0 976.3 L380.0 976.3 L380.0 984.7 L377.0 984.7 L377.0 976.6 L374.0 976.6 L374.0 978.4 L371.0 978.4 L371.0 981.5 L368.0 981.5 L368.0 984.6 L365.0 984.6 L365.0 981.8 L362.0 981.8 L362.0 986.9 L359.0 986.9 L359.0 989.3 L356.0 989.3 L356.0 992.6 L353.0 992.6 L353.0 991.5 L350.0 991.5 L350.0 992.8 L347.0 992.8 L347.0 985.7 L344.0 985.7 L344.0 990.7 L341.0 990.7 L341.0 992.7 L338.0 992.7 L338.0 987.5 L335.0 987.5 L335.0 988.8 L332.0 988.8 L332.0 983.0 L329.0 983.0 L329.0 985.5 L326.0 985.5 L326.0 981.8 L323.0 981.8 L323.0 983.7 L320.0 983.7 L320.0 982.2 L317.0 982.2 L317.0 983.6 L314.0 983.6 L314.0 985.9 L311.0 985.9 L311.0 984.5 L308.0 984.5 L308.0 982.4 L305.0 982.4 L305.0 988.1 L302.0 988.1 L302.0 985.7 L299.0 985.7 L299.0 985.4 L296.0 985.4 L296.0 989.1 L293.0 989.1 L293.0 991.3 L290.0 991.3 L290.0 989.4 L287.0 989.4 L287.0 988.8 L284.0 988.8 L284.0 987.6 L281.0 987.6 L281.0 988.1 L278.0 988.1 L278.0 985.2 L275.0 985.2 L275.0 990.7 L272.0 990.7 L272.0 994.0 L269.0 994.0 L269.0 985.5 L266.0 985.5 L266.0 986.3 L263.0 986.3 L263.0 985.2 L260.0 985.2 L260.0 990.3 L257.0 990.3 L257.0 987.7 L254.0 987.7 L254.0 978.0 L251.0 978.0 L251.0 977.4 L248.0 977.4 L248.0 978.5 L245.0 978.5 L245.0 977.0 L242.0 977.0 L242.0 976.0 L239.0 976.0 L239.0 975.4 L236.0 975.4 L236.0 974.9 L234.5 974.9Z" fill="#00ff00" stroke="none"/>
<path d="M234.5 1299.4L235.0 1299.3L235.5 1299.2L236.0 1299.2L236.5 1299.1L237.0 1299.0L237.5 1299.0L238.0 1298.9L238.5 1298.8L239.0 1298.7L239.5 1298.7L240.0 1298.6L240.5 1298.5L241.0 1298.5L241.5 1298.4L242.0 1298.3L242.5 1298.3L243.0 1298.2L243.5 1298.1L244.0 1298.0L244.5 1298.0L245.0 1297.9L245.5 1297.8L246.0 1297.8L246.5 1297.7L247.0 1297.6L247.5 1297.6L248.0 1297.5L248.5 1297.4L249.0 1297.4L249.5 1297.3L250.0 1297.2L250.5 1297.2L251.0 1297.1L251.5 1297.1L252.0 1297.0L252.5 1296.9L253.0 1296.9L253.5 1296.8L254.0 1296.7L254.5 1296.7L255.0 1296.6L255.5 1296.5L256.0 1296.5L256.5 1296.4L257.0 1296.4L257.5 1296.3L258.0 1296.2L258.5 1296.2L259.0 1296.1L259.5 1296.1L260.0 1296.0L260.5 1295.9L261.0 1295.9L261.5 1295.8L262.0 1295.8L262.5 1295.7L263.0 1295.6L263.5 1295.6L264.0 1295.5L264.5 1295.5L265.0 1295.4L265.5 1295.4L266.0 1295.3L266.5 1295.2L267.0 1295.2L267.5 1295.1L268.0 1295.1L268.5 1295.0L269.0 1295.0L269.5 1294.9L270.0 1294.8L270.5 1294.8L271.0 1294.7L271.5 1294.7L272.0 1294.6L272.5 1294.6L273.0 1294.5L273.5 1294.5L274.0 1294.4L274.5 1294.3L275.0 1294.3L275.5 1294.2L276.0 1294.2L276.5 1294.1L277.0 1294.1L277.5 1294.0L278.0 1294.0L278.5 1293.9L279.0 1293.9L279.5 1293.8L280.0 1293.8L280.5 1293.7L281.0 1293.7L281.5 1293.6L282.0 1293.6L282.5 1293.5L283.0 1293.5L283.5 1293.4L284.0 1293.4L284.5 1293.3L285.0 1293.3L285.5 1293.2L286.0 1293.2L286.5 1293.1L287.0 1293.1L287.5 1293.0L288.0 1293.0L288.5 1292.9L289.0 1292.9L289.5 1292.8L290.0 1292.8L290.5 1292.8L291.0 1292.7L291.5 1292.7L292.0 1292.6L292.5 1292.6L293.0 1292.5L293.5 1292.5L294.0 1292.5L294.5 1292.4L295.0 1292.4L295.5 1292.3L296.0 1292.3L296.5 1292.3L297.0 1292.2L297.5 1292.2L298.0 1292.2L298.5 1292.1L299.0 1292.1L299.5 1292.1L300.0 1292.0L300.5 1292.0L301.0 1292.0L301.5 1291.9L302.0 1291.9L302.5 1291.8L303.0 1291.8L303.5 1291.8L304.0 1291.7L304.5 1291.7L305.0 1291.7L305.5 1291.6L306.0 1291.6L306.5 1291.6L307.0 1291.5L307.5 1291.5L308.0 1291.5L308.5 1291.4L309.0 1291.4L309.5 1291.4L310.0 1291.3L310.5 1291.3L311.0 1291.3L311.5 1291.2L312.0 1291.2L312.5 1291.1L313.0 1291.1L313.5 1291.1L314.0 1291.0L314.5 1291.0L315.0 1290.9L315.5 1290.9L316.0 1290.9L316.5 1290.8L317.0 1290.8L317.5 1290.7L318.0 1290.7L318.5 1290.6L319.0 1290.6L319.5 1290.5L320.0 1290.5L320.5 1290.5L321.0 1290.4L321.5 1290.4L322.0 1290.3L322.5 1290.3L323.0 1290.2L323.5 1290.2L324.0 1290.1L324.5 1290.1L325.0 1290.0L325.5 1290.0L326.0 1289.9L326.5 1289.8L327.0 1289.8L327.5 1289.7L328.0 1289.7L328.5 1289.6L329.0 1289.6L329.5 1289.5L330.0 1289.5L330.5 1289.4L331.0 1289.3L331.5 1289.3L332.0 1289.2L332.5 1289.1L333.0 1289.1L333.5 1289.0L334.0 1288.9L334.5 1288.9L335.0 1288.8L335.5 1288.7L336.0 1288.7L336.5 1288.6L337.0 1288.5L337.5 1288.4L338.0 1288.3L338.5 1288.3L339.0 1288.2L339.5 1288.1L340.0 1288.0L340.5 1287.9L341.0 1287.8L341.5 1287.7L342.0 1287.6L342.5 1287.5L343.0 1287.4L343.5 1287.3L344.0 1287.1L344.5 1287.0L345.0 1286.9L345.5 1286.7L346.0 1286.6L346.5 1286.4L347.0 1286.3L347.5 1286.1L348.0 1285.9L348.5 1285.7L349.0 1285.5L349.5 1285.3L350.0 1285.0L350.5 1284.8L351.0 1284.5L351.5 1284.2L352.0 1283.9L352.5 1283.6L353.0 1283.3L353.5 1283.0L354.0 1282.7L354.5 1282.4L355.0 1282.1L355.5 1281.8L356.0 1281.5L356.5 1281.2L357.0 1280.9L357.5 1280.6L358.0 1280.2L358.5 1279.9L359.0 1279.6L359.5 1279.3L360.0 1278.9L360.5 1278.6L361.0 1278.2L361.5 1277.9L362.0 1277.5L362.5 1277.2L363.0 1276.8L363.5 1276.5L364.0 1276.1L364.5 1275.7L365.0 1275.4L365.5 1275.0L366.0 1274.6L366.5 1274.2L367.0 1273.8L367.5 1273.4L368.0 1273.0L368.5 1272.5L369.0 1272.0L369.5 1271.5L370.0 1271.0L370.5 1270.5L371.0 1270.0L371.5 1269.4L372.0 1268.8L372.5 1268.2L373.0 1267.6L373.5 1266.9L374.0 1266.3L374.5 1265.6L375.0 1264.8L375.5 1264.1L376.0 1263.3L376.5 1262.4L377.0 1261.5L377.5 1260.6L378.0 1259.7L378.5 1258.7L379.0 1257.6L379.5 1256.5L380.0 1255.3L380.5 1254.0L381.0 1252.7L381.5 1251.2L382.0 1249.7L382.5 1248.1L383.0 1246.6L383.5 1245.1L384.0 1243.7L384.5 1242.2L385.0 1240.6L385.5 1238.8L386.0 1236.7L386.5 1234.2L387.0 1231.6L387.5 1229.0L388.0 1226.5L388.5 1224.0L389.0 1221.5L389.5 1219.0L390.0 1216.5L390.5 1214.0L391.0 1211.5L391.5 1209.1L392.0 1207.0L392.5 1205.1L393.0 1203.3L393.5 1201.3L394.0 1199.0L394.5 1196.1L395.0 1192.9L395.5 1189.6L396.0 1186.4L396.5 1183.6L397.0 1180.8L397.5 1177.7L398.0 1174.0L398.5 1168.7L399.0 1161.9L399.5 1154.9L400.0 1148.6L400.5 1142.7L401.0 1136.8L401.5 1131.3L402.0 1126.0L402.5 1121.2L403.0 1116.8L403.5 1112.6L404.0 1108.4L404.5 1104.0L405.0 1099.0L405.5 1093.7L406.0 1088.5L406.5 1084.0L407.0 1080.1L407.5 1076.5L408.0 1073.5L408.5 1071.1L409.0 1068.9L409.5 1067.2L410.0 1066.5L410.5 1067.0L411.0 1068.1L411.5 1069.5L412.0 1070.8L412.5 1072.3L413.0 1073.9L413.5 1075.6L414.0 1077.4L414.5 1079.1L415.0 1081.0L415.5 1083.4L416.0 1086.9L416.5 1091.9L417.0 1097.5L417.5 1103.0L418.0 1107.8L418.5 1112.4L419.0 1117.1L419.5 1121.9L420.0 1127.2L420.5 1132.7L421.0 1138.6L421.5 1144.6L422.0 1151.0L422.5 1157.8L423.0 1165.0L423.5 1172.5L424.0 1180.2L424.5 1188.3L425.0 1197.2L425.5 1206.7L426.0 1215.4L426.5 1222.9L427.0 1229.9L427.5 1236.3L428.0 1242.0L428.5 1246.9L429.0 1251.3L429.5 1255.3L430.0 1259.0L430.5 1262.3L431.0 1265.4L431.5 1268.4L432.0 1271.2L432.5 1273.9L433.0 1276.4L433.5 1278.5L434.0 1280.4L434.5 1281.9L435.0 1283.3L435.5 1284.6L436.0 1285.8L436.5 1286.9L437.0 1287.9L437.5 1288.7L438.0 1289.3L438.5 1289.8L439.0 1290.2L439.5 1290.7L440.0 1291.1L440.5 1291.4L441.0 1291.8L441.5 1292.1L442.0 1292.3L442.5 1292.6L443.0 1292.8L443.5 1293.0L444.0 1293.2L444.5 1293.4L445.0 1293.5L445.5 1293.6L446.0 1293.7L446.5 1293.8L447.0 1293.9L447.5 1294.0L448.0 1294.1L448.5 1294.2L449.0 1294.3L449.5 1294.3L450.0 1294.4L450.5 1294.5L451.0 1294.5L451.5 1294.6L452.0 1294.7L452.5 1294.7L453.0 1294.8L453.5 1294.8L454.0 1294.9L454.5 1294.9L455.0 1295.0L455.5 1295.0L456.0 1295.1L456.5 1295.1L457.0 1295.2L457.5 1295.2L458.0 1295.3L458.5 1295.3L459.0 1295.4L459.5 1295.4L460.0 1295.5L460.5 1295.6L461.0 1295.6L461.5 1295.7L462.0 1295.7L462.5 1295.8L463.0 1295.8L463.5 1295.9L464.0 1296.0L464.5 1296.0L465.0 1296.1L465.5 1296.1L466.0 1296.2L466.5 1296.2L467.0 1296.3L467.5 1296.3L468.0 1296.4L468.5 1296.4L469.0 1296.5L469.5 1296.5L470.0 1296.6L470.5 1296.6L471.0 1296.7L471.5 1296.7L472.0 1296.8L472.5 1296.8L473.0 1296.8L473.5 1296.9L474.0 1296.9L474.5 1297.0L475.0 1297.0L475.5 1297.0L476.0 1297.1L476.5 1297.1L477.0 1297.1L477.5 1297.2L478.0 1297.2L478.5 1297.2L479.0 1297.3L479.5 1297.3L480.0 1297.3L480.5 1297.4L481.0 1297.4L481.5 1297.4L482.0 1297.5L482.5 1297.5L483.0 1297.5L483.5 1297.6L484.0 1297.6L484.5 1297.6L485.0 1297.7L485.5 1297.7L486.0 1297.7L486.5 1297.8L487.0 1297.8L487.5 1297.8L488.0 1297.8L488.5 1297.9L489.0 1297.9L489.5 1297.9L490.0 1298.0L490.5 1298.0L491.0 1298.0L491.5 1298.0L492.0 1298.1L492.5 1298.1L493.0 1298.1L493.5 1298.1L494.0 1298.2L494.5 1298.2L495.0 1298.2L495.5 1298.2L496.0 1298.3L496.5 1298.3L497.0 1298.3L497.5 1298.3L498.0 1298.4L498.5 1298.4L499.0 1298.4L499.5 1298.4L500.0 1298.5L500.5 1298.5L501.0 1298.5L501.5 1298.5L502.0 1298.6L502.5 1298.6L503.0 1298.6L503.5 1298.6L504.0 1298.7L504.5 1298.7L505.0 1298.7L505.5 1298.7L506.0 1298.8L506.5 1298.8L507.0 1298.8L507.5 1298.8L508.0 1298.8L508.5 1298.9L509.0 1298.9L509.5 1298.9L510.0 1298.9L510.5 1299.0L511.0 1299.0L511.5 1299.0L512.0 1299.0L512.5 1299.1L513.0 1299.1L513.5 1299.1L514.0 1299.1L514.5 1299.1L515.0 1299.2L515.5 1299.2L516.0 1299.2L516.5 1299.2L517.0 1299.3L517.5 1299.3L518.0 1299.3L518.5 1299.3L519.0 1299.4L519.5 1299.4L520.0 1299.4L520.5 1299.4L521.0 1299.4L521.5 1299.5L522.0 1299.5L522.5 1299.5L523.0 1299.5L523.5 1299.6L524.0 1299.6L524.5 1299.6L525.0 1299.6L525.5 1299.7L526.0 1299.7L526.5 1299.7L527.0 1299.7L527.5 1299.7L528.0 1299.8L528.5 1299.8L529.0 1299.8L529.5 1299.8L530.0 1299.9L530.5 1299.9L531.0 1299.9L531.5 1299.9L532.0 1299.9L532.5 1300.0L533.0 1300.0L533.5 1300.0L534.0 1300.0L534.5 1300.0L535.0 1300.1L535.5 1300.1L536.0 1300.1L536.5 1300.1L537.0 1300.2L537.5 1300.2L538.0 1300.2L538.5 1300.2L539.0 1300.2L539.5 1300.3L540.0 1300.3L540.5 1300.3L541.0 1300.3L541.5 1300.3L542.0 1300.4L542.5 1300.4L543.0 1300.4L543.5 1300.4L544.0 1300.4L544.5 1300.5L545.0 1300.5L545.5 1300.5L546.0 1300.5L546.5 1300.5L547.0 1300.6L547.5 1300.6L548.0 1300.6L548.5 1300.6L549.0 1300.7L549.5 1300.7L550.0 1300.7L550.5 1300.7L551.0 1300.7L551.5 1300.8L552.0 1300.8L552.5 1300.8L553.0 1300.8L553.5 1300.8L554.0 1300.9L554.5 1300.9L555.0 1300.9L555.5 1300.9L556.0 1300.9L556.5 1301.0L557.0 1301.0L557.5 1301.0L558.0 1301.0L558.5 1301.0L559.0 1301.1L559.5 1301.1L560.0 1301.1L560.5 1301.1L561.0 1301.1L561.5 1301.2L562.0 1301.2L562.5 1301.2L563.0 1301.2L563.5 1301.2L564.0 1301.3L564.5 1301.3L565.0 1301.3L565.5 1301.3L566.0 1301.3L566.5 1301.4L567.0 1301.4L567.5 1301.4L568.0 1301.4L568.5 1301.4L569.0 1301.5L569.5 1301.5L570.0 1301.5L570.5 1301.5L571.0 1301.5L571.5 1301.6L572.0 1301.6L572.5 1301.6L573.0 1301.6L573.5 1301.6L574.0 1301.7L574.5 1301.7L575.0 1301.7L575.5 1301.7L576.0 1301.7L576.5 1301.8L577.0 1301.8L577.5 1301.8L578.0 1301.8L578.5 1301.8L579.0 1301.9L579.5 1301.9L580.0 1301.9L580.5 1301.9L581.0 1301.9L581.5 1302.0L582.0 1302.0L582.5 1302.0L583.0 1302.0L583.5 1302.0L584.0 1302.1L584.5 1302.1L585.0 1302.1L585.5 1302.1L586.0 1302.1L586.5 1302.2L587.0 1302.2L587.5 1302.2L588.0 1302.2L588.5 1302.2L589.0 1302.3L589.5 1302.3L590.0 1302.3L590.5 1302.3L591.0 1302.3L591.5 1302.4L592.0 1302.4L592.5 1302.4L593.0 1302.4L593.5 1302.4L594.0 1302.5L594.5 1302.5L595.0 1302.5L595.5 1302.5L596.0 1302.5L596.5 1302.6L597.0 1302.6L597.5 1302.6L598.0 1302.6L598.5 1302.6L599.0 1302.7L599.5 1302.7L600.0 1302.7L600.5 1302.7L601.0 1302.7L601.5 1302.8L602.0 1302.8L602.5 1302.8L603.0 1302.8L603.5 1302.8L604.0 1302.9L604.5 1302.9L605.0 1302.9L605.5 1302.9L606.0 1302.9L606.5 1303.0L607.0 1303.0L607.5 1303.0L608.0 1303.0L608.5 1303.0L609.0 1303.1L609.5 1303.1L610.0 1303.1L610.5 1303.1L611.0 1303.1L611.5 1303.2L612.0 1303.2L612.5 1303.2L613.0 1303.2L613.5 1303.2L614.0 1303.3L614.5 1303.3L615.0 1303.3L615.5 1303.3L616.0 1303.3L616.5 1303.4L617.0 1303.4L617.5 1303.4L618.0 1303.4L618.5 1303.4L619.0 1303.5L619.5 1303.5L620.0 1303.5L620.5 1303.5L621.0 1303.5L621.5 1303.6L622.0 1303.6L622.5 1303.6L623.0 1303.6L623.5 1303.7L624.0 1303.7L624.5 1303.7L625.0 1303.7L625.5 1303.7L626.0 1303.8L626.5 1303.8L627.0 1303.8L627.5 1303.8L628.0 1303.9L628.5 1303.9L629.0 1303.9L629.5 1303.9L630.0 1304.0L630.5 1304.0L631.0 1304.0L631.5 1304.0L632.0 1304.0L632.5 1304.1L633.0 1304.1L633.5 1304.1L634.0 1304.1L634.5 1304.2L635.0 1304.2L635.5 1304.2L636.0 1304.2L636.5 1304.3L637.0 1304.3L637.5 1304.3L638.0 1304.3L638.5 1304.4L639.0 1304.4L639.5 1304.4L640.0 1304.5L640.5 1304.5L641.0 1304.5L641.5 1304.5L642.0 1304.6L642.5 1304.6L643.0 1304.6L643.5 1304.6L644.0 1304.7L644.5 1304.7L645.0 1304.7L645.5 1304.7L646.0 1304.8L646.5 1304.8L647.0 1304.8L647.5 1304.8L648.0 1304.9L648.5 1304.9L649.0 1304.9L649.5 1305.0L650.0 1305.0L650.5 1305.0L651.0 1305.0L651.5 1305.1L652.0 1305.1L652.5 1305.1L653.0 1305.1L653.5 1305.2L654.0 1305.2L654.5 1305.2L655.0 1305.2L655.5 1305.3L656.0 1305.3L656.5 1305.3L657.0 1305.3L657.5 1305.4L658.0 1305.4L658.5 1305.4L659.0 1305.4L659.5 1305.5L660.0 1305.5L660.5 1305.5L661.0 1305.6L661.5 1305.6L662.0 1305.6L662.5 1305.6L663.0 1305.7L663.5 1305.7L664.0 1305.7L664.5 1305.7L665.0 1305.8L665.5 1305.8L666.0 1305.8L666.5 1305.8L667.0 1305.8L667.5 1305.9L668.0 1305.9L668.5 1305.9L669.0 1305.9L669.5 1306.0L670.0 1306.0L670.5 1306.0L671.0 1306.0L671.5 1306.1L672.0 1306.1L672.5 1306.1L673.0 1306.1L673.5 1306.1L674.0 1306.2L674.5 1306.2L675.0 1306.2L675.5 1306.2L676.0 1306.3L676.5 1306.3L677.0 1306.3L677.5 1306.3L678.0 1306.3L678.5 1306.4L679.0 1306.4L679.5 1306.4L680.0 1306.4L680.5 1306.4L681.0 1306.5L681.5 1306.5L682.0 1306.5L682.5 1306.5L683.0 1306.5L683.5 1306.6L684.0 1306.6L684.5 1306.6L685.0 1306.6L685.5 1306.6L686.0 1306.6L686.5 1306.7L687.0 1306.7L687.5 1306.7L688.0 1306.7L688.5 1306.7L689.0 1306.7L689.5 1306.8L690.0 1306.8L690.5 1306.8L691.0 1306.8L691.5 1306.8L692.0 1306.8L692.5 1306.8L693.0 1306.9L693.5 1306.9L694.0 1306.9L694.5 1306.9L695.0 1306.9L695.5 1306.9L696.0 1306.9L696.5 1306.9L697.0 1306.9L697.5 1307.0L698.0 1307.0L698.5 1307.0L699.0 1307.0L699.5 1307.0L700.0 1307.0L700.5 1307.0L701.0 1307.0L701.5 1307.0L702.0 1307.0L702.5 1307.0L703.0 1307.0L703.5 1307.1L704.0 1307.1L704.5 1307.1L705.0 1307.1L705.5 1307.1L706.0 1307.1L706.5 1307.1L707.0 1307.1L707.5 1307.1L708.0 1307.1L708.5 1307.1L709.0 1307.1L709.5 1307.1L710.0 1307.1L710.5 1307.2L711.0 1307.2L711.5 1307.2L712.0 1307.2L712.5 1307.2L713.0 1307.2L713.5 1307.2L714.0 1307.2L714.5 1307.2L715.0 1307.2L715.5 1307.2L716.0 1307.2L716.5 1307.2L717.0 1307.2L717.5 1307.2L718.0 1307.2L718.5 1307.3L719.0 1307.3L719.5 1307.3L720.0 1307.3L720.5 1307.3L721.0 1307.3L721.5 1307.3L722.0 1307.3L722.5 1307.3L723.0 1307.3L723.5 1307.3L724.0 1307.3L724.5 1307.3L725.0 1307.3L725.5 1307.3L726.0 1307.3L726.5 1307.3L727.0 1307.3L727.5 1307.3L728.0 1307.4L728.5 1307.4L729.0 1307.4L729.5 1307.4L730.0 1307.4L730.5 1307.4L731.0 1307.4L731.5 1307.4L732.0 1307.4L732.5 1307.4L733.0 1307.4L733.5 1307.4L734.0 1307.4L734.5 1307.4L735.0 1307.4L735.5 1307.4L736.0 1307.4L736.5 1307.4L737.0 1307.4L737.5 1307.4L738.0 1307.4L738.5 1307.4L739.0 1307.4L739.5 1307.4L740.0 1307.5L740.5 1307.5L741.0 1307.5L741.5 1307.5L742.0 1307.5L742.5 1307.5L743.0 1307.5L743.5 1307.5L744.0 1307.5L744.5 1307.5L745.0 1307.5L745.5 1307.5L746.0 1307.5L746.5 1307.5L747.0 1307.5L747.5 1307.5L748.0 1307.5L748.5 1307.5L749.0 1307.5L749.5 1307.5L750.0 1307.5L750.5 1307.5L751.0 1307.5L751.5 1307.5L752.0 1307.5L752.5 1307.5L753.0 1307.5L753.5 1307.6L754.0 1307.6L754.5 1307.6L755.0 1307.6L755.5 1307.6L756.0 1307.6L756.5 1307.6L757.0 1307.6L757.5 1307.6L758.0 1307.6L758.5 1307.6L759.0 1307.6L759.5 1307.6L760.0 1307.6L760.5 1307.6L761.0 1307.6L761.5 1307.6L762.0 1307.6L762.5 1307.6L763.0 1307.6L763.5 1307.6L764.0 1307.6L764.5 1307.6L765.0 1307.6L765.5 1307.6L766.0 1307.6L766.5 1307.6L767.0 1307.7L767.5 1307.7L768.0 1307.7L768.5 1307.7L769.0 1307.7L769.5 1307.7L770.0 1307.7L770.5 1307.7L771.0 1307.7L771.5 1307.7L772.0 1307.7L772.5 1307.7L773.0 1307.7L773.5 1307.7L774.0 1307.7L774.5 1307.7L775.0 1307.7L775.5 1307.7L776.0 1307.7L776.5 1307.7L777.0 1307.7L777.5 1307.7L778.0 1307.7L778.5 1307.7L779.0 1307.8L779.5 1307.8L780.0 1307.8L780.5 1307.8L781.0 1307.8L781.5 1307.8L782.0 1307.8L782.5 1307.8L783.0 1307.8L783.5 1307.8L784.0 1307.8L784.5 1307.8L785.0 1307.8L785.5 1307.8L786.0 1307.8L786.5 1307.8L787.0 1307.8L787.5 1307.8L788.0 1307.8L788.5 1307.9L789.0 1307.9L789.5 1307.9L790.0 1307.9L790.5 1307.9L791.0 1307.9L791.5 1307.9L792.0 1307.9L792.5 1307.9L793.0 1307.9L793.5 1307.9L794.0 1307.9L794.5 1307.9L795.0 1307.9L795.5 1307.9L796.0 1307.9L796.5 1308.0L797.0 1308.0L797.5 1308.0L798.0 1308.0L798.5 1308.0L799.0 1308.0L799.5 1308.0L800.0 1308.0L800.5 1308.0L801.0 1308.0L801.5 1308.0L802.0 1308.0L802.5 1308.0L803.0 1308.0L803.5 1308.1L804.0 1308.1L804.5 1308.1L805.0 1308.1L805.5 1308.1L806.0 1308.1L806.5 1308.1L807.0 1308.1L807.5 1308.1L808.0 1308.2L808.5 1308.2L809.0 1308.2L809.5 1308.2L810.0 1308.2L810.5 1308.2L811.0 1308.2L811.5 1308.2L812.0 1308.3L812.5 1308.3L813.0 1308.3L813.5 1308.3L814.0 1308.3L814.5 1308.3L815.0 1308.3L815.5 1308.4L816.0 1308.4L816.5 1308.4L817.0 1308.4L817.5 1308.4L818.0 1308.4L818.5 1308.4L819.0 1308.5L819.5 1308.5L820.0 1308.5L820.5 1308.5L821.0 1308.5L821.5 1308.5L822.0 1308.6L822.5 1308.6L823.0 1308.6L823.5 1308.6L824.0 1308.6L824.5 1308.6L825.0 1308.6L825.5 1308.7L826.0 1308.7L826.5 1308.7L827.0 1308.7L827.5 1308.7L828.0 1308.7L828.5 1308.8L829.0 1308.8L829.5 1308.8L830.0 1308.8L830.5 1308.8L831.0 1308.8L831.5 1308.9L832.0 1308.9L832.5 1308.9L833.0 1308.9L833.5 1308.9L834.0 1308.9L834.5 1308.9L835.0 1309.0L835.5 1309.0L836.0 1309.0L836.5 1309.0L837.0 1309.0L837.5 1309.0L838.0 1309.0L838.5 1309.1L839.0 1309.1L839.5 1309.1L840.0 1309.1L840.5 1309.1L841.0 1309.1L841.5 1309.1L842.0 1309.2L842.5 1309.2L843.0 1309.2L843.5 1309.2L844.0 1309.2L844.5 1309.2L845.0 1309.2L845.5 1309.2L846.0 1309.2L846.5 1309.3L847.0 1309.3L847.5 1309.3L848.0 1309.3L848.5 1309.3L849.0 1309.3L849.5 1309.3L850.0 1309.3L850.5 1309.3L851.0 1309.3L851.5 1309.3L852.0 1309.3L852.5 1309.4L853.0 1309.4L853.5 1309.4L854.0 1309.4L854.5 1309.4L855.0 1309.4L855.5 1309.4L856.0 1309.4L856.5 1309.4L857.0 1309.4L857.5 1309.4L858.0 1309.4L858.5 1309.4L859.0 1309.4L859.5 1309.4L860.0 1309.4L860.5 1309.4L861.0 1309.4L861.5 1309.3L862.0 1309.3L862.5 1309.2L863.0 1309.1L863.5 1309.0L864.0 1308.9L864.5 1308.8L865.0 1308.6L865.5 1308.5L866.0 1308.4L866.5 1308.2L867.0 1308.0L867.5 1307.8L868.0 1307.7L868.5 1307.5L869.0 1307.3L869.5 1307.1L870.0 1306.9L870.5 1306.7L871.0 1306.4L871.5 1306.2L872.0 1306.0L872.5 1305.8L873.0 1305.6L873.5 1305.4L874.0 1305.2L874.5 1304.9L875.0 1304.7L875.5 1304.5L876.0 1304.3L876.5 1304.1L877.0 1304.0L877.5 1303.8L878.0 1303.6L878.5 1303.4L879.0 1303.3L879.5 1303.1L880.0 1303.0L880.5 1302.9L881.0 1302.7L881.5 1302.6L882.0 1302.4L882.5 1302.3L883.0 1302.2L883.5 1302.0L884.0 1301.9L884.5 1301.7L885.0 1301.6L885.5 1301.4L886.0 1301.3L886.5 1301.1L887.0 1301.0L887.5 1300.8L888.0 1300.7L888.5 1300.5L889.0 1300.4L889.5 1300.2L890.0 1300.1L890.5 1300.0L891.0 1299.8L891.5 1299.7L892.0 1299.6L892.5 1299.5L893.0 1299.3L893.5 1299.2L894.0 1299.1L894.5 1299.0L895.0 1299.0L895.5 1298.9L896.0 1298.8L896.5 1298.7L897.0 1298.7L897.5 1298.6L898.0 1298.6L898.5 1298.5L899.0 1298.5L899.5 1298.5L900.0 1298.5L900.5 1298.5L901.0 1298.5L901.5 1298.5L902.0 1298.5L902.5 1298.5L903.0 1298.5L903.5 1298.5L904.0 1298.6L904.5 1298.6L905.0 1298.6L905.5 1298.6L906.0 1298.6L906.5 1298.6L907.0 1298.7L907.5 1298.7L908.0 1298.7L908.5 1298.7L909.0 1298.7L909.5 1298.8L910.0 1298.8L910.5 1298.8L911.0 1298.9L911.5 1298.9L912.0 1298.9L912.5 1298.9L913.0 1299.0L913.5 1299.0L914.0 1299.0L914.5 1299.1L915.0 1299.1L915.5 1299.1L916.0 1299.2L916.5 1299.2L917.0 1299.3L917.5 1299.3L918.0 1299.3L918.5 1299.4L919.0 1299.4L919.5 1299.5L920.0 1299.5L920.5 1299.5L921.0 1299.6L921.5 1299.6L922.0 1299.7L922.5 1299.7L923.0 1299.7L923.5 1299.8L924.0 1299.8L924.5 1299.9L925.0 1299.9L925.5 1299.9L926.0 1300.0L926.5 1300.0L927.0 1300.1L927.5 1300.1L928.0 1300.1L928.5 1300.2L929.0 1300.2L929.5 1300.3L930.0 1300.3L930.5 1300.3L931.0 1300.4L931.5 1300.4L932.0 1300.5L932.5 1300.5L933.0 1300.5L933.5 1300.6L934.0 1300.6L934.5 1300.7L935.0 1300.7L935.5 1300.8L936.0 1300.8L936.5 1300.9L937.0 1300.9L937.5 1301.0L938.0 1301.0L938.5 1301.1L939.0 1301.1L939.5 1301.2L940.0 1301.3L940.5 1301.3L941.0 1301.4L941.5 1301.4L942.0 1301.5L942.5 1301.5L943.0 1301.6L943.5 1301.7L944.0 1301.7L944.5 1301.8L945.0 1301.8L945.5 1301.9L946.0 1302.0L946.5 1302.0L947.0 1302.1L947.5 1302.1L948.0 1302.2L948.5 1302.3L949.0 1302.3L949.5 1302.4L950.0 1302.4L950.5 1302.5L951.0 1302.6L951.5 1302.6L952.0 1302.7L952.5 1302.8L953.0 1302.8L953.5 1302.9L954.0 1302.9L954.5 1303.0L955.0 1303.1L955.5 1303.1L956.0 1303.2L956.5 1303.2L957.0 1303.3L957.5 1303.4L958.0 1303.4L958.5 1303.5L959.0 1303.5L959.5 1303.6L960.0 1303.7L960.5 1303.7L961.0 1303.8L961.5 1303.8L962.0 1303.9L962.5 1303.9L963.0 1304.0L963.5 1304.1L964.0 1304.1L964.5 1304.2L965.0 1304.2L965.5 1304.3L966.0 1304.3L966.5 1304.4L967.0 1304.4L967.5 1304.5L968.0 1304.5L968.5 1304.6L969.0 1304.6L969.5 1304.7L970.0 1304.7L970.5 1304.7L971.0 1304.8L971.5 1304.8L972.0 1304.9L972.5 1304.9L973.0 1305.0L973.5 1305.0L974.0 1305.1L974.5 1305.1L975.0 1305.1L975.5 1305.2L976.0 1305.2L976.5 1305.3L977.0 1305.3L977.5 1305.4L978.0 1305.4L978.5 1305.5L979.0 1305.5L979.5 1305.6L980.0 1305.6L980.5 1305.6L981.0 1305.7L981.5 1305.7L982.0 1305.8L982.5 1305.8L983.0 1305.9L983.5 1305.9L984.0 1306.0L984.5 1306.0L985.0 1306.0L985.5 1306.1L986.0 1306.1L986.5 1306.2L987.0 1306.2L987.5 1306.3L988.0 1306.3L988.5 1306.4L989.0 1306.4L989.5 1306.4L990.0 1306.5L990.5 1306.5L991.0 1306.6L991.5 1306.6L992.0 1306.7L992.5 1306.7L993.0 1306.7L993.5 1306.8L994.0 1306.8L994.5 1306.9L995.0 1306.9L995.5 1306.9L996.0 1307.0L996.5 1307.0L997.0 1307.1L997.5 1307.1L998.0 1307.1L998.5 1307.2L999.0 1307.2L999.5 1307.2L1000.0 1307.3L1000.5 1307.3L1001.0 1307.4L1001.5 1307.4L1002.0 1307.4L1002.5 1307.5L1003.0 1307.5L1003.5 1307.5L1004.0 1307.6L1004.5 1307.6L1005.0 1307.6L1005.5 1307.7L1006.0 1307.7L1006.5 1307.7L1007.0 1307.7L1007.5 1307.8L1008.0 1307.8L1008.5 1307.8L1009.0 1307.9L1009.5 1307.9L1010.0 1307.9L1010.5 1307.9L1011.0 1308.0L1011.5 1308.0L1012.0 1308.0L1012.5 1308.0L1013.0 1308.1L1013.5 1308.1L1014.0 1308.1L1014.5 1308.1L1015.0 1308.1L1015.5 1308.2L1016.0 1308.2L1016.5 1308.2L1017.0 1308.2L1017.5 1308.2L1018.0 1308.2L1018.5 1308.3L1019.0 1308.3L1019.5 1308.3L1020.0 1308.3L1020.5 1308.3L1021.0 1308.3L1021.5 1308.3L1022.0 1308.3L1022.5 1308.4L1023.0 1308.4L1023.5 1308.4L1024.0 1308.4L1024.5 1308.4L1025.0 1308.4L1025.5 1308.4L1026.0 1308.4L1026.5 1308.5L1027.0 1308.5L1027.5 1308.5L1028.0 1308.5L1028.5 1308.5L1029.0 1308.5L1029.5 1308.5L1030.0 1308.5L1030.5 1308.5L1031.0 1308.6L1031.5 1308.6L1032.0 1308.6L1032.5 1308.6L1033.0 1308.6L1033.5 1308.6L1034.0 1308.6L1034.5 1308.6L1035.0 1308.6L1035.5 1308.7L1036.0 1308.7L1036.5 1308.7L1037.0 1308.7L1037.5 1308.7L1038.0 1308.7L1038.5 1308.7L1039.0 1308.7L1039.5 1308.7L1040.0 1308.7L1040.5 1308.8L1041.0 1308.8L1041.5 1308.8L1042.0 1308.8L1042.5 1308.8L1043.0 1308.8L1043.5 1308.8L1044.0 1308.8L1044.5 1308.8L1045.0 1308.8L1045.5 1308.9L1046.0 1308.9L1046.5 1308.9L1047.0 1308.9L1047.5 1308.9L1048.0 1308.9L1048.5 1308.9L1049.0 1308.9L1049.5 1308.9L1050.0 1308.9L1050.5 1308.9L1051.0 1309.0L1051.5 1309.0L1052.0 1309.0L1052.5 1309.0L1053.0 1309.0L1053.5 1309.0L1054.0 1309.0L1054.5 1309.0L1055.0 1309.0L1055.5 1309.0L1056.0 1309.0L1056.5 1309.0L1057.0 1309.0L1057.5 1309.1L1058.0 1309.1L1058.5 1309.1L1059.0 1309.1L1059.5 1309.1L1060.0 1309.1L1060.5 1309.1L1061.0 1309.1L1061.5 1309.1L1062.0 1309.1L1062.5 1309.1L1063.0 1309.1L1063.5 1309.1L1064.0 1309.1L1064.5 1309.2L1065.0 1309.2L1065.5 1309.2L1066.0 1309.2L1066.5 1309.2L1067.0 1309.2L1067.5 1309.2L1068.0 1309.2L1068.5 1309.2L1069.0 1309.2L1069.5 1309.2L1070.0 1309.2L1070.5 1309.2L1071.0 1309.2L1071.5 1309.2L1072.0 1309.2L1072.5 1309.3L1073.0 1309.3L1073.5 1309.3L1074.0 1309.3L1074.5 1309.3L1075.0 1309.3L1075.5 1309.3L1076.0 1309.3L1076.5 1309.3L1077.0 1309.3L1077.5 1309.3L1078.0 1309.3L1078.5 1309.3L1079.0 1309.3L1079.5 1309.3L1080.0 1309.3L1080.5 1309.3L1081.0 1309.3L1081.5 1309.3L1082.0 1309.3L1082.5 1309.3L1083.0 1309.3L1083.5 1309.3L1084.0 1309.3L1084.5 1309.4L1085.0 1309.4L1085.5 1309.4L1086.0 1309.4L1086.5 1309.4L1087.0 1309.4L1087.5 1309.4L1088.0 1309.4L1088.5 1309.4L1089.0 1309.4L1089.5 1309.4L1090.0 1309.4L1090.5 1309.4L1091.0 1309.4L1091.5 1309.4L1092.0 1309.4L1092.5 1309.4L1093.0 1309.4L1093.5 1309.4L1094.0 1309.4L1094.5 1309.4L1095.0 1309.4L1095.5 1309.4L1096.0 1309.4L1096.5 1309.4L1097.0 1309.4L1097.5 1309.4L1098.0 1309.4L1098.5 1309.4L1099.0 1309.4L1099.5 1309.4L1100.0 1309.4L1100.5 1309.4L1101.0 1309.4L1101.5 1309.4L1102.0 1309.4L1102.5 1309.4L1103.0 1309.4L1103.5 1309.4L1104.0 1309.4L1104.5 1309.4L1105.0 1309.4L1105.5 1309.4L1106.0 1309.4L1106.5 1309.4L1107.0 1309.4L1107.5 1309.4L1108.0 1309.4L1108.5 1309.4L1109.0 1309.4L1109.5 1309.4L1110.0 1309.4L1110.5 1309.4L1111.0 1309.4L1111.5 1309.4L1112.0 1309.4L1112.5 1309.4L1113.0 1309.4L1113.5 1309.4L1114.0 1309.4L1114.5 1309.4L1115.0 1309.4L1115.5 1309.4L1116.0 1309.4L1116.5 1309.4L1117.0 1309.4L1117.5 1309.4L1118.0 1309.4L1118.5 1309.4L1119.0 1309.4L1119.5 1309.4L1120.0 1309.4L1120.5 1309.4L1121.0 1309.4L1121.5 1309.4L1122.0 1309.4L1122.5 1309.4L1123.0 1309.4L1123.5 1309.4L1124.0 1309.4L1124.5 1309.4L1125.0 1309.4L1125.5 1309.4L1126.0 1309.4L1126.5 1309.4L1127.0 1309.4L1127.5 1309.4L1128.0 1309.4L1128.5 1309.4L1129.0 1309.4L1129.5 1309.4L1130.0 1309.4L1130.5 1309.4L1131.0 1309.4L1131.5 1309.4L1132.0 1309.4L1132.5 1309.4L1133.0 1309.4L1133.5 1309.4L1134.0 1309.4L1134.5 1309.4L1135.0 1309.4L1135.5 1309.4L1136.0 1309.4L1136.5 1309.4L1137.0 1309.4L1137.5 1309.4L1138.0 1309.4L1138.5 1309.4L1139.0 1309.4L1139.5 1309.4L1140.0 1309.4L1140.5 1309.4L1141.0 1309.4L1141.5 1309.4L1142.0 1309.4L1142.5 1309.4L1143.0 1309.4L1143.5 1309.4L1144.0 1309.4L1144.5 1309.4L1145.0 1309.4L1145.5 1309.4L1146.0 1309.4L1146.5 1309.4L1147.0 1309.4L1147.5 1309.4L1148.0 1309.4L1148.5 1309.4L1149.0 1309.4L1149.5 1309.4L1150.0 1309.4L1150.5 1309.4L1151.0 1309.4L1151.5 1309.4L1152.0 1309.4L1152.5 1309.4L1153.0 1309.4L1153.5 1309.4L1154.0 1309.4L1154.5 1309.4L1155.0 1309.4L1155.5 1309.4L1156.0 1309.4L1156.5 1309.4L1157.0 1309.4L1157.5 1309.4L1158.0 1309.4L1158.5 1309.4L1159.0 1309.4L1159.5 1309.4L1160.0 1309.4L1160.5 1309.4L1161.0 1309.4L1161.5 1309.4L1162.0 1309.4L1162.5 1309.4L1163.0 1309.4L1163.5 1309.4L1164.0 1309.4L1164.5 1309.4L1165.0 1309.4L1165.5 1309.4L1166.0 1309.4L1166.5 1309.4L1167.0 1309.4L1167.5 1309.4L1168.0 1309.4L1168.5 1309.4L1169.0 1309.4L1169.5 1309.4L1170.0 1309.4L1170.5 1309.4L1171.0 1309.4L1171.5 1309.4L1172.0 1309.4L1172.5 1309.4L1173.0 1309.4L1173.5 1309.4L1174.0 1309.4L1174.5 1309.4L1175.0 1309.4L1175.5 1309.4L1176.0 1309.4L1176.5 1309.4L1177.0 1309.4L1177.5 1309.4L1178.0 1309.4L1178.5 1309.4L1179.0 1309.4L1179.5 1309.4L1180.0 1309.4L1180.5 1309.4L1181.0 1309.4L1181.5 1309.4L1182.0 1309.4L1182.5 1309.3L1183.0 1309.3L1183.5 1309.3L1184.0 1309.3L1184.5 1309.2L1185.0 1309.2L1185.5 1309.2L1186.0 1309.1L1186.5 1309.1L1187.0 1309.0L1187.5 1309.0L1188.0 1308.9L1188.5 1308.9L1189.0 1308.8L1189.5 1308.7L1190.0 1308.7L1190.5 1308.6L1191.0 1308.5L1191.5 1308.5L1192.0 1308.4L1192.5 1308.3L1193.0 1308.2L1193.5 1308.2L1194.0 1308.1L1194.5 1308.0L1195.0 1307.9L1195.5 1307.8L1196.0 1307.7L1196.5 1307.7L1197.0 1307.6L1197.5 1307.5L1198.0 1307.4L1198.5 1307.3L1199.0 1307.2L1199.5 1307.1L1200.0 1307.0L1200.5 1307.0L1201.0 1306.9L1201.5 1306.8L1202.0 1306.7L1202.5 1306.6L1203.0 1306.5L1203.5 1306.4L1204.0 1306.4L1204.5 1306.3L1205.0 1306.2L1205.5 1306.1L1206.0 1306.0L1206.5 1305.9L1207.0 1305.9L1207.5 1305.8L1208.0 1305.7L1208.5 1305.6L1209.0 1305.6L1209.5 1305.5L1210.0 1305.4L1210.5 1305.4L1211.0 1305.3L1211.5 1305.2L1212.0 1305.2L1212.5 1305.1L1213.0 1305.1L1213.5 1305.0L1214.0 1305.0L1214.5 1304.9L1215.0 1304.9L1215.5 1304.9L1216.0 1304.8L1216.5 1304.8L1217.0 1304.8L1217.5 1304.8L1218.0 1304.7L1218.5 1304.7L1219.0 1304.7L1219.5 1304.7L1220.0 1304.7L1220.5 1304.7L1221.0 1304.7L1221.5 1304.7L1222.0 1304.7L1222.5 1304.8L1223.0 1304.8L1223.5 1304.8L1224.0 1304.8L1224.5 1304.9L1225.0 1304.9L1225.5 1305.0L1226.0 1305.0L1226.5 1305.1L1227.0 1305.1L1227.5 1305.2L1228.0 1305.3L1228.5 1305.3L1229.0 1305.4L1229.5 1305.5L1230.0 1305.5L1230.5 1305.6L1231.0 1305.7L1231.5 1305.8L1232.0 1305.8L1232.5 1305.9L1233.0 1306.0L1233.5 1306.1L1234.0 1306.2L1234.5 1306.3L1235.0 1306.4L1235.5 1306.5L1236.0 1306.6L1236.5 1306.7L1237.0 1306.8L1237.5 1306.9L1238.0 1307.0L1238.5 1307.1L1239.0 1307.2L1239.5 1307.3L1240.0 1307.3L1240.5 1307.4L1241.0 1307.5L1241.5 1307.6L1242.0 1307.7L1242.5 1307.8L1243.0 1307.9L1243.5 1308.0L1244.0 1308.1L1244.5 1308.2L1245.0 1308.3L1245.5 1308.4L1246.0 1308.5L1246.5 1308.6L1247.0 1308.7L1247.5 1308.8L1248.0 1308.9L1248.5 1308.9L1249.0 1309.0L1249.5 1309.1L1250.0 1309.2L1250.5 1309.2L1251.0 1309.3L1251.5 1309.4L1252.0 1309.4L1252.5 1309.5L1253.0 1309.6L1253.5 1309.6L1254.0 1309.7L1254.5 1309.7L1255.0 1309.8L1255.5 1309.8L1256.0 1309.9L1256.5 1309.9L1257.0 1309.9L1257.5 1309.9L1258.0 1310.0L1258.5 1310.0L1259.0 1310.0L1259.5 1310.0L1260.0 1310.0L1260.5 1310.0L1261.0 1310.0L1261.5 1310.0L1262.0 1310.0L1262.5 1310.0L1263.0 1310.0L1263.5 1310.0L1264.0 1310.0L1264.5 1310.0L1265.0 1310.0L1265.5 1310.0L1266.0 1310.0L1266.5 1310.0L1267.0 1310.0L1267.5 1310.0L1268.0 1310.0L1268.5 1310.0L1269.0 1310.0L1269.5 1310.0L1270.0 1310.0L1270.5 1310.0L1271.0 1310.0L1271.5 1310.0L1272.0 1310.0L1272.5 1310.0L1273.0 1310.0L1273.5 1310.0L1274.0 1310.0L1274.5 1310.0L1275.0 1310.0L1275.5 1310.0L1276.0 1310.0L1276.5 1310.0L1277.0 1310.0L1277.5 1310.0L1278.0 1310.0L1278.5 1310.0L1279.0 1310.0L1279.5 1310.0L1280.0 1310.0L1280.5 1310.0L1281.0 1310.0L1281.5 1310.0L1282.0 1310.0L1282.5 1310.0L1283.0 1310.0L1283.5 1310.0L1284.0 1310.0L1284.5 1310.0L1285.0 1310.0L1285.5 1310.0L1286.0 1310.0L1286.5 1310.0L1287.0 1310.0L1287.5 1310.0L1288.0 1310.0L1288.5 1310.0L1289.0 1310.0L1289.5 1310.0L1290.0 1310.0L1290.5 1310.0L1291.0 1310.0L1291.5 1310.0L1292.0 1310.0L1292.5 1310.0L1293.0 1310.0L1293.5 1310.0L1294.0 1310.0L1294.5 1310.0L1295.0 1310.0L1295.5 1310.0L1296.0 1310.0L1296.5 1310.0L1297.0 1310.0L1297.5 1310.0L1298.0 1310.0L1298.5 1310.0L1299.0 1310.0L1299.5 1310.0L1300.0 1310.0L1300.5 1310.0L1301.0 1310.0L1301.5 1310.0L1302.0 1310.0L1302.5 1310.0L1303.0 1310.0L1303.5 1310.0L1304.0 1310.0L1304.5 1310.0L1305.0 1310.0L1305.5 1310.0L1306.0 1310.0L1306.5 1310.0L1307.0 1310.0L1307.5 1310.0L1308.0 1310.0L1308.5 1310.0L1309.0 1310.0L1309.5 1310.0L1310.0 1310.0L1310.5 1310.0L1311.0 1310.0L1311.5 1310.0L1312.0 1310.0L1312.5 1310.0L1313.0 1310.0L1313.5 1310.0L1314.0 1310.0L1314.5 1310.0L1315.0 1310.0L1315.5 1310.0L1316.0 1310.0L1316.5 1310.0L1317.0 1310.0L1317.5 1310.0L1318.0 1310.0L1318.5 1310.0L1319.0 1310.0L1319.5 1310.0L1320.0 1310.0L1320.5 1310.0L1321.0 1310.1L1321.5 1310.1L1322.0 1310.1L1322.5 1310.1L1323.0 1310.1L1323.5 1310.1L1324.0 1310.1L1324.5 1310.1L1325.0 1310.1L1325.5 1310.1L1326.0 1310.1L1326.5 1310.1L1327.0 1310.1L1327.5 1310.1L1328.0 1310.1L1328.5 1310.1L1329.0 1310.1L1329.5 1310.1L1330.0 1310.1L1330.5 1310.1L1331.0 1310.1L1331.5 1310.1L1332.0 1310.1L1332.5 1310.1L1333.0 1310.1L1333.5 1310.1L1334.0 1310.1L1334.5 1310.1L1335.0 1310.1L1335.5 1310.1L1336.0 1310.1L1336.5 1310.1L1337.0 1310.2L1337.5 1310.2L1338.0 1310.2L1338.5 1310.2L1339.0 1310.2L1339.5 1310.2L1340.0 1310.2L1340.5 1310.2L1341.0 1310.2L1341.5 1310.2L1342.0 1310.2L1342.5 1310.2L1343.0 1310.2L1343.5 1310.2L1344.0 1310.2L1344.5 1310.2L1345.0 1310.2L1345.5 1310.2L1346.0 1310.2L1346.5 1310.2L1347.0 1310.2L1347.5 1310.2L1348.0 1310.2L1348.5 1310.2L1349.0 1310.3L1349.5 1310.3L1350.0 1310.3L1350.5 1310.3L1351.0 1310.3L1351.5 1310.3L1352.0 1310.3L1352.5 1310.3L1353.0 1310.3L1353.5 1310.3L1354.0 1310.3L1354.5 1310.3L1355.0 1310.3L1355.5 1310.3L1356.0 1310.3L1356.5 1310.3L1357.0 1310.3L1357.5 1310.3L1358.0 1310.3L1358.5 1310.4L1359.0 1310.4L1359.5 1310.4L1360.0 1310.4L1360.5 1310.4L1361.0 1310.4L1361.5 1310.4L1362.0 1310.4L1362.5 1310.4L1363.0 1310.4L1363.5 1310.4L1364.0 1310.4L1364.5 1310.4L1365.0 1310.4L1365.5 1310.4L1366.0 1310.4L1366.5 1310.4L1367.0 1310.4L1367.5 1310.5L1368.0 1310.5L1368.5 1310.5L1369.0 1310.5L1369.5 1310.5L1370.0 1310.5L1370.5 1310.5L1371.0 1310.5L1371.5 1310.5L1372.0 1310.5L1372.5 1310.5L1373.0 1310.5L1373.5 1310.5L1374.0 1310.5L1374.5 1310.5L1375.0 1310.5L1375.5 1310.5L1376.0 1310.6L1376.5 1310.6L1377.0 1310.6L1377.5 1310.6L1378.0 1310.6L1378.5 1310.6L1379.0 1310.6L1379.5 1310.6L1380.0 1310.6L1380.5 1310.6L1381.0 1310.6L1381.5 1310.6L1382.0 1310.6L1382.5 1310.6L1383.0 1310.6L1383.5 1310.6L1384.0 1310.7L1384.5 1310.7L1385.0 1310.7L1385.5 1310.7L1386.0 1310.7L1386.5 1310.7L1387.0 1310.7L1387.5 1310.7L1388.0 1310.7L1388.5 1310.7L1389.0 1310.7L1389.5 1310.7L1390.0 1310.7L1390.5 1310.7L1391.0 1310.7L1391.5 1310.8L1392.0 1310.8L1392.5 1310.8L1393.0 1310.8L1393.5 1310.8L1394.0 1310.8L1394.5 1310.8L1395.0 1310.8L1395.5 1310.8L1396.0 1310.8L1396.5 1310.8L1397.0 1310.8L1397.5 1310.8L1398.0 1310.8L1398.5 1310.8L1399.0 1310.9L1399.5 1310.9L1400.0 1310.9L1400.5 1310.9L1401.0 1310.9L1401.5 1310.9L1402.0 1310.9L1402.5 1310.9L1403.0 1310.9L1403.5 1310.9L1404.0 1310.9L1404.5 1310.9L1405.0 1310.9L1405.5 1310.9L1406.0 1311.0L1406.5 1311.0L1407.0 1311.0L1407.5 1311.0L1408.0 1311.0L1408.5 1311.0L1409.0 1311.0L1409.5 1311.0L1410.0 1311.0L1410.5 1311.0L1411.0 1311.0L1411.5 1311.0L1412.0 1311.0L1412.5 1311.0L1413.0 1311.0L1413.5 1311.1L1414.0 1311.1L1414.5 1311.1L1415.0 1311.1L1415.5 1311.1L1416.0 1311.1L1416.5 1311.1L1417.0 1311.1L1417.5 1311.1L1418.0 1311.1L1418.5 1311.1L1419.0 1311.1L1419.5 1311.1L1420.0 1311.1L1420.5 1311.2L1421.0 1311.2L1421.5 1311.2L1422.0 1311.2L1422.5 1311.2L1423.0 1311.2L1423.5 1311.2L1424.0 1311.2L1424.5 1311.2L1425.0 1311.2L1425.5 1311.2L1426.0 1311.2L1426.5 1311.2L1427.0 1311.2L1427.5 1311.2L1428.0 1311.3L1428.5 1311.3L1429.0 1311.3L1429.5 1311.3L1430.0 1311.3L1430.5 1311.3L1431.0 1311.3L1431.5 1311.3L1432.0 1311.3L1432.5 1311.3L1433.0 1311.3L1433.5 1311.3L1434.0 1311.3L1434.5 1311.3L1435.0 1311.4L1435.5 1311.4L1436.0 1311.4L1436.5 1311.4L1437.0 1311.4L1437.5 1311.4L1438.0 1311.4L1438.5 1311.4L1439.0 1311.4L1439.5 1311.4L1440.0 1311.4L1440.5 1311.4L1441.0 1311.4L1441.5 1311.4L1442.0 1311.4L1442.5 1311.4L1443.0 1311.5L1443.5 1311.5L1444.0 1311.5L1444.5 1311.5L1445.0 1311.5L1445.5 1311.5L1446.0 1311.5L1446.5 1311.5L1447.0 1311.5L1447.5 1311.5L1448.0 1311.5L1448.5 1311.5L1449.0 1311.5L1449.5 1311.5L1450.0 1311.5L1450.5 1311.5L1451.0 1311.6L1451.5 1311.6L1452.0 1311.6L1452.5 1311.6L1453.0 1311.6L1453.5 1311.6L1454.0 1311.6L1454.5 1311.6L1455.0 1311.6L1455.5 1311.6L1456.0 1311.6L1456.5 1311.6L1457.0 1311.6L1457.5 1311.6L1458.0 1311.6L1458.5 1311.6L1459.0 1311.6L1459.5 1311.7L1460.0 1311.7L1460.5 1311.7L1461.0 1311.7L1461.5 1311.7L1462.0 1311.7L1462.5 1311.7L1463.0 1311.7L1463.5 1311.7L1464.0 1311.7L1464.5 1311.7L1465.0 1311.7L1465.5 1311.7L1466.0 1311.7L1466.5 1311.7L1467.0 1311.7L1467.5 1311.7L1468.0 1311.7L1468.5 1311.8L1469.0 1311.8L1469.5 1311.8L1470.0 1311.8L1470.5 1311.8L1471.0 1311.8L1471.5 1311.8L1472.0 1311.8L1472.5 1311.8L1473.0 1311.8L1473.5 1311.8L1474.0 1311.8L1474.5 1311.8L1475.0 1311.8L1475.5 1311.8L1476.0 1311.8L1476.5 1311.8L1477.0 1311.8L1477.5 1311.8L1478.0 1311.8L1478.5 1311.8L1479.0 1311.9L1479.5 1311.9L1480.0 1311.9L1480.5 1311.9L1481.0 1311.9L1481.5 1311.9L1482.0 1311.9L1482.5 1311.9L1483.0 1311.9L1483.5 1311.9L1484.0 1311.9L1484.5 1311.9L1485.0 1311.9L1485.5 1311.9L1486.0 1311.9L1486.5 1311.9L1487.0 1311.9L1487.5 1311.9L1488.0 1311.9L1488.5 1311.9L1489.0 1311.9L1489.5 1311.9L1490.0 1311.9L1490.5 1311.9L1491.0 1311.9L1491.5 1311.9L1492.0 1312.0L1492.5 1312.0L1493.0 1312.0L1493.5 1312.0L1494.0 1312.0L1494.5 1312.0L1495.0 1312.0L1495.5 1312.0L1496.0 1312.0L1496.5 1312.0L1497.0 1312.0L1497.5 1312.0L1498.0 1312.0L1498.5 1312.0L1499.0 1312.0L1499.5 1312.0L1500.0 1312.0L1500.5 1312.0L1501.0 1312.0L1501.5 1312.0L1502.0 1312.0L1502.5 1312.0L1503.0 1312.0L1503.5 1312.0L1504.0 1312.0L1504.5 1312.0L1505.0 1312.0L1505.5 1312.0L1506.0 1312.0L1506.5 1312.0L1507.0 1312.0L1507.5 1312.0L1508.0 1312.0L1508.5 1312.0L1509.0 1312.0L1509.5 1312.0L1510.0 1312.0L1510.5 1312.1L1511.0 1312.1L1511.5 1312.1L1512.0 1312.1L1512.5 1312.1L1513.0 1312.1L1513.5 1312.1L1514.0 1312.1L1514.5 1312.1L1515.0 1312.1L1515.5 1312.1L1516.0 1312.1L1516.5 1312.1L1517.0 1312.1L1517.5 1312.1L1518.0 1312.1L1518.5 1312.1L1519.0 1312.1L1519.5 1312.1L1520.0 1312.1L1520.5 1312.1L1521.0 1312.1L1521.5 1312.1L1522.0 1312.1L1522.5 1312.1L1523.0 1312.1L1523.5 1312.1L1524.0 1312.1L1524.5 1312.1L1525.0 1312.1L1525.5 1312.1L1526.0 1312.1L1526.5 1312.1L1527.0 1312.1L1527.5 1312.1L1528.0 1312.1L1528.5 1312.1L1529.0 1312.1L1529.5 1312.1L1530.0 1312.1L1530.5 1312.1L1531.0 1312.1L1531.5 1312.1L1532.0 1312.1L1532.5 1312.1L1533.0 1312.1L1533.5 1312.1L1534.0 1312.1L1534.5 1312.2L1535.0 1312.2L1535.5 1312.2L1536.0 1312.2L1536.5 1312.2L1537.0 1312.2L1537.5 1312.2L1538.0 1312.2L1538.5 1312.2L1539.0 1312.2L1539.5 1312.2L1540.0 1312.2L1540.5 1312.2L1541.0 1312.2L1541.5 1312.2L1542.0 1312.2L1542.5 1312.2L1543.0 1312.2L1543.5 1312.2L1544.0 1312.2L1544.5 1312.2L1545.0 1312.2L1545.5 1312.2L1546.0 1312.2L1546.5 1312.2L1547.0 1312.2L1547.5 1312.2L1548.0 1312.2L1548.5 1312.2L1549.0 1312.2L1549.5 1312.2L1550.0 1312.2L1550.5 1312.2L1551.0 1312.2L1551.5 1312.2L1552.0 1312.2L1552.5 1312.2L1553.0 1312.2L1553.5 1312.2L1554.0 1312.2L1554.5 1312.2L1555.0 1312.2L1555.5 1312.2L1556.0 1312.2L1556.5 1312.2L1557.0 1312.2L1557.5 1312.2L1558.0 1312.2L1558.5 1312.2L1559.0 1312.2L1559.5 1312.2L1560.0 1312.2L1560.5 1312.2L1561.0 1312.2L1561.5 1312.2L1562.0 1312.2L1562.5 1312.2L1563.0 1312.2L1563.5 1312.2L1564.0 1312.2L1564.5 1312.2L1565.0 1312.2L1565.5 1312.3L1566.0 1312.3L1566.5 1312.3L1567.0 1312.3L1567.5 1312.3L1568.0 1312.3L1568.5 1312.3L1569.0 1312.3L1569.5 1312.3L1570.0 1312.3L1570.5 1312.3L1571.0 1312.3L1571.5 1312.3L1572.0 1312.3L1572.5 1312.3L1573.0 1312.3L1573.5 1312.3L1574.0 1312.3L1574.5 1312.3L1575.0 1312.3L1575.5 1312.3L1576.0 1312.3L1576.5 1312.3L1577.0 1312.3L1577.5 1312.3L1578.0 1312.3L1578.5 1312.3L1579.0 1312.3L1579.5 1312.3L1580.0 1312.3L1580.5 1312.3L1581.0 1312.3L1581.5 1312.3L1582.0 1312.3L1582.5 1312.3L1583.0 1312.3L1583.5 1312.3L1584.0 1312.3L1584.5 1312.3L1585.0 1312.3L1585.5 1312.3L1586.0 1312.3L1586.5 1312.3L1587.0 1312.3L1587.5 1312.3L1588.0 1312.3L1588.5 1312.3L1589.0 1312.3L1589.5 1312.3L1590.0 1312.3L1590.5 1312.3L1591.0 1312.3L1591.5 1312.3L1592.0 1312.3L1592.5 1312.3L1593.0 1312.3L1593.5 1312.3L1594.0 1312.3L1594.5 1312.3L1595.0 1312.3L1595.5 1312.3L1596.0 1312.3L1596.5 1312.3L1597.0 1312.3L1597.5 1312.3L1598.0 1312.3L1598.5 1312.3L1599.0 1312.3L1599.5 1312.3L1600.0 1312.3L1600.5 1312.3L1601.0 1312.3L1601.5 1312.3L1602.0 1312.3L1602.5 1312.3L1603.0 1312.4L1603.5 1312.4L1604.0 1312.4L1604.5 1312.4L1605.0 1312.4L1605.5 1312.4L1606.0 1312.4L1606.5 1312.4L1607.0 1312.4L1607.5 1312.4L1608.0 1312.4L1608.5 1312.4L1609.0 1312.4L1609.5 1312.4L1610.0 1312.4L1610.5 1312.4L1611.0 1312.4L1611.5 1312.4L1612.0 1312.4L1612.5 1312.4L1613.0 1312.4L1613.5 1312.4L1614.0 1312.4L1614.5 1312.4L1615.0 1312.4L1615.5 1312.4L1616.0 1312.4L1616.5 1312.4L1617.0 1312.4L1617.5 1312.4L1618.0 1312.4L1618.5 1312.4L1619.0 1312.4L1619.5 1312.4L1620.0 1312.4L1620.5 1312.4L1621.0 1312.4L1621.5 1312.4L1622.0 1312.4L1622.5 1312.4L1623.0 1312.4L1623.5 1312.4L1624.0 1312.4L1624.5 1312.4L1625.0 1312.4L1625.5 1312.4L1626.0 1312.4L1626.5 1312.4L1627.0 1312.4L1627.5 1312.4L1628.0 1312.4L1628.5 1312.4L1629.0 1312.4L1629.5 1312.4L1630.0 1312.4L1630.5 1312.4L1631.0 1312.4L1631.5 1312.4L1632.0 1312.4L1632.5 1312.4L1633.0 1312.4L1633.5 1312.4L1634.0 1312.4L1634.5 1312.4L1635.0 1312.4L1635.5 1312.4L1636.0 1312.4L1636.5 1312.4L1637.0 1312.4L1637.5 1312.4L1638.0 1312.4L1638.5 1312.4L1639.0 1312.5L1639.5 1312.5L1640.0 1312.5L1640.5 1312.5L1641.0 1312.5L1641.5 1312.5L1642.0 1312.5L1642.5 1312.5L1643.0 1312.5L1643.5 1312.5L1644.0 1312.5L1644.5 1312.5L1645.0 1312.5L1645.5 1312.5L1646.0 1312.5L1646.5 1312.5L1647.0 1312.5L1647.5 1312.5L1648.0 1312.5L1648.5 1312.5L1649.0 1312.5L1649.5 1312.5L1650.0 1312.5L1650.5 1312.5L1651.0 1312.5L1651.5 1312.5L1652.0 1312.5L1652.5 1312.5L1653.0 1312.5L1653.5 1312.5L1654.0 1312.5L1654.5 1312.5L1655.0 1312.5L1655.5 1312.5L1656.0 1312.5L1656.5 1312.5L1657.0 1312.5L1657.5 1312.5L1658.0 1312.5L1658.5 1312.5L1659.0 1312.5L1659.5 1312.5L1660.0 1312.5L1660.5 1312.5L1661.0 1312.5L1661.5 1312.5L1662.0 1312.5L1662.5 1312.5L1663.0 1312.5L1663.5 1312.5L1664.0 1312.5L1664.5 1312.5L1665.0 1312.5L1665.5 1312.5L1666.0 1312.5L1666.5 1312.5L1667.0 1312.5L1667.5 1312.5L1668.0 1312.6L1668.5 1312.6L1669.0 1312.6L1669.5 1312.6L1670.0 1312.6L1670.5 1312.6L1671.0 1312.6L1671.5 1312.6L1672.0 1312.6L1672.5 1312.6L1673.0 1312.6L1673.5 1312.6L1674.0 1312.6L1674.5 1312.6L1675.0 1312.6L1675.5 1312.6L1676.0 1312.6L1676.5 1312.6L1677.0 1312.6L1677.5 1312.6L1678.0 1312.6L1678.5 1312.6L1679.0 1312.6L1679.5 1312.6L1680.0 1312.6L1680.5 1312.6L1681.0 1312.6L1681.5 1312.6L1682.0 1312.6L1682.5 1312.6L1683.0 1312.6L1683.5 1312.6L1684.0 1312.6L1684.5 1312.6L1685.0 1312.6L1685.5 1312.6L1686.0 1312.6L1686.5 1312.6L1687.0 1312.6L1687.5 1312.6L1688.0 1312.6L1688.5 1312.6L1689.0 1312.6L1689.5 1312.6L1690.0 1312.6L1690.5 1312.7L1691.0 1312.7L1691.5 1312.7L1692.0 1312.7L1692.5 1312.7L1693.0 1312.7L1693.5 1312.7L1694.0 1312.7L1694.5 1312.7L1695.0 1312.7L1695.5 1312.7L1696.0 1312.7L1696.5 1312.7L1697.0 1312.7L1697.5 1312.7L1698.0 1312.7L1698.5 1312.7L1699.0 1312.7L1699.5 1312.7L1700.0 1312.7L1700.5 1312.7L1701.0 1312.7L1701.5 1312.7L1702.0 1312.7L1702.5 1312.7L1703.0 1312.7L1703.5 1312.7L1704.0 1312.7L1704.5 1312.7L1705.0 1312.7L1705.5 1312.7L1706.0 1312.7L1706.5 1312.7L1707.0 1312.7L1707.5 1312.7L1708.0 1312.8L1708.5 1312.8L1709.0 1312.8L1709.5 1312.8L1710.0 1312.8L1710.5 1312.8L1711.0 1312.8L1711.5 1312.8L1712.0 1312.8L1712.5 1312.8L1713.0 1312.8L1713.5 1312.8L1714.0 1312.8L1714.5 1312.8L1715.0 1312.8L1715.5 1312.8L1716.0 1312.8L1716.5 1312.8L1717.0 1312.8L1717.5 1312.8L1718.0 1312.8L1718.5 1312.8L1719.0 1312.8L1719.5 1312.9L1720.0 1312.9L1720.5 1312.9L1721.0 1312.9L1721.5 1312.9L1722.0 1312.9L1722.5 1312.9L1723.0 1312.9L1723.5 1312.9L1724.0 1312.9L1724.5 1312.9L1725.0 1312.9L1725.5 1312.9L1726.0 1312.9L1726.5 1312.9L1727.0 1312.9L1727.5 1312.9L1728.0 1312.9L1728.5 1313.0L1729.0 1313.0L1729.5 1313.0L1730.0 1313.0L1730.5 1313.0L1731.0 1313.0L1731.5 1313.0L1732.0 1313.0L1732.5 1313.0L1733.0 1313.0L1733.5 1313.0L1734.0 1313.0L1734.5 1313.0L1735.0 1313.0L1735.5 1313.0L1736.0 1313.0L1736.5 1313.1L1737.0 1313.1L1737.5 1313.1L1738.0 1313.1L1738.5 1313.1L1739.0 1313.1L1739.5 1313.1L1740.0 1313.1L1740.5 1313.1L1741.0 1313.1L1741.5 1313.1L1742.0 1313.1L1742.5 1313.1L1743.0 1313.1L1743.5 1313.1L1744.0 1313.2L1744.5 1313.2L1745.0 1313.2L1745.5 1313.2L1746.0 1313.2L1746.5 1313.2L1747.0 1313.2L1747.5 1313.2L1748.0 1313.2L1748.5 1313.2L1749.0 1313.2L1749.5 1313.2L1750.0 1313.2L1750.5 1313.2L1751.0 1313.3L1751.5 1313.3L1752.0 1313.3L1752.5 1313.3L1753.0 1313.3L1753.5 1313.3L1754.0 1313.3L1754.5 1313.3L1755.0 1313.3L1755.5 1313.3L1756.0 1313.3L1756.5 1313.3L1757.0 1313.3L1757.5 1313.4L1758.0 1313.4L1758.5 1313.4L1759.0 1313.4L1759.5 1313.4L1760.0 1313.4L1760.5 1313.4L1761.0 1313.4L1761.5 1313.4L1762.0 1313.4L1762.5 1313.4L1763.0 1313.4L1763.5 1313.5L1764.0 1313.5L1764.5 1313.5L1765.0 1313.5L1765.5 1313.5L1766.0 1313.5L1766.5 1313.5L1767.0 1313.5L1767.5 1313.5L1768.0 1313.5L1768.5 1313.5L1769.0 1313.5L1769.5 1313.6L1770.0 1313.6L1770.5 1313.6L1771.0 1313.6L1771.5 1313.6L1772.0 1313.6L1772.5 1313.6L1773.0 1313.6L1773.5 1313.6L1774.0 1313.6L1774.5 1313.6L1775.0 1313.6L1775.5 1313.7L1776.0 1313.7L1776.5 1313.7L1777.0 1313.7L1777.5 1313.7L1778.0 1313.7L1778.5 1313.7L1779.0 1313.7L1779.5 1313.7L1780.0 1313.7L1780.5 1313.7L1781.0 1313.7L1781.5 1313.8L1782.0 1313.8L1782.5 1313.8L1783.0 1313.8L1783.5 1313.8L1784.0 1313.8L1784.5 1313.8L1785.0 1313.8L1785.5 1313.8L1786.0 1313.8L1786.5 1313.8L1787.0 1313.8L1787.5 1313.9L1788.0 1313.9L1788.5 1313.9L1789.0 1313.9L1789.5 1313.9L1790.0 1313.9L1790.5 1313.9L1791.0 1313.9L1791.5 1313.9L1792.0 1313.9L1792.5 1313.9L1793.0 1313.9L1793.5 1314.0L1794.0 1314.0L1794.5 1314.0L1795.0 1314.0L1795.5 1314.0L1796.0 1314.0L1796.5 1314.0L1797.0 1314.0L1797.5 1314.0L1798.0 1314.0L1798.5 1314.0L1799.0 1314.0L1799.5 1314.1L1800.0 1314.1L1800.5 1314.1L1801.0 1314.1L1801.5 1314.1L1802.0 1314.1L1802.5 1314.1L1803.0 1314.1L1803.5 1314.1L1804.0 1314.1L1804.5 1314.1L1805.0 1314.1L1805.5 1314.2L1806.0 1314.2L1806.5 1314.2L1807.0 1314.2L1807.5 1314.2L1808.0 1314.2L1808.5 1314.2L1809.0 1314.2L1809.5 1314.2L1810.0 1314.2L1810.5 1314.2L1811.0 1314.2L1811.5 1314.3L1812.0 1314.3L1812.5 1314.3L1813.0 1314.3L1813.5 1314.3L1814.0 1314.3L1814.5 1314.3L1815.0 1314.3L1815.5 1314.3L1816.0 1314.3L1816.5 1314.3L1817.0 1314.3L1817.5 1314.3L1818.0 1314.4L1818.5 1314.4L1819.0 1314.4L1819.5 1314.4L1820.0 1314.4L1820.5 1314.4L1821.0 1314.4L1821.5 1314.4L1822.0 1314.4L1822.5 1314.4L1823.0 1314.4L1823.5 1314.4L1824.0 1314.4L1824.5 1314.4L1825.0 1314.5L1825.5 1314.5L1826.0 1314.5L1826.5 1314.5L1827.0 1314.5L1827.5 1314.5L1828.0 1314.5L1828.5 1314.5L1829.0 1314.5L1829.5 1314.5L1830.0 1314.5L1830.5 1314.5L1831.0 1314.5L1831.5 1314.5L1832.0 1314.6L1832.5 1314.6L1833.0 1314.6L1833.5 1314.6L1834.0 1314.6L1834.5 1314.6L1835.0 1314.6L1835.5 1314.6L1836.0 1314.6L1836.5 1314.6L1837.0 1314.6L1837.5 1314.6L1838.0 1314.6L1838.5 1314.6L1839.0 1314.6L1839.5 1314.7L1840.0 1314.7L1840.5 1314.7L1841.0 1314.7L1841.5 1314.7L1842.0 1314.7L1842.5 1314.7L1843.0 1314.7L1843.5 1314.7L1844.0 1314.7L1844.5 1314.7L1845.0 1314.7L1845.5 1314.7L1846.0 1314.7L1846.5 1314.7L1847.0 1314.7L1847.5 1314.7L1848.0 1314.8L1848.5 1314.8L1849.0 1314.8L1849.5 1314.8L1850.0 1314.8L1850.5 1314.8L1851.0 1314.8L1851.5 1314.8L1852.0 1314.8L1852.5 1314.8L1853.0 1314.8L1853.5 1314.8L1854.0 1314.8L1854.5 1314.8L1855.0 1314.8L1855.5 1314.8L1856.0 1314.8L1856.5 1314.8L1857.0 1314.8L1857.5 1314.8L1858.0 1314.9L1858.5 1314.9L1859.0 1314.9L1859.5 1314.9L1860.0 1314.9L1860.5 1314.9L1861.0 1314.9L1861.5 1314.9L1862.0 1314.9L1862.5 1314.9L1863.0 1314.9L1863.5 1314.9L1864.0 1314.9L1864.5 1314.9L1865.0 1314.9L1865.5 1314.9L1866.0 1314.9L1866.5 1314.9L1867.0 1314.9L1867.5 1314.9L1868.0 1314.9L1868.5 1314.9L1869.0 1314.9L1869.5 1314.9L1870.0 1314.9L1870.5 1314.9L1871.0 1314.9L1871.5 1314.9L1872.0 1315.0L1872.5 1315.0L1873.0 1315.0L1873.5 1315.0L1874.0 1315.0L1874.5 1315.0L1875.0 1315.0L1875.5 1315.0L1876.0 1315.0L1876.5 1315.0L1877.0 1315.0L1877.5 1315.0L1878.0 1315.0L1878.5 1315.0L1879.0 1315.0L1879.5 1315.0L1880.0 1315.0L1880.5 1315.0L1881.0 1315.0L1881.5 1315.0L1882.0 1315.0L1882.5 1315.0L1883.0 1315.0L1883.5 1315.0L1884.0 1315.0L1884.5 1315.0L1885.0 1315.0L1885.5 1315.0L1886.0 1315.0L1886.5 1315.0L1887.0 1315.0L1887.5 1315.0L1888.0 1315.0L1888.5 1315.0L1889.0 1315.0L1889.5 1315.0L1890.0 1315.0L1890.5 1315.0L1891.0 1314.9L1891.5 1314.9L1892.0 1314.8L1892.5 1314.7L1893.0 1314.6L1893.5 1314.4L1894.0 1314.3L1894.5 1314.1L1895.0 1313.9L1895.5 1313.7L1896.0 1313.5L1896.5 1313.3L1897.0 1313.0L1897.5 1312.8L1898.0 1312.5L1898.5 1312.3L1899.0 1312.0L1899.5 1311.8L1900.0 1311.5L1900.5 1311.2L1901.0 1311.0L1901.5 1310.7L1902.0 1310.5L1902.5 1310.2L1903.0 1310.0L1903.5 1309.7L1904.0 1309.5L1904.5 1309.3L1905.0 1309.1L1905.5 1308.9L1906.0 1308.7L1906.5 1308.6L1907.0 1308.4L1907.5 1308.3L1908.0 1308.2L1908.5 1308.1L1909.0 1308.1L1909.5 1308.0L1910.0 1308.0L1910.5 1308.0L1911.0 1308.0L1911.5 1308.0L1912.0 1308.1L1912.5 1308.1L1913.0 1308.1L1913.5 1308.2L1914.0 1308.2L1914.5 1308.3L1915.0 1308.3L1915.5 1308.4L1916.0 1308.5L1916.5 1308.6L1917.0 1308.6L1917.5 1308.7L1918.0 1308.8L1918.5 1308.9L1919.0 1309.0L1919.5 1309.1L1920.0 1309.2L1920.5 1309.3L1921.0 1309.4L1921.5 1309.5L1922.0 1309.7L1922.5 1309.8L1923.0 1309.9L1923.5 1310.0L1924.0 1310.1L1924.5 1310.2L1925.0 1310.4L1925.5 1310.5L1926.0 1310.6L1926.5 1310.7L1927.0 1310.8L1927.5 1310.9L1928.0 1311.0L1928.5 1311.2L1929.0 1311.3L1929.5 1311.4L1930.0 1311.5L1930.5 1311.6L1931.0 1311.7L1931.5 1311.8L1932.0 1311.9L1932.5 1312.0L1933.0 1312.1L1933.5 1312.1L1934.0 1312.2L1934.5 1312.3L1935.0 1312.4L1935.5 1312.4L1936.0 1312.5L1936.5 1312.5L1937.0 1312.6L1937.5 1312.6L1938.0 1312.6L1938.5 1312.7L1939.0 1312.7L1939.5 1312.7L1940.0 1312.7L1940.5 1312.7L1941.0 1312.7L1941.5 1312.7L1942.0 1312.7L1942.5 1312.7L1943.0 1312.7L1943.5 1312.7L1944.0 1312.7L1944.5 1312.7L1945.0 1312.7L1945.5 1312.7L1946.0 1312.7L1946.5 1312.7L1947.0 1312.7L1947.5 1312.7L1948.0 1312.7L1948.5 1312.7L1949.0 1312.7L1949.5 1312.7L1950.0 1312.7L1950.5 1312.7L1951.0 1312.7L1951.5 1312.7L1952.0 1312.7L1952.5 1312.7L1953.0 1312.7L1953.5 1312.7L1954.0 1312.7L1954.5 1312.7L1955.0 1312.7L1955.5 1312.7L1956.0 1312.7L1956.5 1312.7L1957.0 1312.7L1957.5 1312.7L1958.0 1312.7L1958.5 1312.7L1959.0 1312.7L1959.5 1312.7L1960.0 1312.7L1960.5 1312.7L1961.0 1312.7L1961.5 1312.7L1962.0 1312.7L1962.5 1312.7L1963.0 1312.7L1963.5 1312.7L1964.0 1312.7L1964.5 1312.7L1965.0 1312.7L1965.5 1312.7L1966.0 1312.7L1966.5 1312.7L1967.0 1312.7L1967.5 1312.7L1968.0 1312.7L1968.5 1312.7L1969.0 1312.7L1969.5 1312.7L1970.0 1312.7" stroke="#000" stroke-width="8.5"/>
</g>
<g stroke="#000" stroke-width="12.4" stroke-linecap="round"><line x1="815.3" y1="1359.0" x2="815.3" y2="1534"/><line x1="1004.7" y1="1429.0" x2="1004.7" y2="1534"/><line x1="1630.0" y1="1462.0" x2="1630.0" y2="1534"/><line x1="557.2" y1="1662.0" x2="557.2" y2="1737"/><line x1="719.7" y1="1556.0" x2="719.7" y2="1737"/><line x1="768.0" y1="1699.0" x2="768.0" y2="1737"/><line x1="951.6" y1="1682.0" x2="951.6" y2="1737"/><line x1="1266.7" y1="1703.0" x2="1266.7" y2="1737"/><line x1="1375.0" y1="1666.0" x2="1375.0" y2="1737"/><line x1="1545.8" y1="1657.0" x2="1545.8" y2="1737"/><line x1="1898.4" y1="1704.0" x2="1898.4" y2="1737"/><line x1="1929.7" y1="1711.0" x2="1929.7" y2="1737"/></g>
<g stroke="#000" stroke-width="12.6" stroke-linecap="round"><line x1="228.2" y1="1737" x2="228.2" y2="1770"/><line x1="519.6" y1="1737" x2="519.6" y2="1770"/><line x1="811.0" y1="1737" x2="811.0" y2="1770"/><line x1="1102.5" y1="1737" x2="1102.5" y2="1770"/><line x1="1393.9" y1="1737" x2="1393.9" y2="1770"/><line x1="1685.3" y1="1737" x2="1685.3" y2="1770"/><line x1="1976.7" y1="1737" x2="1976.7" y2="1770"/></g>
<line x1="228.2" y1="1534.3" x2="1976.7" y2="1534.3" stroke="#000" stroke-width="6.5"/>
<rect x="228.2" y="50.9" width="1748.5" height="1686.1" fill="none" stroke="#000" stroke-width="12.5"/>
<g font-family="'Liberation Sans', Arial, Helvetica, sans-serif" font-weight="bold" fill="#000">
<g font-size="100" text-anchor="middle" stroke="#fff" stroke-width="1.0"><text x="228.2" y="1871">20</text><text x="519.6" y="1871">30</text><text x="811.0" y="1871">40</text><text x="1102.5" y="1871">50</text><text x="1393.9" y="1871">60</text><text x="1685.3" y="1871">70</text><text x="1976.7" y="1871">80</text></g>
<g font-size="98.5" stroke="#fff" stroke-width="1.2">
<text x="247" y="224">(a)</text>
<text x="244" y="610">(b)</text>
<text x="243" y="911">(c)</text>
<text x="244" y="1213">(d)</text>
<text x="242.6" y="1465.3">(e)</text>
<text x="248.4" y="1692">(f)</text>
</g>
<text x="1121" y="1412" font-size="74" stroke="#000" stroke-width="1.1" transform="translate(0,1412) scale(1,1.04) translate(0,-1412)">Pd - JCPDS No. 46-1043</text>
<text x="1012" y="1613" font-size="74" stroke="#000" stroke-width="1.1">Co<tspan font-size="42" font-weight="normal" dy="26">3</tspan><tspan dy="-26">O</tspan><tspan font-size="42" font-weight="normal" dy="26">4</tspan><tspan dy="-26"> - JCPDS No. 43-1003</tspan></text>
<text x="751.5" y="2016.5" font-size="117">2</text>
<text transform="translate(814.9,2016.5) scale(1.16,1)" x="0" y="0" font-size="117" font-family="'Liberation Serif', 'Times New Roman', serif" font-weight="normal">θ</text>
<text x="909.5" y="2016.5" font-size="117" textLength="458" lengthAdjust="spacingAndGlyphs">(degree)</text>
<text transform="translate(103.3,1229) rotate(-90) scale(1,1.06)" font-size="116.6" stroke="#000" stroke-width="1.2">Intensity (a.u)</text>
</g>
</svg>
</body></html>
